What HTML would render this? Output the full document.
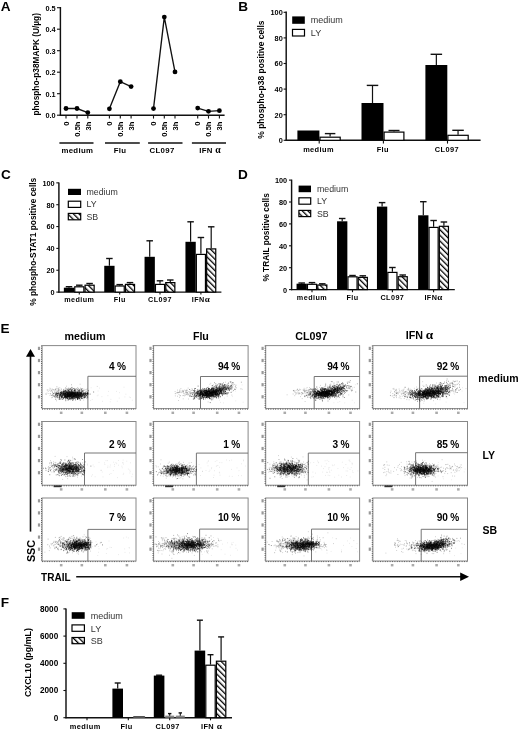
<!DOCTYPE html>
<html><head><meta charset="utf-8"><style>
html,body{margin:0;padding:0;background:#fff;width:520px;height:731px;overflow:hidden}
svg{display:block;filter:blur(0.3px)}
text{font-family:"Liberation Sans",sans-serif}
</style></head><body>
<svg width="520" height="731" viewBox="0 0 520 731">
<text x="0.80" y="10.80" font-size="13.6" text-anchor="start" font-weight="bold" fill="#000" >A</text>
<text x="238.20" y="10.90" font-size="13.6" text-anchor="start" font-weight="bold" fill="#000" >B</text>
<text x="1.00" y="179.30" font-size="13.6" text-anchor="start" font-weight="bold" fill="#000" >C</text>
<text x="238.00" y="179.30" font-size="13.6" text-anchor="start" font-weight="bold" fill="#000" >D</text>
<text x="0.60" y="333.20" font-size="13.6" text-anchor="start" font-weight="bold" fill="#000" >E</text>
<text x="0.80" y="606.90" font-size="13.6" text-anchor="start" font-weight="bold" fill="#000" >F</text>
<line x1="60.40" y1="7.00" x2="60.40" y2="115.80" stroke="#111" stroke-width="1.45"/>
<line x1="59.80" y1="115.20" x2="224.60" y2="115.20" stroke="#111" stroke-width="1.45"/>
<line x1="57.00" y1="115.20" x2="60.40" y2="115.20" stroke="#111" stroke-width="1.1"/>
<text transform="translate(55.60,118.10) scale(0.92,1)" font-size="8.0" text-anchor="end" font-weight="bold" fill="#000" >0.0</text>
<line x1="57.00" y1="93.70" x2="60.40" y2="93.70" stroke="#111" stroke-width="1.1"/>
<text transform="translate(55.60,96.60) scale(0.92,1)" font-size="8.0" text-anchor="end" font-weight="bold" fill="#000" >0.1</text>
<line x1="57.00" y1="72.20" x2="60.40" y2="72.20" stroke="#111" stroke-width="1.1"/>
<text transform="translate(55.60,75.10) scale(0.92,1)" font-size="8.0" text-anchor="end" font-weight="bold" fill="#000" >0.2</text>
<line x1="57.00" y1="50.70" x2="60.40" y2="50.70" stroke="#111" stroke-width="1.1"/>
<text transform="translate(55.60,53.60) scale(0.92,1)" font-size="8.0" text-anchor="end" font-weight="bold" fill="#000" >0.3</text>
<line x1="57.00" y1="29.20" x2="60.40" y2="29.20" stroke="#111" stroke-width="1.1"/>
<text transform="translate(55.60,32.10) scale(0.92,1)" font-size="8.0" text-anchor="end" font-weight="bold" fill="#000" >0.4</text>
<line x1="57.00" y1="7.70" x2="60.40" y2="7.70" stroke="#111" stroke-width="1.1"/>
<text transform="translate(55.60,10.60) scale(0.92,1)" font-size="8.0" text-anchor="end" font-weight="bold" fill="#000" >0.5</text>
<text transform="translate(39.30,64.30) rotate(-90)" font-size="8.3" text-anchor="middle" font-weight="bold" fill="#000" >phospho-p38MAPK (U/µg)</text>
<line x1="66.00" y1="115.20" x2="66.00" y2="118.60" stroke="#111" stroke-width="1.1"/>
<line x1="77.00" y1="115.20" x2="77.00" y2="118.60" stroke="#111" stroke-width="1.1"/>
<line x1="87.80" y1="115.20" x2="87.80" y2="118.60" stroke="#111" stroke-width="1.1"/>
<text transform="translate(68.70,121.50) rotate(-90)" font-size="7.6" text-anchor="end" font-weight="bold" fill="#000" >0</text>
<text transform="translate(79.70,121.50) rotate(-90)" font-size="7.6" text-anchor="end" font-weight="bold" fill="#000" >0.5h</text>
<text transform="translate(90.50,121.50) rotate(-90)" font-size="7.6" text-anchor="end" font-weight="bold" fill="#000" >3h</text>
<polyline points="66.00,108.50 77.00,108.50 87.80,112.60" fill="none" stroke="#111" stroke-width="1.35"/>
<circle cx="66.00" cy="108.50" r="2.4" fill="#000"/>
<circle cx="77.00" cy="108.50" r="2.4" fill="#000"/>
<circle cx="87.80" cy="112.60" r="2.4" fill="#000"/>
<line x1="109.40" y1="115.20" x2="109.40" y2="118.60" stroke="#111" stroke-width="1.1"/>
<line x1="120.30" y1="115.20" x2="120.30" y2="118.60" stroke="#111" stroke-width="1.1"/>
<line x1="131.10" y1="115.20" x2="131.10" y2="118.60" stroke="#111" stroke-width="1.1"/>
<text transform="translate(112.10,121.50) rotate(-90)" font-size="7.6" text-anchor="end" font-weight="bold" fill="#000" >0</text>
<text transform="translate(123.00,121.50) rotate(-90)" font-size="7.6" text-anchor="end" font-weight="bold" fill="#000" >0.5h</text>
<text transform="translate(133.80,121.50) rotate(-90)" font-size="7.6" text-anchor="end" font-weight="bold" fill="#000" >3h</text>
<polyline points="109.40,108.80 120.30,81.70 131.10,86.60" fill="none" stroke="#111" stroke-width="1.35"/>
<circle cx="109.40" cy="108.80" r="2.4" fill="#000"/>
<circle cx="120.30" cy="81.70" r="2.4" fill="#000"/>
<circle cx="131.10" cy="86.60" r="2.4" fill="#000"/>
<line x1="153.50" y1="115.20" x2="153.50" y2="118.60" stroke="#111" stroke-width="1.1"/>
<line x1="164.30" y1="115.20" x2="164.30" y2="118.60" stroke="#111" stroke-width="1.1"/>
<line x1="175.00" y1="115.20" x2="175.00" y2="118.60" stroke="#111" stroke-width="1.1"/>
<text transform="translate(156.20,121.50) rotate(-90)" font-size="7.6" text-anchor="end" font-weight="bold" fill="#000" >0</text>
<text transform="translate(167.00,121.50) rotate(-90)" font-size="7.6" text-anchor="end" font-weight="bold" fill="#000" >0.5h</text>
<text transform="translate(177.70,121.50) rotate(-90)" font-size="7.6" text-anchor="end" font-weight="bold" fill="#000" >3h</text>
<polyline points="153.50,108.60 164.30,17.10 175.00,71.90" fill="none" stroke="#111" stroke-width="1.35"/>
<circle cx="153.50" cy="108.60" r="2.4" fill="#000"/>
<circle cx="164.30" cy="17.10" r="2.4" fill="#000"/>
<circle cx="175.00" cy="71.90" r="2.4" fill="#000"/>
<line x1="197.70" y1="115.20" x2="197.70" y2="118.60" stroke="#111" stroke-width="1.1"/>
<line x1="208.50" y1="115.20" x2="208.50" y2="118.60" stroke="#111" stroke-width="1.1"/>
<line x1="219.40" y1="115.20" x2="219.40" y2="118.60" stroke="#111" stroke-width="1.1"/>
<text transform="translate(200.40,121.50) rotate(-90)" font-size="7.6" text-anchor="end" font-weight="bold" fill="#000" >0</text>
<text transform="translate(211.20,121.50) rotate(-90)" font-size="7.6" text-anchor="end" font-weight="bold" fill="#000" >0.5h</text>
<text transform="translate(222.10,121.50) rotate(-90)" font-size="7.6" text-anchor="end" font-weight="bold" fill="#000" >3h</text>
<polyline points="197.70,108.10 208.50,111.30 219.40,110.70" fill="none" stroke="#111" stroke-width="1.35"/>
<circle cx="197.70" cy="108.10" r="2.4" fill="#000"/>
<circle cx="208.50" cy="111.30" r="2.4" fill="#000"/>
<circle cx="219.40" cy="110.70" r="2.4" fill="#000"/>
<line x1="59.40" y1="143.00" x2="93.50" y2="143.00" stroke="#111" stroke-width="1.5"/>
<text x="77.40" y="152.60" font-size="7.8" text-anchor="middle" font-weight="bold" fill="#000" letter-spacing="0.35">medium</text>
<line x1="105.00" y1="143.00" x2="139.80" y2="143.00" stroke="#111" stroke-width="1.5"/>
<text x="120.00" y="152.60" font-size="7.8" text-anchor="middle" font-weight="bold" fill="#000" letter-spacing="0.35">Flu</text>
<line x1="148.10" y1="143.00" x2="182.50" y2="143.00" stroke="#111" stroke-width="1.5"/>
<text x="162.10" y="152.60" font-size="7.8" text-anchor="middle" font-weight="bold" fill="#000" letter-spacing="0.35">CL097</text>
<line x1="191.90" y1="143.00" x2="226.00" y2="143.00" stroke="#111" stroke-width="1.5"/>
<text x="210.20" y="152.60" font-size="7.8" text-anchor="middle" font-weight="bold" fill="#000" letter-spacing="0.35">IFN <tspan font-family="Liberation Serif" font-size="1.25em">α</tspan></text>
<defs><pattern id="h" patternUnits="userSpaceOnUse" width="4" height="4" patternTransform="rotate(-45)"><rect width="4" height="4" fill="#fff"/><rect x="0" y="0" width="1.3" height="4" fill="#000"/></pattern></defs>
<line x1="286.20" y1="11.60" x2="286.20" y2="140.90" stroke="#111" stroke-width="1.45"/>
<line x1="285.60" y1="140.30" x2="480.60" y2="140.30" stroke="#111" stroke-width="1.45"/>
<line x1="283.60" y1="140.30" x2="286.20" y2="140.30" stroke="#111" stroke-width="1.1"/>
<text transform="translate(282.80,143.20) scale(0.92,1)" font-size="8.0" text-anchor="end" font-weight="bold" fill="#000" >0</text>
<line x1="283.60" y1="114.70" x2="286.20" y2="114.70" stroke="#111" stroke-width="1.1"/>
<text transform="translate(282.80,117.60) scale(0.92,1)" font-size="8.0" text-anchor="end" font-weight="bold" fill="#000" >20</text>
<line x1="283.60" y1="89.10" x2="286.20" y2="89.10" stroke="#111" stroke-width="1.1"/>
<text transform="translate(282.80,92.00) scale(0.92,1)" font-size="8.0" text-anchor="end" font-weight="bold" fill="#000" >40</text>
<line x1="283.60" y1="63.50" x2="286.20" y2="63.50" stroke="#111" stroke-width="1.1"/>
<text transform="translate(282.80,66.40) scale(0.92,1)" font-size="8.0" text-anchor="end" font-weight="bold" fill="#000" >60</text>
<line x1="283.60" y1="37.90" x2="286.20" y2="37.90" stroke="#111" stroke-width="1.1"/>
<text transform="translate(282.80,40.80) scale(0.92,1)" font-size="8.0" text-anchor="end" font-weight="bold" fill="#000" >80</text>
<line x1="283.60" y1="12.30" x2="286.20" y2="12.30" stroke="#111" stroke-width="1.1"/>
<text transform="translate(282.80,15.20) scale(0.92,1)" font-size="8.0" text-anchor="end" font-weight="bold" fill="#000" >100</text>
<text transform="translate(264.00,79.60) rotate(-90)" font-size="8.45" text-anchor="middle" font-weight="bold" fill="#000" >% phospho-p38 positive cells</text>
<rect x="297.40" y="130.50" width="22.00" height="9.80" fill="#000"/>
<line x1="330.10" y1="133.60" x2="330.10" y2="136.60" stroke="#111" stroke-width="1.2"/>
<line x1="324.85" y1="133.60" x2="335.35" y2="133.60" stroke="#111" stroke-width="1.4"/>
<rect x="320.00" y="137.20" width="20.20" height="3.10" fill="#fff" stroke="#000" stroke-width="1.2"/>
<line x1="372.50" y1="85.40" x2="372.50" y2="103.00" stroke="#111" stroke-width="1.2"/>
<line x1="366.75" y1="85.40" x2="378.25" y2="85.40" stroke="#111" stroke-width="1.4"/>
<rect x="361.50" y="103.00" width="22.00" height="37.30" fill="#000"/>
<line x1="394.00" y1="130.50" x2="394.00" y2="131.50" stroke="#111" stroke-width="1.2"/>
<line x1="388.50" y1="130.50" x2="399.50" y2="130.50" stroke="#111" stroke-width="1.4"/>
<rect x="384.10" y="132.10" width="19.80" height="8.20" fill="#fff" stroke="#000" stroke-width="1.2"/>
<line x1="436.35" y1="54.30" x2="436.35" y2="65.00" stroke="#111" stroke-width="1.2"/>
<line x1="430.60" y1="54.30" x2="442.10" y2="54.30" stroke="#111" stroke-width="1.4"/>
<rect x="425.40" y="65.00" width="21.90" height="75.30" fill="#000"/>
<line x1="458.05" y1="130.30" x2="458.05" y2="134.70" stroke="#111" stroke-width="1.2"/>
<line x1="452.30" y1="130.30" x2="463.80" y2="130.30" stroke="#111" stroke-width="1.4"/>
<rect x="447.90" y="135.30" width="20.30" height="5.00" fill="#fff" stroke="#000" stroke-width="1.2"/>
<line x1="319.20" y1="140.30" x2="319.20" y2="143.60" stroke="#111" stroke-width="1.1"/>
<line x1="383.40" y1="140.30" x2="383.40" y2="143.60" stroke="#111" stroke-width="1.1"/>
<line x1="447.50" y1="140.30" x2="447.50" y2="143.60" stroke="#111" stroke-width="1.1"/>
<text x="318.50" y="151.80" font-size="7.4" text-anchor="middle" font-weight="bold" fill="#000" letter-spacing="0.4">medium</text>
<text x="382.80" y="151.80" font-size="7.4" text-anchor="middle" font-weight="bold" fill="#000" letter-spacing="0.4">Flu</text>
<text x="446.90" y="151.80" font-size="7.4" text-anchor="middle" font-weight="bold" fill="#000" letter-spacing="0.4">CL097</text>
<rect x="292.20" y="16.40" width="12.60" height="7.40" fill="#000"/>
<rect x="292.50" y="29.40" width="12.00" height="6.60" fill="#fff" stroke="#000" stroke-width="1.2"/>
<text x="310.80" y="23.30" font-size="9.0" text-anchor="start" fill="#333" >medium</text>
<text x="310.80" y="35.90" font-size="9.0" text-anchor="start" fill="#333" >LY</text>
<line x1="58.90" y1="182.60" x2="58.90" y2="292.70" stroke="#111" stroke-width="1.45"/>
<line x1="58.30" y1="292.10" x2="221.40" y2="292.10" stroke="#111" stroke-width="1.45"/>
<line x1="56.30" y1="292.10" x2="58.90" y2="292.10" stroke="#111" stroke-width="1.1"/>
<text transform="translate(54.70,295.00) scale(0.92,1)" font-size="8.0" text-anchor="end" font-weight="bold" fill="#000" >0</text>
<line x1="56.30" y1="270.25" x2="58.90" y2="270.25" stroke="#111" stroke-width="1.1"/>
<text transform="translate(54.70,273.15) scale(0.92,1)" font-size="8.0" text-anchor="end" font-weight="bold" fill="#000" >20</text>
<line x1="56.30" y1="248.40" x2="58.90" y2="248.40" stroke="#111" stroke-width="1.1"/>
<text transform="translate(54.70,251.30) scale(0.92,1)" font-size="8.0" text-anchor="end" font-weight="bold" fill="#000" >40</text>
<line x1="56.30" y1="226.55" x2="58.90" y2="226.55" stroke="#111" stroke-width="1.1"/>
<text transform="translate(54.70,229.45) scale(0.92,1)" font-size="8.0" text-anchor="end" font-weight="bold" fill="#000" >60</text>
<line x1="56.30" y1="204.70" x2="58.90" y2="204.70" stroke="#111" stroke-width="1.1"/>
<text transform="translate(54.70,207.60) scale(0.92,1)" font-size="8.0" text-anchor="end" font-weight="bold" fill="#000" >80</text>
<line x1="56.30" y1="182.85" x2="58.90" y2="182.85" stroke="#111" stroke-width="1.1"/>
<text transform="translate(54.70,185.75) scale(0.92,1)" font-size="8.0" text-anchor="end" font-weight="bold" fill="#000" >100</text>
<text transform="translate(36.20,241.80) rotate(-90)" font-size="8.4" text-anchor="middle" font-weight="bold" fill="#000" >% phospho-STAT1 positive cells</text>
<line x1="69.00" y1="286.70" x2="69.00" y2="287.70" stroke="#111" stroke-width="1.2"/>
<line x1="65.75" y1="286.70" x2="72.25" y2="286.70" stroke="#111" stroke-width="1.4"/>
<rect x="63.85" y="287.70" width="10.30" height="4.40" fill="#000"/>
<line x1="79.30" y1="285.20" x2="79.30" y2="286.20" stroke="#111" stroke-width="1.2"/>
<line x1="76.05" y1="285.20" x2="82.55" y2="285.20" stroke="#111" stroke-width="1.4"/>
<rect x="74.75" y="286.80" width="9.10" height="5.30" fill="#fff" stroke="#000" stroke-width="1.2"/>
<line x1="89.60" y1="283.50" x2="89.60" y2="284.60" stroke="#111" stroke-width="1.2"/>
<line x1="86.35" y1="283.50" x2="92.85" y2="283.50" stroke="#111" stroke-width="1.4"/>
<rect x="85.05" y="285.20" width="9.10" height="6.90" fill="url(#h)" stroke="#000" stroke-width="1.2"/>
<line x1="79.30" y1="292.10" x2="79.30" y2="294.60" stroke="#111" stroke-width="1.1"/>
<line x1="109.40" y1="258.50" x2="109.40" y2="265.80" stroke="#111" stroke-width="1.2"/>
<line x1="106.15" y1="258.50" x2="112.65" y2="258.50" stroke="#111" stroke-width="1.4"/>
<rect x="104.25" y="265.80" width="10.30" height="26.30" fill="#000"/>
<line x1="119.70" y1="284.60" x2="119.70" y2="285.40" stroke="#111" stroke-width="1.2"/>
<line x1="116.45" y1="284.60" x2="122.95" y2="284.60" stroke="#111" stroke-width="1.4"/>
<rect x="115.15" y="286.00" width="9.10" height="6.10" fill="#fff" stroke="#000" stroke-width="1.2"/>
<line x1="130.00" y1="282.60" x2="130.00" y2="283.80" stroke="#111" stroke-width="1.2"/>
<line x1="126.75" y1="282.60" x2="133.25" y2="282.60" stroke="#111" stroke-width="1.4"/>
<rect x="125.45" y="284.40" width="9.10" height="7.70" fill="url(#h)" stroke="#000" stroke-width="1.2"/>
<line x1="119.70" y1="292.10" x2="119.70" y2="294.60" stroke="#111" stroke-width="1.1"/>
<line x1="149.70" y1="240.80" x2="149.70" y2="256.80" stroke="#111" stroke-width="1.2"/>
<line x1="146.45" y1="240.80" x2="152.95" y2="240.80" stroke="#111" stroke-width="1.4"/>
<rect x="144.55" y="256.80" width="10.30" height="35.30" fill="#000"/>
<line x1="160.00" y1="280.80" x2="160.00" y2="283.80" stroke="#111" stroke-width="1.2"/>
<line x1="156.75" y1="280.80" x2="163.25" y2="280.80" stroke="#111" stroke-width="1.4"/>
<rect x="155.45" y="284.40" width="9.10" height="7.70" fill="#fff" stroke="#000" stroke-width="1.2"/>
<line x1="170.30" y1="280.00" x2="170.30" y2="282.00" stroke="#111" stroke-width="1.2"/>
<line x1="167.05" y1="280.00" x2="173.55" y2="280.00" stroke="#111" stroke-width="1.4"/>
<rect x="165.75" y="282.60" width="9.10" height="9.50" fill="url(#h)" stroke="#000" stroke-width="1.2"/>
<line x1="160.00" y1="292.10" x2="160.00" y2="294.60" stroke="#111" stroke-width="1.1"/>
<line x1="190.60" y1="221.80" x2="190.60" y2="241.80" stroke="#111" stroke-width="1.2"/>
<line x1="187.35" y1="221.80" x2="193.85" y2="221.80" stroke="#111" stroke-width="1.4"/>
<rect x="185.45" y="241.80" width="10.30" height="50.30" fill="#000"/>
<line x1="200.90" y1="237.50" x2="200.90" y2="253.80" stroke="#111" stroke-width="1.2"/>
<line x1="197.65" y1="237.50" x2="204.15" y2="237.50" stroke="#111" stroke-width="1.4"/>
<rect x="196.35" y="254.40" width="9.10" height="37.70" fill="#fff" stroke="#000" stroke-width="1.2"/>
<line x1="211.20" y1="226.80" x2="211.20" y2="248.30" stroke="#111" stroke-width="1.2"/>
<line x1="207.95" y1="226.80" x2="214.45" y2="226.80" stroke="#111" stroke-width="1.4"/>
<rect x="206.65" y="248.90" width="9.10" height="43.20" fill="url(#h)" stroke="#000" stroke-width="1.2"/>
<line x1="200.90" y1="292.10" x2="200.90" y2="294.60" stroke="#111" stroke-width="1.1"/>
<text x="79.30" y="302.30" font-size="7.2" text-anchor="middle" font-weight="bold" fill="#000" letter-spacing="0.45">medium</text>
<text x="119.70" y="302.30" font-size="7.2" text-anchor="middle" font-weight="bold" fill="#000" letter-spacing="0.45">Flu</text>
<text x="160.00" y="302.30" font-size="7.2" text-anchor="middle" font-weight="bold" fill="#000" letter-spacing="0.45">CL097</text>
<text x="200.90" y="302.30" font-size="7.2" text-anchor="middle" font-weight="bold" fill="#000" letter-spacing="0.45">IFN<tspan font-family="Liberation Serif" font-size="1.25em">α</tspan></text>
<rect x="68.00" y="188.80" width="13.00" height="6.20" fill="#000"/>
<text x="86.50" y="194.70" font-size="8.8" text-anchor="start" fill="#333" >medium</text>
<rect x="68.30" y="201.20" width="12.40" height="6.20" fill="#fff" stroke="#000" stroke-width="1.2"/>
<text x="86.50" y="207.20" font-size="8.8" text-anchor="start" fill="#333" >LY</text>
<rect x="68.30" y="213.40" width="12.40" height="6.40" fill="url(#h)" stroke="#000" stroke-width="1.2"/>
<text x="86.50" y="219.70" font-size="8.8" text-anchor="start" fill="#333" >SB</text>
<line x1="291.60" y1="179.60" x2="291.60" y2="290.20" stroke="#111" stroke-width="1.45"/>
<line x1="291.00" y1="289.60" x2="454.80" y2="289.60" stroke="#111" stroke-width="1.45"/>
<line x1="289.00" y1="289.60" x2="291.60" y2="289.60" stroke="#111" stroke-width="1.1"/>
<text transform="translate(287.20,292.50) scale(0.92,1)" font-size="8.0" text-anchor="end" font-weight="bold" fill="#000" >0</text>
<line x1="289.00" y1="267.70" x2="291.60" y2="267.70" stroke="#111" stroke-width="1.1"/>
<text transform="translate(287.20,270.60) scale(0.92,1)" font-size="8.0" text-anchor="end" font-weight="bold" fill="#000" >20</text>
<line x1="289.00" y1="245.80" x2="291.60" y2="245.80" stroke="#111" stroke-width="1.1"/>
<text transform="translate(287.20,248.70) scale(0.92,1)" font-size="8.0" text-anchor="end" font-weight="bold" fill="#000" >40</text>
<line x1="289.00" y1="223.90" x2="291.60" y2="223.90" stroke="#111" stroke-width="1.1"/>
<text transform="translate(287.20,226.80) scale(0.92,1)" font-size="8.0" text-anchor="end" font-weight="bold" fill="#000" >60</text>
<line x1="289.00" y1="202.00" x2="291.60" y2="202.00" stroke="#111" stroke-width="1.1"/>
<text transform="translate(287.20,204.90) scale(0.92,1)" font-size="8.0" text-anchor="end" font-weight="bold" fill="#000" >80</text>
<line x1="289.00" y1="180.10" x2="291.60" y2="180.10" stroke="#111" stroke-width="1.1"/>
<text transform="translate(287.20,183.00) scale(0.92,1)" font-size="8.0" text-anchor="end" font-weight="bold" fill="#000" >100</text>
<text transform="translate(269.20,237.40) rotate(-90)" font-size="8.3" text-anchor="middle" font-weight="bold" fill="#000" >% TRAIL positive cells</text>
<line x1="301.70" y1="283.00" x2="301.70" y2="283.70" stroke="#111" stroke-width="1.2"/>
<line x1="298.45" y1="283.00" x2="304.95" y2="283.00" stroke="#111" stroke-width="1.4"/>
<rect x="296.55" y="283.70" width="10.30" height="5.90" fill="#000"/>
<line x1="312.00" y1="282.60" x2="312.00" y2="283.70" stroke="#111" stroke-width="1.2"/>
<line x1="308.75" y1="282.60" x2="315.25" y2="282.60" stroke="#111" stroke-width="1.4"/>
<rect x="307.45" y="284.30" width="9.10" height="5.30" fill="#fff" stroke="#000" stroke-width="1.2"/>
<line x1="322.30" y1="283.80" x2="322.30" y2="284.40" stroke="#111" stroke-width="1.2"/>
<line x1="319.05" y1="283.80" x2="325.55" y2="283.80" stroke="#111" stroke-width="1.4"/>
<rect x="317.75" y="285.00" width="9.10" height="4.60" fill="url(#h)" stroke="#000" stroke-width="1.2"/>
<line x1="312.00" y1="289.60" x2="312.00" y2="292.20" stroke="#111" stroke-width="1.1"/>
<line x1="342.20" y1="218.50" x2="342.20" y2="221.30" stroke="#111" stroke-width="1.2"/>
<line x1="338.95" y1="218.50" x2="345.45" y2="218.50" stroke="#111" stroke-width="1.4"/>
<rect x="337.05" y="221.30" width="10.30" height="68.30" fill="#000"/>
<line x1="352.50" y1="275.50" x2="352.50" y2="276.20" stroke="#111" stroke-width="1.2"/>
<line x1="349.25" y1="275.50" x2="355.75" y2="275.50" stroke="#111" stroke-width="1.4"/>
<rect x="347.95" y="276.80" width="9.10" height="12.80" fill="#fff" stroke="#000" stroke-width="1.2"/>
<line x1="362.80" y1="275.80" x2="362.80" y2="276.80" stroke="#111" stroke-width="1.2"/>
<line x1="359.55" y1="275.80" x2="366.05" y2="275.80" stroke="#111" stroke-width="1.4"/>
<rect x="358.25" y="277.40" width="9.10" height="12.20" fill="url(#h)" stroke="#000" stroke-width="1.2"/>
<line x1="352.50" y1="289.60" x2="352.50" y2="292.20" stroke="#111" stroke-width="1.1"/>
<line x1="382.10" y1="202.60" x2="382.10" y2="206.60" stroke="#111" stroke-width="1.2"/>
<line x1="378.85" y1="202.60" x2="385.35" y2="202.60" stroke="#111" stroke-width="1.4"/>
<rect x="376.95" y="206.60" width="10.30" height="83.00" fill="#000"/>
<line x1="392.40" y1="267.50" x2="392.40" y2="271.80" stroke="#111" stroke-width="1.2"/>
<line x1="389.15" y1="267.50" x2="395.65" y2="267.50" stroke="#111" stroke-width="1.4"/>
<rect x="387.85" y="272.40" width="9.10" height="17.20" fill="#fff" stroke="#000" stroke-width="1.2"/>
<line x1="402.70" y1="275.00" x2="402.70" y2="276.10" stroke="#111" stroke-width="1.2"/>
<line x1="399.45" y1="275.00" x2="405.95" y2="275.00" stroke="#111" stroke-width="1.4"/>
<rect x="398.15" y="276.70" width="9.10" height="12.90" fill="url(#h)" stroke="#000" stroke-width="1.2"/>
<line x1="392.40" y1="289.60" x2="392.40" y2="292.20" stroke="#111" stroke-width="1.1"/>
<line x1="423.30" y1="201.70" x2="423.30" y2="215.30" stroke="#111" stroke-width="1.2"/>
<line x1="420.05" y1="201.70" x2="426.55" y2="201.70" stroke="#111" stroke-width="1.4"/>
<rect x="418.15" y="215.30" width="10.30" height="74.30" fill="#000"/>
<line x1="433.60" y1="220.50" x2="433.60" y2="226.80" stroke="#111" stroke-width="1.2"/>
<line x1="430.35" y1="220.50" x2="436.85" y2="220.50" stroke="#111" stroke-width="1.4"/>
<rect x="429.05" y="227.40" width="9.10" height="62.20" fill="#fff" stroke="#000" stroke-width="1.2"/>
<line x1="443.90" y1="222.00" x2="443.90" y2="225.70" stroke="#111" stroke-width="1.2"/>
<line x1="440.65" y1="222.00" x2="447.15" y2="222.00" stroke="#111" stroke-width="1.4"/>
<rect x="439.35" y="226.30" width="9.10" height="63.30" fill="url(#h)" stroke="#000" stroke-width="1.2"/>
<line x1="433.60" y1="289.60" x2="433.60" y2="292.20" stroke="#111" stroke-width="1.1"/>
<text x="312.00" y="299.80" font-size="7.2" text-anchor="middle" font-weight="bold" fill="#000" letter-spacing="0.45">medium</text>
<text x="352.50" y="299.80" font-size="7.2" text-anchor="middle" font-weight="bold" fill="#000" letter-spacing="0.45">Flu</text>
<text x="392.40" y="299.80" font-size="7.2" text-anchor="middle" font-weight="bold" fill="#000" letter-spacing="0.45">CL097</text>
<text x="433.60" y="299.80" font-size="7.2" text-anchor="middle" font-weight="bold" fill="#000" letter-spacing="0.45">IFN<tspan font-family="Liberation Serif" font-size="1.25em">α</tspan></text>
<rect x="298.60" y="185.60" width="12.40" height="6.60" fill="#000"/>
<text x="317.00" y="191.90" font-size="8.8" text-anchor="start" fill="#333" >medium</text>
<rect x="298.90" y="197.80" width="11.80" height="6.40" fill="#fff" stroke="#000" stroke-width="1.2"/>
<text x="317.00" y="204.20" font-size="8.8" text-anchor="start" fill="#333" >LY</text>
<rect x="298.90" y="210.40" width="11.80" height="6.20" fill="url(#h)" stroke="#000" stroke-width="1.2"/>
<text x="317.00" y="216.60" font-size="8.8" text-anchor="start" fill="#333" >SB</text>
<line x1="66.00" y1="608.60" x2="66.00" y2="718.30" stroke="#111" stroke-width="1.45"/>
<line x1="65.40" y1="717.70" x2="232.00" y2="717.70" stroke="#111" stroke-width="1.45"/>
<line x1="63.40" y1="717.70" x2="66.00" y2="717.70" stroke="#111" stroke-width="1.1"/>
<text x="58.20" y="720.60" font-size="8.2" text-anchor="end" font-weight="bold" fill="#000" >0</text>
<line x1="63.40" y1="690.50" x2="66.00" y2="690.50" stroke="#111" stroke-width="1.1"/>
<text x="58.20" y="693.40" font-size="8.2" text-anchor="end" font-weight="bold" fill="#000" >2000</text>
<line x1="63.40" y1="663.30" x2="66.00" y2="663.30" stroke="#111" stroke-width="1.1"/>
<text x="58.20" y="666.20" font-size="8.2" text-anchor="end" font-weight="bold" fill="#000" >4000</text>
<line x1="63.40" y1="636.10" x2="66.00" y2="636.10" stroke="#111" stroke-width="1.1"/>
<text x="58.20" y="639.00" font-size="8.2" text-anchor="end" font-weight="bold" fill="#000" >6000</text>
<line x1="63.40" y1="608.90" x2="66.00" y2="608.90" stroke="#111" stroke-width="1.1"/>
<text x="58.20" y="611.80" font-size="8.2" text-anchor="end" font-weight="bold" fill="#000" >8000</text>
<text transform="translate(30.60,662.60) rotate(-90)" font-size="8.9" text-anchor="middle" font-weight="bold" fill="#000" >CXCL10 (pg/mL)</text>
<line x1="87.00" y1="717.70" x2="87.00" y2="720.30" stroke="#111" stroke-width="1.1"/>
<line x1="117.70" y1="683.00" x2="117.70" y2="688.60" stroke="#111" stroke-width="1.2"/>
<line x1="114.70" y1="683.00" x2="120.70" y2="683.00" stroke="#111" stroke-width="1.4"/>
<rect x="112.40" y="688.60" width="10.60" height="29.10" fill="#000"/>
<line x1="128.30" y1="717.70" x2="128.30" y2="720.30" stroke="#111" stroke-width="1.1"/>
<line x1="159.10" y1="675.20" x2="159.10" y2="675.60" stroke="#111" stroke-width="1.2"/>
<line x1="156.10" y1="675.20" x2="162.10" y2="675.20" stroke="#111" stroke-width="1.4"/>
<rect x="153.80" y="675.60" width="10.60" height="42.10" fill="#000"/>
<line x1="169.70" y1="713.60" x2="169.70" y2="716.20" stroke="#111" stroke-width="1.1"/>
<line x1="168.00" y1="713.60" x2="171.40" y2="713.60" stroke="#111" stroke-width="1.4"/>
<rect x="165.20" y="715.60" width="9.00" height="2.10" fill="#888"/>
<line x1="180.30" y1="712.90" x2="180.30" y2="716.20" stroke="#111" stroke-width="1.1"/>
<line x1="178.60" y1="712.90" x2="182.00" y2="712.90" stroke="#111" stroke-width="1.4"/>
<rect x="175.80" y="715.60" width="9.00" height="2.10" fill="#888"/>
<line x1="169.70" y1="717.70" x2="169.70" y2="720.30" stroke="#111" stroke-width="1.1"/>
<line x1="199.90" y1="620.20" x2="199.90" y2="650.60" stroke="#111" stroke-width="1.2"/>
<line x1="196.90" y1="620.20" x2="202.90" y2="620.20" stroke="#111" stroke-width="1.4"/>
<rect x="194.60" y="650.60" width="10.60" height="67.10" fill="#000"/>
<line x1="210.50" y1="654.70" x2="210.50" y2="664.60" stroke="#111" stroke-width="1.2"/>
<line x1="207.50" y1="654.70" x2="213.50" y2="654.70" stroke="#111" stroke-width="1.4"/>
<rect x="205.80" y="665.20" width="9.40" height="52.50" fill="#fff" stroke="#000" stroke-width="1.2"/>
<line x1="221.10" y1="636.90" x2="221.10" y2="660.60" stroke="#111" stroke-width="1.2"/>
<line x1="218.10" y1="636.90" x2="224.10" y2="636.90" stroke="#111" stroke-width="1.4"/>
<rect x="216.40" y="661.20" width="9.40" height="56.50" fill="url(#h)" stroke="#000" stroke-width="1.2"/>
<line x1="210.50" y1="717.70" x2="210.50" y2="720.30" stroke="#111" stroke-width="1.1"/>
<rect x="133.0" y="715.9" width="12.2" height="2.2" rx="1.1" fill="#555"/>
<text x="85.20" y="728.90" font-size="7.4" text-anchor="middle" font-weight="bold" fill="#000" letter-spacing="0.45">medium</text>
<text x="126.60" y="728.90" font-size="7.4" text-anchor="middle" font-weight="bold" fill="#000" letter-spacing="0.45">Flu</text>
<text x="167.70" y="728.90" font-size="7.4" text-anchor="middle" font-weight="bold" fill="#000" letter-spacing="0.45">CL097</text>
<text x="211.60" y="728.90" font-size="7.4" text-anchor="middle" font-weight="bold" fill="#000" letter-spacing="0.45">IFN <tspan font-family="Liberation Serif" font-size="1.25em">α</tspan></text>
<rect x="71.70" y="612.20" width="13.00" height="6.60" fill="#000"/>
<text x="90.80" y="619.20" font-size="9.0" text-anchor="start" fill="#333" >medium</text>
<rect x="72.00" y="624.90" width="12.40" height="6.40" fill="#fff" stroke="#000" stroke-width="1.2"/>
<text x="90.80" y="631.50" font-size="9.0" text-anchor="start" fill="#333" >LY</text>
<rect x="72.00" y="637.50" width="12.40" height="6.20" fill="url(#h)" stroke="#000" stroke-width="1.2"/>
<text x="90.80" y="644.00" font-size="9.0" text-anchor="start" fill="#333" >SB</text>
<rect x="42.10" y="345.60" width="93.90" height="63.00" fill="none" stroke="#888" stroke-width="1"/>
<polyline points="87.90,408.60 87.90,376.30 136.00,376.30" fill="none" stroke="#666" stroke-width="0.9"/>
<text x="125.80" y="369.70" font-size="10.1" text-anchor="end" font-weight="bold" fill="#000" letter-spacing="-0.2">4 %</text>
<line x1="41.50" y1="345.60" x2="41.50" y2="408.60" stroke="#444" stroke-width="1" stroke-dasharray="0.8 1.4"/>
<line x1="42.10" y1="409.20" x2="136.00" y2="409.20" stroke="#444" stroke-width="1" stroke-dasharray="0.8 1.6"/>
<rect x="37.90" y="346.80" width="2.2" height="3.2" fill="#999"/>
<rect x="37.90" y="358.90" width="2.2" height="3.2" fill="#999"/>
<rect x="37.90" y="371.00" width="2.2" height="3.2" fill="#999"/>
<rect x="37.90" y="383.10" width="2.2" height="3.2" fill="#999"/>
<rect x="37.90" y="395.20" width="2.2" height="3.2" fill="#999"/>
<rect x="59.88" y="411.60" width="2.6" height="2.4" fill="#aaa"/>
<rect x="80.54" y="411.60" width="2.6" height="2.4" fill="#aaa"/>
<rect x="104.01" y="411.60" width="2.6" height="2.4" fill="#aaa"/>
<rect x="125.61" y="411.60" width="2.6" height="2.4" fill="#aaa"/>
<rect x="153.60" y="345.60" width="94.50" height="63.00" fill="none" stroke="#888" stroke-width="1"/>
<polyline points="200.50,408.60 200.50,376.50 248.10,376.50" fill="none" stroke="#666" stroke-width="0.9"/>
<text x="240.10" y="369.70" font-size="10.1" text-anchor="end" font-weight="bold" fill="#000" letter-spacing="-0.2">94 %</text>
<line x1="153.00" y1="345.60" x2="153.00" y2="408.60" stroke="#444" stroke-width="1" stroke-dasharray="0.8 1.4"/>
<line x1="153.60" y1="409.20" x2="248.10" y2="409.20" stroke="#444" stroke-width="1" stroke-dasharray="0.8 1.6"/>
<rect x="149.40" y="346.80" width="2.2" height="3.2" fill="#999"/>
<rect x="149.40" y="358.90" width="2.2" height="3.2" fill="#999"/>
<rect x="149.40" y="371.00" width="2.2" height="3.2" fill="#999"/>
<rect x="149.40" y="383.10" width="2.2" height="3.2" fill="#999"/>
<rect x="149.40" y="395.20" width="2.2" height="3.2" fill="#999"/>
<rect x="171.50" y="411.60" width="2.6" height="2.4" fill="#aaa"/>
<rect x="192.29" y="411.60" width="2.6" height="2.4" fill="#aaa"/>
<rect x="215.91" y="411.60" width="2.6" height="2.4" fill="#aaa"/>
<rect x="237.65" y="411.60" width="2.6" height="2.4" fill="#aaa"/>
<rect x="265.70" y="345.60" width="93.90" height="63.00" fill="none" stroke="#888" stroke-width="1"/>
<polyline points="314.20,408.60 314.20,376.50 359.60,376.50" fill="none" stroke="#666" stroke-width="0.9"/>
<text x="349.40" y="369.70" font-size="10.1" text-anchor="end" font-weight="bold" fill="#000" letter-spacing="-0.2">94 %</text>
<line x1="265.10" y1="345.60" x2="265.10" y2="408.60" stroke="#444" stroke-width="1" stroke-dasharray="0.8 1.4"/>
<line x1="265.70" y1="409.20" x2="359.60" y2="409.20" stroke="#444" stroke-width="1" stroke-dasharray="0.8 1.6"/>
<rect x="261.50" y="346.80" width="2.2" height="3.2" fill="#999"/>
<rect x="261.50" y="358.90" width="2.2" height="3.2" fill="#999"/>
<rect x="261.50" y="371.00" width="2.2" height="3.2" fill="#999"/>
<rect x="261.50" y="383.10" width="2.2" height="3.2" fill="#999"/>
<rect x="261.50" y="395.20" width="2.2" height="3.2" fill="#999"/>
<rect x="283.48" y="411.60" width="2.6" height="2.4" fill="#aaa"/>
<rect x="304.14" y="411.60" width="2.6" height="2.4" fill="#aaa"/>
<rect x="327.61" y="411.60" width="2.6" height="2.4" fill="#aaa"/>
<rect x="349.21" y="411.60" width="2.6" height="2.4" fill="#aaa"/>
<rect x="372.90" y="345.60" width="94.60" height="63.00" fill="none" stroke="#888" stroke-width="1"/>
<polyline points="419.60,408.60 419.60,376.20 467.50,376.20" fill="none" stroke="#666" stroke-width="0.9"/>
<text x="459.00" y="369.70" font-size="10.1" text-anchor="end" font-weight="bold" fill="#000" letter-spacing="-0.2">92 %</text>
<line x1="372.30" y1="345.60" x2="372.30" y2="408.60" stroke="#444" stroke-width="1" stroke-dasharray="0.8 1.4"/>
<line x1="372.90" y1="409.20" x2="467.50" y2="409.20" stroke="#444" stroke-width="1" stroke-dasharray="0.8 1.6"/>
<rect x="368.70" y="346.80" width="2.2" height="3.2" fill="#999"/>
<rect x="368.70" y="358.90" width="2.2" height="3.2" fill="#999"/>
<rect x="368.70" y="371.00" width="2.2" height="3.2" fill="#999"/>
<rect x="368.70" y="383.10" width="2.2" height="3.2" fill="#999"/>
<rect x="368.70" y="395.20" width="2.2" height="3.2" fill="#999"/>
<rect x="390.82" y="411.60" width="2.6" height="2.4" fill="#aaa"/>
<rect x="411.63" y="411.60" width="2.6" height="2.4" fill="#aaa"/>
<rect x="435.28" y="411.60" width="2.6" height="2.4" fill="#aaa"/>
<rect x="457.04" y="411.60" width="2.6" height="2.4" fill="#aaa"/>
<rect x="42.10" y="421.50" width="93.90" height="63.70" fill="none" stroke="#888" stroke-width="1"/>
<polyline points="84.50,485.20 84.50,453.00 136.00,453.00" fill="none" stroke="#666" stroke-width="0.9"/>
<text x="125.80" y="447.60" font-size="10.1" text-anchor="end" font-weight="bold" fill="#000" letter-spacing="-0.2">2 %</text>
<line x1="41.50" y1="421.50" x2="41.50" y2="485.20" stroke="#444" stroke-width="1" stroke-dasharray="0.8 1.4"/>
<line x1="42.10" y1="485.80" x2="136.00" y2="485.80" stroke="#444" stroke-width="1" stroke-dasharray="0.8 1.6"/>
<rect x="37.90" y="422.70" width="2.2" height="3.2" fill="#999"/>
<rect x="37.90" y="434.80" width="2.2" height="3.2" fill="#999"/>
<rect x="37.90" y="446.90" width="2.2" height="3.2" fill="#999"/>
<rect x="37.90" y="459.00" width="2.2" height="3.2" fill="#999"/>
<rect x="37.90" y="471.10" width="2.2" height="3.2" fill="#999"/>
<rect x="59.88" y="488.20" width="2.6" height="2.4" fill="#aaa"/>
<rect x="80.54" y="488.20" width="2.6" height="2.4" fill="#aaa"/>
<rect x="104.01" y="488.20" width="2.6" height="2.4" fill="#aaa"/>
<rect x="125.61" y="488.20" width="2.6" height="2.4" fill="#aaa"/>
<rect x="53.60" y="485.40" width="8" height="1.8" fill="#333"/>
<rect x="153.60" y="421.50" width="94.50" height="63.70" fill="none" stroke="#888" stroke-width="1"/>
<polyline points="196.40,485.20 196.40,453.10 248.10,453.10" fill="none" stroke="#666" stroke-width="0.9"/>
<text x="240.10" y="447.60" font-size="10.1" text-anchor="end" font-weight="bold" fill="#000" letter-spacing="-0.2">1 %</text>
<line x1="153.00" y1="421.50" x2="153.00" y2="485.20" stroke="#444" stroke-width="1" stroke-dasharray="0.8 1.4"/>
<line x1="153.60" y1="485.80" x2="248.10" y2="485.80" stroke="#444" stroke-width="1" stroke-dasharray="0.8 1.6"/>
<rect x="149.40" y="422.70" width="2.2" height="3.2" fill="#999"/>
<rect x="149.40" y="434.80" width="2.2" height="3.2" fill="#999"/>
<rect x="149.40" y="446.90" width="2.2" height="3.2" fill="#999"/>
<rect x="149.40" y="459.00" width="2.2" height="3.2" fill="#999"/>
<rect x="149.40" y="471.10" width="2.2" height="3.2" fill="#999"/>
<rect x="171.50" y="488.20" width="2.6" height="2.4" fill="#aaa"/>
<rect x="192.29" y="488.20" width="2.6" height="2.4" fill="#aaa"/>
<rect x="215.91" y="488.20" width="2.6" height="2.4" fill="#aaa"/>
<rect x="237.65" y="488.20" width="2.6" height="2.4" fill="#aaa"/>
<rect x="165.10" y="485.40" width="8" height="1.8" fill="#333"/>
<rect x="265.70" y="421.50" width="93.90" height="63.70" fill="none" stroke="#888" stroke-width="1"/>
<polyline points="308.30,485.20 308.30,453.10 359.60,453.10" fill="none" stroke="#666" stroke-width="0.9"/>
<text x="349.40" y="447.60" font-size="10.1" text-anchor="end" font-weight="bold" fill="#000" letter-spacing="-0.2">3 %</text>
<line x1="265.10" y1="421.50" x2="265.10" y2="485.20" stroke="#444" stroke-width="1" stroke-dasharray="0.8 1.4"/>
<line x1="265.70" y1="485.80" x2="359.60" y2="485.80" stroke="#444" stroke-width="1" stroke-dasharray="0.8 1.6"/>
<rect x="261.50" y="422.70" width="2.2" height="3.2" fill="#999"/>
<rect x="261.50" y="434.80" width="2.2" height="3.2" fill="#999"/>
<rect x="261.50" y="446.90" width="2.2" height="3.2" fill="#999"/>
<rect x="261.50" y="459.00" width="2.2" height="3.2" fill="#999"/>
<rect x="261.50" y="471.10" width="2.2" height="3.2" fill="#999"/>
<rect x="283.48" y="488.20" width="2.6" height="2.4" fill="#aaa"/>
<rect x="304.14" y="488.20" width="2.6" height="2.4" fill="#aaa"/>
<rect x="327.61" y="488.20" width="2.6" height="2.4" fill="#aaa"/>
<rect x="349.21" y="488.20" width="2.6" height="2.4" fill="#aaa"/>
<rect x="277.20" y="485.40" width="8" height="1.8" fill="#333"/>
<rect x="372.90" y="421.50" width="94.60" height="63.70" fill="none" stroke="#888" stroke-width="1"/>
<polyline points="415.60,485.20 415.60,452.70 467.50,452.70" fill="none" stroke="#666" stroke-width="0.9"/>
<text x="459.00" y="447.60" font-size="10.1" text-anchor="end" font-weight="bold" fill="#000" letter-spacing="-0.2">85 %</text>
<line x1="372.30" y1="421.50" x2="372.30" y2="485.20" stroke="#444" stroke-width="1" stroke-dasharray="0.8 1.4"/>
<line x1="372.90" y1="485.80" x2="467.50" y2="485.80" stroke="#444" stroke-width="1" stroke-dasharray="0.8 1.6"/>
<rect x="368.70" y="422.70" width="2.2" height="3.2" fill="#999"/>
<rect x="368.70" y="434.80" width="2.2" height="3.2" fill="#999"/>
<rect x="368.70" y="446.90" width="2.2" height="3.2" fill="#999"/>
<rect x="368.70" y="459.00" width="2.2" height="3.2" fill="#999"/>
<rect x="368.70" y="471.10" width="2.2" height="3.2" fill="#999"/>
<rect x="390.82" y="488.20" width="2.6" height="2.4" fill="#aaa"/>
<rect x="411.63" y="488.20" width="2.6" height="2.4" fill="#aaa"/>
<rect x="435.28" y="488.20" width="2.6" height="2.4" fill="#aaa"/>
<rect x="457.04" y="488.20" width="2.6" height="2.4" fill="#aaa"/>
<rect x="384.40" y="485.40" width="8" height="1.8" fill="#333"/>
<rect x="42.10" y="498.00" width="93.90" height="63.00" fill="none" stroke="#888" stroke-width="1"/>
<polyline points="87.90,561.00 87.90,529.40 136.00,529.40" fill="none" stroke="#666" stroke-width="0.9"/>
<text x="125.80" y="520.60" font-size="10.1" text-anchor="end" font-weight="bold" fill="#000" letter-spacing="-0.2">7 %</text>
<line x1="41.50" y1="498.00" x2="41.50" y2="561.00" stroke="#444" stroke-width="1" stroke-dasharray="0.8 1.4"/>
<line x1="42.10" y1="561.60" x2="136.00" y2="561.60" stroke="#444" stroke-width="1" stroke-dasharray="0.8 1.6"/>
<rect x="37.90" y="499.20" width="2.2" height="3.2" fill="#999"/>
<rect x="37.90" y="511.30" width="2.2" height="3.2" fill="#999"/>
<rect x="37.90" y="523.40" width="2.2" height="3.2" fill="#999"/>
<rect x="37.90" y="535.50" width="2.2" height="3.2" fill="#999"/>
<rect x="37.90" y="547.60" width="2.2" height="3.2" fill="#999"/>
<rect x="59.88" y="564.00" width="2.6" height="2.4" fill="#aaa"/>
<rect x="80.54" y="564.00" width="2.6" height="2.4" fill="#aaa"/>
<rect x="104.01" y="564.00" width="2.6" height="2.4" fill="#aaa"/>
<rect x="125.61" y="564.00" width="2.6" height="2.4" fill="#aaa"/>
<rect x="153.60" y="498.00" width="94.50" height="63.00" fill="none" stroke="#888" stroke-width="1"/>
<polyline points="199.60,561.00 199.60,529.10 248.10,529.10" fill="none" stroke="#666" stroke-width="0.9"/>
<text x="240.10" y="520.60" font-size="10.1" text-anchor="end" font-weight="bold" fill="#000" letter-spacing="-0.2">10 %</text>
<line x1="153.00" y1="498.00" x2="153.00" y2="561.00" stroke="#444" stroke-width="1" stroke-dasharray="0.8 1.4"/>
<line x1="153.60" y1="561.60" x2="248.10" y2="561.60" stroke="#444" stroke-width="1" stroke-dasharray="0.8 1.6"/>
<rect x="149.40" y="499.20" width="2.2" height="3.2" fill="#999"/>
<rect x="149.40" y="511.30" width="2.2" height="3.2" fill="#999"/>
<rect x="149.40" y="523.40" width="2.2" height="3.2" fill="#999"/>
<rect x="149.40" y="535.50" width="2.2" height="3.2" fill="#999"/>
<rect x="149.40" y="547.60" width="2.2" height="3.2" fill="#999"/>
<rect x="171.50" y="564.00" width="2.6" height="2.4" fill="#aaa"/>
<rect x="192.29" y="564.00" width="2.6" height="2.4" fill="#aaa"/>
<rect x="215.91" y="564.00" width="2.6" height="2.4" fill="#aaa"/>
<rect x="237.65" y="564.00" width="2.6" height="2.4" fill="#aaa"/>
<rect x="265.70" y="498.00" width="93.90" height="63.00" fill="none" stroke="#888" stroke-width="1"/>
<polyline points="311.50,561.00 311.50,529.10 359.60,529.10" fill="none" stroke="#666" stroke-width="0.9"/>
<text x="349.40" y="520.60" font-size="10.1" text-anchor="end" font-weight="bold" fill="#000" letter-spacing="-0.2">10 %</text>
<line x1="265.10" y1="498.00" x2="265.10" y2="561.00" stroke="#444" stroke-width="1" stroke-dasharray="0.8 1.4"/>
<line x1="265.70" y1="561.60" x2="359.60" y2="561.60" stroke="#444" stroke-width="1" stroke-dasharray="0.8 1.6"/>
<rect x="261.50" y="499.20" width="2.2" height="3.2" fill="#999"/>
<rect x="261.50" y="511.30" width="2.2" height="3.2" fill="#999"/>
<rect x="261.50" y="523.40" width="2.2" height="3.2" fill="#999"/>
<rect x="261.50" y="535.50" width="2.2" height="3.2" fill="#999"/>
<rect x="261.50" y="547.60" width="2.2" height="3.2" fill="#999"/>
<rect x="283.48" y="564.00" width="2.6" height="2.4" fill="#aaa"/>
<rect x="304.14" y="564.00" width="2.6" height="2.4" fill="#aaa"/>
<rect x="327.61" y="564.00" width="2.6" height="2.4" fill="#aaa"/>
<rect x="349.21" y="564.00" width="2.6" height="2.4" fill="#aaa"/>
<rect x="372.90" y="498.00" width="94.60" height="63.00" fill="none" stroke="#888" stroke-width="1"/>
<polyline points="421.20,561.00 421.20,529.30 467.50,529.30" fill="none" stroke="#666" stroke-width="0.9"/>
<text x="459.00" y="520.60" font-size="10.1" text-anchor="end" font-weight="bold" fill="#000" letter-spacing="-0.2">90 %</text>
<line x1="372.30" y1="498.00" x2="372.30" y2="561.00" stroke="#444" stroke-width="1" stroke-dasharray="0.8 1.4"/>
<line x1="372.90" y1="561.60" x2="467.50" y2="561.60" stroke="#444" stroke-width="1" stroke-dasharray="0.8 1.6"/>
<rect x="368.70" y="499.20" width="2.2" height="3.2" fill="#999"/>
<rect x="368.70" y="511.30" width="2.2" height="3.2" fill="#999"/>
<rect x="368.70" y="523.40" width="2.2" height="3.2" fill="#999"/>
<rect x="368.70" y="535.50" width="2.2" height="3.2" fill="#999"/>
<rect x="368.70" y="547.60" width="2.2" height="3.2" fill="#999"/>
<rect x="390.82" y="564.00" width="2.6" height="2.4" fill="#aaa"/>
<rect x="411.63" y="564.00" width="2.6" height="2.4" fill="#aaa"/>
<rect x="435.28" y="564.00" width="2.6" height="2.4" fill="#aaa"/>
<rect x="457.04" y="564.00" width="2.6" height="2.4" fill="#aaa"/>
<text x="85.10" y="340.10" font-size="10.7" text-anchor="middle" font-weight="bold" fill="#000" >medium</text>
<text x="200.90" y="340.10" font-size="10.7" text-anchor="middle" font-weight="bold" fill="#000" >Flu</text>
<text x="311.30" y="340.10" font-size="10.7" text-anchor="middle" font-weight="bold" fill="#000" >CL097</text>
<text x="419.50" y="339.30" font-size="10.7" text-anchor="middle" font-weight="bold" fill="#000" >IFN <tspan font-family="Liberation Serif" font-size="1.25em">α</tspan></text>
<text x="478.30" y="382.00" font-size="10.5" text-anchor="start" font-weight="bold" fill="#000" >medium</text>
<text x="482.60" y="459.10" font-size="10.5" text-anchor="start" font-weight="bold" fill="#000" >LY</text>
<text x="482.60" y="533.90" font-size="10.5" text-anchor="start" font-weight="bold" fill="#000" >SB</text>
<path transform="scale(0.1)" d="M706 3903h8m28 63h8m-77-11h8m-82 11h8m44 30h8m-72-11h8m118-79h8m146-17h8m-228 76h8m-23-55h8m125 30h8m-24 25h8m-38-74h8m-133-14h8m100 71h8m79-7h8m-252-8h8m98 8h8m-181-27h8m65-19h8m-74 40h8m185-24h8m-132-20h8m177 64h8m-22-17h8m-49 14h8m-51-32h8m51-10h8m12 3h8m-206 33h8m119-29h8m-68 34h8m12-1h8m216 51h8m-232-103h8m85 69h8m102-30h8m-184 3h8m49-43h8m18 29h8m-13 36h8m-163-24h8m148 4h8m146-11h8m-357 44h8m281-36h8m-97-65h8m-99 45h8m160-77h8m-243 82h8m145 56h8m52-39h8m-100-36h8m97 7h8m-98 62h8m80-29h8m85-4h8m-262-3h8m97 3h8m-88 23h8m63-7h8m-165-11h8m64-37h8m38 46h8m124-36h8m21 54h8m-304-71h8m56 34h8m165 4h8m-325-40h8m175 92h8m36-8h8m155-58h8m-76 37h8m-130-12h8m-13-89h8m6 86h8m-29-6h8m7-34h8m70 24h8m-64 3h8m-18 41h8m-118-26h8m125-10h8m-60 46h8m185-63h8m-70 5h8m-89-43h8m75 102h8m-129-18h8m159-1h8m-135-8h8m63-17h8m-233 3h8m189-14h8m-253 2h8m-49 8h8m199 43h8m-79-28h8m120-19h8m-128-17h8m17 67h8m92-33h8m26-13h8m-88-12h8m-12-23h8m101 31h8m-30 28h8m-194-38h8m106 5h8m6 0h8m-139 10h8m150-51h8m-142 41h8m212-19h8m-102 53h8m-20-50h8m-90 40h8m49 29h8m-234-55h8m96-9h8m172 24h8m-307-6h8m349-30h8m-320 44h8m293 46h8m-200-68h8m186 2h8m-85-25h8m-208 41h8m326-47h8m15 4h8m-189 71h8m-33-65h8m6 59h8m-106 14h8m241-38h8m-205 9h8m51 42h8m-97-65h8m12-12h8m-86-23h8m296 42h8m-177 43h8m126-15h8m-122-57h8m-93 2h8m36 11h8m-36 24h8m60-15h8m-54 12h8m1 3h8m-137-18h8m60 8h8m8-2h8m-53 18h8m158 41h8m121-38h8m-351-16h8m141-53h8m-59 63h8m-143-70h8m291 16h8m-99 68h8m4-5h8m-107-25h8m137-47h8m-128 40h8m40-9h8m-124 39h8m-21 49h8m298-61h8m-229-30h8m88-12h8m-47 33h8m-57-3h8m-16-30h8m129 38h8m-120-38h8m10 68h8m13-1h8m130 1h8m-67-47h8m-44 29h8m-122-19h8m-106-8h8m272 2h8m-6-29h8m-141-4h8m74 67h8m21-30h8m-2 12h8m3 24h8m-174-82h8" stroke="#000" stroke-width="8" stroke-opacity="0.28" fill="none"/>
<path transform="scale(0.1)" d="M876 3945h8m-220-31h8m-16-6h8m106-13h8m50 81h8m-213-48h8m130 12h8m-197-6h8m132 5h8m81-3h8m-296 41h8m263-65h8m-300-11h8m379 12h8m-209-7h8m-32 45h8m119 2h8m-88-39h8m77-10h8m-273 23h8m188 39h8m-10-93h8m145 74h8m-374-36h8m162 47h8m65-47h8m-41 18h8m-204-27h8m205 12h8m-160 51h8m-19-12h8m272-27h8m-287-10h8m97-23h8m114 33h8m-26 8h8m-71-1h8m96 0h8m-148-23h8m55 24h8m74 0h8m-66 29h8m-23 13h8m-104-44h8m54-14h8m-75 16h8m135-12h8m-157-3h8m27 15h8m111-22h8m-112 36h8m-75-15h8m192 8h8m-191-10h8m182-12h8m-32-5h8m-147 16h8m101-7h8m-286 17h8m138-5h8m185-30h8m-123 31h8m-17-31h8m36 16h8m-3 8h8m-47-40h8m-75 48h8m-105 1h8m37-6h8m-8-6h8" stroke="#000" stroke-width="8" stroke-opacity="0.3" fill="none"/>
<path transform="scale(0.1)" d="M1021 4013h8m290-11h8m-420-124h8m62 32h8m-16-45h8m128 128h8m-210 13h8m187 12h8m-138-60h8m39 9h8m222 2h8m-276-18h8m183 61h8m-101-55h8m-3-43h8m167 28h8m-296-79h8m327 113h8m-21-5h8m-107-44h8m-280 69h8m262-15h8m-36-67h8m68-42h8m-254 9h8" stroke="#000" stroke-width="8" stroke-opacity="0.13" fill="none"/>
<path transform="scale(0.1)" d="M776 3959h8m-19-36h8m28 12h8m-58-3h8m-61 32h8m42 18h8m-110-16h8m-56-23h8m159 35h8m-56-57h8m19 57h8m-158-40h8m92-41h8m-26 103h8m-28-20h8m-112-50h8m136 23h8m84-7h8m-46 6h8m-82-30h8m36 15h8m50 22h8m-272-5h8m190 19h8m42-21h8m2 43h8m69-59h8m-51 19h8m-70-41h8m-8 12h8m28 49h8m-107-43h8m29 28h8m63-11h8m71-19h8m-167 13h8m0-3h8m11 1h8m78 23h8m-111-2h8m104-23h8m-190-6h8m50 22h8m-9-7h8m66 22h8m11 30h8m-199-34h8m36-17h8m86-2h8m-82-13h8m-73-1h8m184-2h8m-49 11h8m-8 0h8m-81 22h8m105-22h8m-103 4h8m92-19h8m-158 54h8m-4-21h8m71 24h8m-76-19h8m96 13h8m-39-33h8m-97 19h8m66 37h8m-39-74h8m87 45h8m-124 10h8m6-24h8m116 7h8m51-28h8m-153 21h8m3-25h8m91 4h8m-132 1h8m-72 9h8m74 6h8m17 6h8m-104-37h8m-69 67h8m7-17h8m150-8h8m-115-21h8m38 5h8m19 13h8m22-3h8m-79-41h8m54 47h8m-112 43h8m32-93h8m-58 55h8m154-12h8m-95-9h8m-61 29h8m21-50h8m1 26h8m62 26h8m-181-33h8m34-4h8m42 10h8m92 28h8m-88-48h8m53 35h8m93-41h8m-180 37h8m-17-15h8m110-48h8m-62 50h8m5-21h8m-96 12h8m174 39h8m-24-52h8m-94 1h8m1 49h8m-211-26h8m192 28h8m-71-24h8m40-23h8m10 16h8m-85 25h8m-109-6h8m147-18h8m-92 1h8m23-3h8m-28-9h8m11 49h8m-155-38h8m256-22h8m-80 13h8m56 23h8m57-1h8m-154-16h8m-145-10h8m60 13h8m-32-33h8m45 8h8m36 41h8m-164-25h8m168 16h8m-147 17h8m127-11h8m-38-13h8m-24 42h8m11-29h8m-43-20h8m-14 21h8m-88-6h8m116-25h8m132 18h8m3-4h8m-58-35h8m-54 35h8m-112-3h8m151-3h8m-120-23h8m-9 25h8m-25 6h8m21 3h8m-48-24h8m19 34h8m-83-36h8m45 20h8m15-10h8m-21 4h8m50 31h8m5-28h8m-145 1h8m60 10h8m77 16h8m-57-63h8m-19 27h8m100-4h8m-176-1h8m49 4h8m-53 1h8m143 22h8m-266-23h8m88 19h8m2 6h8m82-22h8m-13 17h8m52 29h8m-231-26h8m166-18h8m-86 11h8m-36-17h8m82 23h8m-117 12h8m-95-33h8m120 12h8m-92 26h8m55-32h8m69 14h8m-13-24h8m88 4h8m-142 6h8m-108 51h8m50-49h8m-20-2h8m-30-1h8m116 8h8m-89 15h8m-108-8h8m192 35h8m-68-35h8m27 24h8m-27-23h8m31 7h8m-52-39h8m82 25h8m-69 1h8m-11-4h8m-6-36h8m-148 58h8m89-24h8m-15-1h8m27 3h8m-126 1h8m217 12h8m-123-32h8m-107 6h8m-45 24h8m99-3h8m6-10h8m-55-4h8m53-5h8m-63 15h8m81 23h8m-103-42h8m43 49h8m68-13h8m-157-1h8m33-43h8m-36-5h8m114 8h8m-153 17h8m42 2h8m26-4h8m-79 12h8m-7-43h8m28 50h8m-130-36h8m42 14h8m69 5h8m34-14h8m-33-4h8m-127 7h8m90 19h8m87 11h8m-26 0h8m-56-30h8m-69 4h8m106-2h8m-98 26h8m-53-48h8m20 63h8m161-33h8m-100-6h8m62 21h8m-131 14h8m98-13h8m-123 13h8m25-17h8m62 21h8m-104-26h8m24 29h8m22-24h8m59-1h8m-136-20h8m-102 13h8m102 20h8m14-40h8m-1 37h8m83-5h8m-83-2h8m29-47h8m-152 40h8m140 14h8m84-26h8m-107 16h8m-47-47h8m-15 58h8m114-26h8m-212 30h8m54-52h8m35 48h8m13-18h8m-97 20h8m48-33h8m-52 6h8m22 55h8m-27-59h8m-84 3h8m76 8h8m60-14h8m-147 42h8m47 10h8m60-46h8m-138-20h8m86 55h8m-102-1h8m157-5h8m59-32h8m-176 13h8m64-23h8m-55-1h8m-9 46h8m100-32h8m-223 56h8m170-42h8m-91-13h8m102 27h8m-100 19h8m-72-25h8m63-32h8m26 30h8m-60 19h8m26-35h8m-84-6h8m-129 34h8m220-16h8m-24-24h8m-49 14h8m-14-7h8m65 20h8m-120-4h8m-27 20h8m31-9h8m95-43h8m-201 38h8m185 9h8m-145-8h8m-43 11h8m170-30h8m-110-8h8m-99 36h8m63-38h8m89-21h8m11 60h8m-129-33h8m54 8h8m16-21h8m-110 2h8m67 3h8m-37 15h8m-46 14h8m-5-51h8m34 58h8m-11-36h8m-52 2h8m2 33h8m108-14h8m-76-28h8m42 64h8m16-51h8m-54 21h8m-114 22h8m115-36h8m-93 28h8m155-33h8m-19 35h8m-283-35h8m66 7h8m115 43h8m1-30h8m-12-4h8m-68 41h8m31-36h8m7-23h8m-63 30h8m75-36h8m-254 43h8m209 2h8m-134-34h8m142-1h8m-97 15h8m-58-3h8m87-19h8m-104 30h8m-8-50h8m-58 31h8m108 0h8m31 3h8m32 11h8m-96-29h8m82 34h8m-86-14h8m-16-9h8m42-14h8m28 4h8m-113 29h8m0-25h8m-2 19h8m10 19h8m-82 0h8m137 10h8m-115-36h8m57-15h8m-105 40h8m81-13h8m-6 15h8m-69-21h8m176 23h8m-132-7h8m97-2h8m-69-4h8m-130-2h8m13-4h8m54 0h8m-36 15h8m-9-29h8m-33 43h8m-123-35h8m111 21h8m-157-21h8m186-3h8m-90 44h8m-8-45h8m30-18h8m28 10h8m-135 8h8m-32 47h8m43-37h8m-81 14h8m72-37h8m184 26h8m-206 6h8m120 21h8m-160-47h8m117 24h8m-54-5h8m12-25h8m39 19h8m81-5h8m-125-39h8m-14 55h8m-90-1h8m109-18h8m-70-17h8m72 53h8m-73-23h8m126 14h8m-288 8h8m119-37h8m80 25h8m-100-20h8m-41 4h8m31-1h8m-91 2h8m104 21h8m69-24h8m-177-2h8m9 11h8m28-23h8m97 7h8m-145 9h8m2-10h8m110 9h8m-9-10h8m-101 50h8m-64-13h8m-40-16h8m56-10h8m-123 43h8m215-36h8m-111-8h8m75 8h8m96 0h8m-60 21h8m-182-27h8m143 40h8m14-57h8m-151 30h8m-23-32h8m55 54h8m-120-41h8m222 5h8m-298 19h8m89 6h8m55-45h8m-5 14h8m21-20h8m0 30h8m-44-5h8m93-5h8m-253-6h8m152 6h8m-62-7h8m56 24h8m-1 19h8m-93-66h8m12 35h8m99-6h8m-41 17h8m-85-27h8m196 15h8m-271 16h8m125-11h8m28 5h8m-50-12h8m-41-25h8m-33 41h8m17-6h8m-33-8h8m89 22h8m-94 4h8m-11-44h8m-65 6h8m78 44h8m-71-2h8m45-41h8m84-8h8m-59 10h8m3 3h8m-19-21h8m-31 31h8m-22-25h8m-21 1h8m72 40h8m-146-30h8m174 12h8m-106 13h8m-67 3h8m11-21h8m-22 7h8m55-17h8m-74 49h8m132-21h8m-153-33h8m-119 21h8m107 14h8m-104-5h8m140 26h8m74-9h8m-38-36h8m-157 8h8m35-22h8m182 29h8m-117-2h8m-32 48h8m71-49h8m10-15h8m-95 15h8m9-26h8m11 8h8m-100 9h8m-41 13h8m75-9h8m-83-14h8m58 32h8m4-25h8m161 1h8m-248-17h8m47 11h8m-11 27h8m37-43h8m38 30h8m-124 15h8m-33-21h8m-69 12h8m46-26h8m101 46h8m-45-4h8m-87-17h8m40-37h8m22 13h8m28 39h8m-91 14h8m18-27h8m-125 18h8m42-36h8m199 8h8m-293 4h8m131 8h8m33-37h8m-52 47h8m-41 7h8m48-47h8m-3-4h8m-14 33h8m-143-19h8m122-33h8m-61 60h8m15-12h8m50-12h8m23 49h8m11-37h8m-112-17h8m98 16h8m11-22h8m-11 6h8m11 21h8m-123-18h8m-10 2h8m67 41h8m-172-16h8m110-1h8m-64-5h8m4-1h8m-111 19h8m56-28h8m57 35h8m61-53h8m-1 13h8m-88-21h8m-16 19h8m-56 17h8m84 18h8m-57-41h8m56 13h8m78-7h8m-141-7h8m-118-9h8m39 24h8m-52-34h8m11 35h8m180-2h8m-89-12h8m-139-7h8m155-7h8m38 62h8m-130-61h8m-32 55h8m18-19h8m38-18h8m19-15h8m33 42h8m-6 13h8m-10-51h8m5 12h8m-60 26h8m-173-14h8m97 32h8m26-49h8m-61 21h8m89-34h8m-103 64h8m-50-54h8m169-28h8m-66 40h8m-42-1h8m46 39h8m2-42h8m-62 6h8m-218 11h8m125 19h8m9-31h8m-48 21h8m81-10h8m66-16h8m-133 7h8m-57 0h8m229-18h8m-194 40h8m-66-49h8m102 48h8m6-4h8m-93-20h8m104-13h8m-104 11h8m-40 13h8m74 5h8m37-9h8m-114 14h8m65-30h8m-40 15h8m211-34h8m-273 45h8m149-12h8m-116-11h8m-14 30h8m56-9h8m5-67h8m20 55h8m-78-29h8m-78 48h8m-3 27h8m70-57h8m-2 11h8m53-6h8m-82 12h8m41 5h8m26 12h8m-110-43h8m-131 49h8m15-48h8m-28 23h8m219 17h8m-191-8h8m148-32h8m-56 5h8m77 4h8m-62 8h8m-91 23h8m-15-47h8m13 34h8m-1 3h8m-61-1h8m30-2h8m115 20h8m-257-20h8m139 7h8m-95-5h8m74 23h8m41-70h8m-75 60h8m54-29h8m-185 0h8m194-13h8m-136-18h8m84 29h8m-41-6h8m-216 22h8m129-37h8m66 55h8m92-22h8m-103-10h8m-11-8h8m-133-2h8m205-6h8m21 11h8m-142 10h8m-26-3h8m-113-24h8m179 22h8m-20 8h8m33 32h8m-62-23h8m-123-18h8m166-25h8m-201 4h8m69-5h8m29 46h8m37-29h8m-43 16h8m-10-13h8m-94 14h8m-48 25h8m94-40h8m-66 7h8m-53-9h8m-5 32h8m50-36h8m-110-3h8m30-4h8m-30-1h8m129 36h8m9 40h8m112-68h8m-271 37h8m53-13h8m111-26h8m-92 16h8m-17 1h8m145-9h8m-161 50h8m-70-73h8m-20 43h8m116-1h8m-10-17h8m-134 14h8m21 14h8m106-14h8m-5 5h8m-99 5h8m87-52h8m-12 67h8m-185 15h8m103-24h8m46 0h8m-82-46h8m-125 25h8m131-13h8m69 4h8m55 29h8m-291-33h8m71-21h8m149 33h8m13 5h8m-27-15h8m-71-1h8m-106 50h8m126-59h8m-109 3h8m-143 5h8m234 55h8m75-34h8m-212-20h8m170 6h8m1 28h8m-10-37h8m-127 45h8m-96-1h8m69-26h8m-160 11h8m29 2h8m127 16h8m-89-50h8m54 42h8m-4-29h8m145-8h8m-56 17h8m-108-6h8m86-15h8m-157-11h8m25 12h8m85 46h8m-169 9h8m64-25h8m-86 11h8m100-33h8m105 9h8m-186 6h8m65-26h8m-92 2h8m-27 21h8m-15-8h8m194-14h8m-81 15h8m-98 24h8m99-19h8m-86-6h8m77 8h8m-46-5h8m-9-10h8m17 5h8m-97 22h8m5-2h8m-107 12h8m88-56h8m-82 25h8m88-1h8m-69 11h8m72-12h8" stroke="#000" stroke-width="8" stroke-opacity="0.72" fill="none"/>
<path transform="scale(0.1)" d="M656 3902h8m50 14h8m-187 41h8m185-1h8m72-42h8m-85 45h8m-68-40h8m11 10h8m-4 12h8m-45-14h8m-12 51h8m-38-52h8m182-35h8m-116 60h8m79-41h8m-117 3h8m21-65h8m-29 96h8m49-4h8m24-1h8m-60 4h8m-91 18h8m-17-42h8m211 24h8m-182-41h8m-9 10h8m150 33h8m-42-16h8m-58-41h8m-92 41h8m63-29h8m6 30h8m-72-20h8m-120-28h8m-1 11h8m149 69h8m-10-78h8m-65 41h8m-91 10h8m-33 0h8m92-44h8m-109 21h8m204 11h8m15 16h8m-33-47h8m-140 52h8m-33 3h8m16-42h8m30 25h8m95-7h8m-40 17h8m-10-50h8m-42 33h8m32-7h8m63-23h8m-234 32h8m47-4h8m-92-11h8m263 20h8m-37-44h8m-57 33h8m-184 11h8m116-3h8m-45 19h8m20-55h8m-32-7h8m56 42h8m-91 5h8m105 40h8m-63-36h8m-56-36h8m8 40h8m-38-39h8m105-16h8m-105 99h8m43-55h8m-70 9h8m-107-3h8m208 29h8m-185-36h8m148 22h8m-31-54h8m-195-8h8m56 67h8m31 1h8m-36-23h8m-40-7h8m165-1h8m-97-21h8m49 54h8m-82-21h8m58-4h8m-103-3h8m58 16h8m46-13h8m-56 6h8m-53-46h8m-65 40h8m105 40h8m8-64h8m-62 9h8m-54 24h8m110 2h8m-84-62h8m49 51h8m-4-40h8m-273 8h8m234 33h8m-83-20h8m181 26h8m-156 57h8m-55-57h8m42-2h8m27-38h8m-73 6h8m37-11h8m-125 13h8m94-13h8m82 10h8m-14-8h8m-48-10h8m75 1h8m-23 44h8m50-10h8m-61 24h8m-116 0h8m26-33h8m-15 24h8m3-51h8m-17 90h8m-96-26h8m-127-34h8m121-23h8m-130 37h8m180-54h8m-14 26h8m-159 37h8m205-16h8m8-14h8m-77 35h8m133-48h8m10 32h8m-285-19h8m194-8h8m-61 31h8m-10-35h8m38 70h8m-157-60h8m4 62h8m-29-74h8m-2 41h8m51-44h8m-130-3h8m29 36h8m138 12h8m-66-47h8m32 59h8m-212-47h8m91 22h8m13 6h8m45 5h8m-64-57h8m129 82h8m-97-26h8m-1-23h8m-9-15h8m55-16h8m-114 8h8m135 46h8m-68-21h8m-35-19h8m-18 14h8m35 51h8m36-46h8m-14-6h8m-59 46h8m37-21h8m-76-10h8m94-16h8m-123-22h8m-193 9h8m299 16h8m-118 7h8m-123 14h8m79 4h8m-70-8h8m117-29h8m-194-28h8m182 39h8m-93-10h8m201 7h8m-276 9h8m-115-23h8m200 3h8m-45 25h8m-14 5h8m-164-19h8m223 28h8m105-17h8m-331-19h8m269 25h8m-164 44h8m82-17h8m-64 5h8m108 3h8m-60-56h8m-108 68h8m109-45h8m-118-9h8m-123 0h8m122 7h8m-32-5h8m77 35h8m-178-48h8m10-8h8m69 44h8m-10-2h8m45 9h8m87-52h8m-152 52h8m79-14h8m2 30h8m-160-72h8m111 35h8m-114-12h8m173-31h8m-63 21h8m-48 44h8m-130-38h8m123-6h8m-87 38h8m125 3h8m-83 0h8m-70-43h8m148 18h8m-26 26h8m-126-41h8m150-2h8m-140 38h8m-9 17h8m31-65h8" stroke="#000" stroke-width="8" stroke-opacity="0.4" fill="none"/>
<path transform="scale(0.1)" d="M2123 3977h8m-154-72h8m98-34h8m-70 68h8m388-46h8m-230 27h8m-211-19h8m-18 65h8m51-62h8m-153 10h8m103 0h8m-7 15h8m188-3h8m-164 20h8m-54-13h8m-69 37h8m8-28h8m127 6h8m-35-66h8m151-28h8m-208 100h8m184-93h8m-99 46h8m-38 10h8m-248 22h8m78-11h8m241 21h8m54-127h8m-136 121h8m64 32h8m-156-47h8m-4-2h8m-40 27h8m191 5h8m-95-79h8m-71 48h8m-21-7h8m100 7h8m-37-8h8m-143 34h8m290-74h8m-179 38h8m-41-17h8m167-24h8m-60 23h8m-140 18h8m62-41h8m-188 109h8m36-58h8m-205-10h8m416 15h8m-387-3h8m304-5h8m-190 9h8m-24 11h8m85-16h8m43-30h8m36 13h8m138 40h8m-194-103h8m64 59h8m-182 36h8m141-66h8m-76 0h8m-66 115h8m25-81h8m6 72h8m16-50h8m15-17h8m-114 27h8m-35 8h8m171-8h8m-302 18h8m119-26h8m250-36h8m-509 106h8m229-49h8m149-77h8m-285 50h8m501-43h8m-628 59h8m471-60h8m4-19h8m-81 31h8m-141 39h8m64 8h8m-162-9h8m204 33h8m-246-32h8m106 83h8m134-86h8m-261 20h8m77-42h8m45-78h8m-176 105h8m291-32h8m-98 65h8m-243-67h8m180 73h8m-103-52h8m10 27h8m66-109h8m-91 93h8m189-42h8m-202 58h8m190-46h8m-135-19h8m108 47h8m-175 16h8m-5-4h8m-83 23h8m198-26h8m30-39h8m127-60h8m-106 13h8m-121 99h8m-65-11h8m61-28h8m-60-9h8m171-12h8m-70 9h8m-221 19h8m8-13h8m249 50h8m-142-39h8m-76-16h8m158-44h8m-193 43h8m11 41h8m-30 4h8m-190-4h8m329-39h8m-256 24h8m65-34h8m-19 74h8m163-52h8m-94 76h8m-11-98h8m-207 47h8m185 4h8m-177-11h8m199-63h8m1 12h8m-50 37h8m238-27h8m-190 12h8m5 32h8m-62 7h8m-51-14h8m129-28h8m7-11h8m-290 64h8m273-28h8m-76-17h8m47 4h8m-70-14h8m-216-4h8m2 11h8m356 2h8m-196 17h8m-202 62h8m196-75h8m-89 36h8m-183 38h8m-62-2h8m67-59h8m217-19h8m-45 15h8m-37-30h8m62 34h8m32 11h8m-336 1h8m216 43h8m-80-59h8m-55 10h8m73-13h8m40-21h8m-20 36h8m-151 8h8m115 32h8" stroke="#000" stroke-width="8" stroke-opacity="0.28" fill="none"/>
<path transform="scale(0.1)" d="M1790 3916h8m-3 41h8m81-41h8m12-7h8m38 43h8m-133 4h8m168-24h8m-93-45h8m50 25h8m-107 26h8m-118-13h8m-24 34h8m162-64h8m-66 45h8m-4-29h8m-39 43h8m-48-31h8m72 25h8m-67-37h8m164-17h8m-201 7h8m205 11h8m-37-10h8m-136 49h8m97 3h8m-60-23h8m-39-29h8m85 20h8m-3-12h8m-178 47h8m183-25h8m-244 4h8m-16-20h8m122-35h8m-58 27h8m25-8h8m7 33h8m-11-6h8m111-20h8m-5 9h8m-163 43h8m-23-55h8m91 1h8m-131 15h8m46-10h8m78 6h8m-200 21h8m198 26h8m-18-77h8m-101 39h8m-46 1h8m71-3h8m-74-2h8m134-3h8m-71 29h8m-84-32h8m127 7h8m-62 3h8m-136 2h8m68-6h8m12 26h8m115-22h8m-176 4h8m26-5h8m135-21h8m-157 4h8m100-5h8m-205 27h8m72-20h8m-64-7h8m181 28h8m-98 7h8m-98-51h8m-42 76h8m81-36h8m-96-3h8m97 25h8m58-21h8m-121-15h8m-47 61h8m45-72h8m-61 22h8m175 21h8m-210-43h8m166 22h8m-118 11h8m99 44h8m3-73h8m-180 19h8m160 15h8" stroke="#000" stroke-width="8" stroke-opacity="0.3" fill="none"/>
<path transform="scale(0.1)" d="M2403 3892h8m16 130h8m-81-13h8m-177-25h8m-68-110h8m284-25h8m-224 175h8m22 5h8m84-135h8m-12 72h8m-6-122h8m-39 75h8m-58 62h8m105-69h8m-171 89h8" stroke="#000" stroke-width="8" stroke-opacity="0.13" fill="none"/>
<path transform="scale(0.1)" d="M2117 3858h8m-31 61h8m56-38h8m-85 10h8m70 54h8m-144 10h8m94-70h8m-61 69h8m20-12h8m-19-27h8m56 29h8m-219-36h8m156-5h8m-135 6h8m181-9h8m-226 65h8m55-56h8m-54 8h8m223-16h8m-209 44h8m88-20h8m-51 31h8m-99-28h8m93-22h8m63 11h8m-66 18h8m69-29h8m-97 35h8m21 33h8m-40-52h8m44 10h8m103 20h8m-119-36h8m-20-4h8m-65-1h8m-15 35h8m147-10h8m-189 0h8m6 3h8m52 23h8m-32-7h8m154-66h8m-307 58h8m182-14h8m18 12h8m-138-11h8m25-12h8m67-3h8m73-37h8m-182 55h8m-55-9h8m172 9h8m27-37h8m-136 24h8m-140-1h8m247-24h8m-120 51h8m82-35h8m-87 28h8m-35-34h8m-10 28h8m122-53h8m-8 28h8m-257 22h8m78 17h8m180-26h8m-158 5h8m-75 30h8m86-24h8m-16 9h8m-6 5h8m-37-17h8m4-6h8m-17 15h8m45-22h8m-86 26h8m30 13h8m2-7h8m90-37h8m-75-15h8m-39 31h8m37-5h8m-15 29h8m37-38h8m-48 7h8m83 14h8m-41-25h8m-104 16h8m-31 45h8m82-13h8m-35-18h8m-51-4h8m-107-20h8m-30 37h8m143-25h8m22 1h8m-7-17h8m-153 24h8m154-18h8m-117 21h8m59 20h8m-8-24h8m-97-39h8m8 14h8m-113-5h8m74 11h8m-67 37h8m148-18h8m-36-20h8m53 14h8m-49-20h8m-78-9h8m60-5h8m-58 17h8m66 46h8m-34-62h8m-94 67h8m62-4h8m-8-35h8m-33 6h8m75-21h8m50 9h8m-151 28h8m-9-15h8m-138 34h8m140-8h8m-31-18h8m-128 11h8m162-24h8m14 7h8m-104-25h8m21 32h8m-50-1h8m110-35h8m-161 83h8m70-78h8m150-12h8m-138 38h8m17-53h8m-49 30h8m-81-11h8m73 6h8m24 16h8m-107 19h8m89 10h8m54-12h8m-19 9h8m-194 3h8m32-28h8m-49 40h8m176-53h8m-41 0h8m3 48h8m-120-7h8m-29-11h8m80 4h8m-6 3h8m-79-45h8m64 23h8m24-28h8m-34 32h8m-98-10h8m-79 53h8m120-31h8m19-33h8m-36 21h8m-22-26h8m-24 30h8m91 3h8m-62-2h8m0-51h8m-82 43h8m19 17h8m46-9h8m-88 26h8m-31-54h8m61 36h8m96-37h8m-76 26h8m80-3h8m-118 16h8m-23-28h8m-82 24h8m46-36h8m132-17h8m-81 51h8m19-16h8m-13-36h8m-56 22h8m-20 21h8m17 34h8m30-15h8m-24-5h8m-10-59h8m-29 41h8m-71 18h8m27-5h8m-55 5h8m126-27h8m-220 65h8m123-18h8m170-52h8m-200-4h8m-57 75h8m65-67h8m86 32h8m-107 25h8m40-70h8m-42 32h8m-42-12h8m240-2h8m-224 15h8m-47 41h8m-7-32h8m51-19h8m-3 26h8m14-34h8m-52 1h8m-112 70h8m122-82h8m-66 12h8m-5 12h8m-94-18h8m54-29h8m-13 73h8m37-46h8m-107 14h8m98-5h8m-4-15h8m-95 6h8m29 25h8m-20 53h8m112-49h8m-248 21h8m140-65h8m-97 42h8m75-34h8m85 37h8m-113-14h8m47 2h8m-77 3h8m185-29h8m-81-15h8m11 47h8m-184-30h8m9 3h8m146 7h8m-98-1h8m-11 22h8m35 14h8m-120-8h8m133-14h8m-61 1h8m26 16h8m-94-55h8m79 44h8m-95-22h8m107-17h8m7 27h8m-24-8h8m-34 25h8m1 11h8m-247-58h8m243 30h8m-81 53h8m15-27h8m-33 16h8m-88-25h8m48-40h8m77 0h8m48 37h8m-150 18h8m-31-37h8m158-3h8m-170 26h8m194-64h8m-146 44h8m-69 51h8m123 2h8m37-57h8m-222 63h8m196-72h8m-137 5h8m112-44h8m-132 85h8m-94-23h8m143 49h8m17-48h8m73-11h8m-38-43h8m-73 82h8m-76-37h8m-28 6h8m4-48h8m-39 75h8m31-2h8m-170-23h8m184 0h8m-22 8h8m174-3h8m-136-9h8m-91 45h8m61-51h8m-134 2h8m36 0h8m-100-40h8m225 19h8m-63 47h8m-133-6h8m68-32h8m65 21h8m-45-52h8m-12 41h8m-93 26h8m8 3h8m40-39h8m53 34h8m-128 33h8m-33-51h8m152 13h8m-157-40h8m131-22h8m-61 64h8m35-17h8m53-1h8m-83-12h8m-2 6h8m-123 36h8m9 19h8m81-52h8m52-38h8m-12 68h8m55-22h8m-148 15h8m-17-11h8m53 44h8m-82-46h8m-12 11h8m-82-48h8m137 17h8m-152 10h8m104 5h8m-142 20h8m165-40h8m-151 70h8m117-76h8m-177 29h8m74 9h8m102-44h8m-143 54h8m53-4h8m-48-18h8m-131 62h8m171-58h8m1 4h8m-118-19h8m108-27h8m-102 32h8m-22 9h8m62-10h8m-53 33h8m193-91h8m-274 52h8m151-30h8m16 72h8m-219-26h8m9 0h8m151-28h8m-77 52h8m50-35h8m46 10h8m-118-43h8m-50 78h8m-126-7h8m197-15h8m-85 23h8m75-40h8m-13 1h8m-119 30h8m208-26h8m-54-11h8m-24 8h8m-151 0h8m49 23h8m-17 6h8m-1-22h8m-54 47h8m94-88h8m-20 31h8m6 44h8m-73-44h8m115-38h8m-79 76h8m-214-2h8m135-53h8m36 42h8m60-47h8m-97 0h8m-2 27h8m-37-5h8m83-22h8m-84 23h8m-20-13h8m-16 25h8m83-10h8m-83 24h8m-90-20h8m151-34h8m-101 8h8m68 18h8m-3 41h8m49-21h8m-23-33h8m-117 46h8m16-51h8m-82 57h8m196-50h8m-92 34h8m58-9h8m-129-11h8m-127 25h8m239-54h8m-107 32h8m-3 26h8m-7 70h8m26-82h8m-17-13h8m-158-13h8m183 32h8m-126-53h8m-2 19h8m147 14h8m-67-31h8m-91 70h8m-114-1h8m129-50h8m18-2h8m-52-14h8m-90 5h8m28 40h8m-40 7h8m94-15h8m34-6h8m4-20h8m-128 32h8m55-48h8m18 32h8m-80 40h8m17-6h8m147-55h8m-141 15h8m42 35h8m-99 18h8m19-79h8m-128 36h8m111 4h8m79 16h8m51-53h8m-68 39h8m-46-18h8m-47 65h8m-57-40h8m21-16h8m46-9h8m-103 40h8m111-19h8m-145-29h8m-61 35h8m43-41h8m-53 18h8m12-14h8m166-16h8m-99 22h8m20-9h8m61 29h8m-1 6h8m-133-13h8m118-32h8m-70 50h8m-40-63h8m23 0h8m-133 72h8m36-5h8m40 3h8m40-32h8m-79-18h8m11 16h8m71 18h8m20-33h8m-53 5h8m26-19h8m-125 16h8m3 45h8m35-13h8m-54-33h8m-23 3h8m144-1h8m-135 37h8m-65-35h8m96 14h8m82-54h8m-129 32h8m76 31h8m-124 21h8m-16-47h8m-21 10h8m34 33h8m127-39h8m-217 15h8m189 7h8m-193 9h8m48 16h8m66-14h8m-25-30h8m-32 13h8m-142 13h8m129-42h8m-103 17h8m246 23h8m-207-42h8m25 57h8m-102-8h8m37-14h8m-63 20h8m150-15h8m-93 24h8m46-42h8m-94 12h8m4-2h8m122 38h8m-168-7h8m-70-38h8m148 0h8m-117 1h8m42 12h8m87-4h8m-125 59h8m103-105h8m-112 75h8m143-27h8m-22-25h8m-132 24h8m9-10h8m-50 16h8m66 16h8m53-64h8m-183 81h8m153-53h8m-160 57h8m22-28h8m-71 24h8m262-39h8m-150 25h8m3-25h8m-74-15h8m117 24h8m-229 20h8m143 19h8m136-107h8m-185 57h8m22 26h8m33-57h8m-109 33h8m55 49h8m56-22h8m-66-48h8m9 52h8m-59-1h8m38-14h8m-27-7h8m89-12h8m-61-21h8m-75 14h8m-159 42h8m211-33h8m-2 39h8m-129-40h8m-87-41h8m56 43h8m137 1h8m-147 15h8m34-11h8m38-25h8m66 47h8m-99-42h8m-11 32h8m-41-20h8m142-34h8m-42 63h8m-97-83h8m-95 46h8m37 26h8m86-26h8m-97 33h8m103-29h8m-46-5h8m-7 60h8m12-57h8m-19 3h8m-104-13h8m30 4h8m180 16h8m-255 20h8m42-18h8m98-25h8m-91 39h8m-58-51h8m-41 35h8m122-10h8m24-16h8m21 21h8m-104-11h8m61-9h8m-147 72h8m73-31h8m-66 15h8m49-31h8m34 17h8m14-6h8m-151 23h8m152 12h8m-135-49h8m-45 15h8m51-12h8m-105-72h8m98 40h8m15 30h8m-41 18h8m41-33h8m-64 45h8m15 1h8m-112-30h8m99 33h8m-70 13h8m18-32h8m13-35h8m17 54h8m-139-26h8m-3-5h8m81 3h8m45-19h8m-13 37h8m29-10h8m21 8h8m-65-10h8m-47-28h8m-77 21h8m0 23h8m23-32h8m50 71h8m-18-72h8m-24-6h8m-15 40h8m45-14h8m-39-15h8m-2-5h8m-6 15h8m-66 14h8m-42 2h8m96-34h8m-12 17h8m-52 14h8m-21-1h8m172-105h8m-216 69h8m30 0h8m27 9h8m-106 18h8m82 9h8m109-17h8m-70-12h8m-29 6h8m-7 40h8m-46-52h8m52 16h8m-83 36h8m-29-26h8m24-58h8m53 50h8m-50-14h8m17 4h8m-194 43h8m215-33h8m71-23h8m-76 32h8m-124 0h8m-46-4h8m71-3h8m-96 7h8m110-24h8m-96 5h8m97 2h8m18-25h8m-245 14h8m159 44h8m-80-29h8m-57 9h8m47-7h8m20 1h8m79-8h8m-186 17h8m170-36h8m63 34h8m-111-29h8m-8 40h8m-53-64h8m-87 27h8m115 36h8m-21-25h8m16-14h8m122 13h8m-139-21h8m-27 27h8m66-59h8m-207 58h8m6-6h8m48 23h8m-27 9h8m83-48h8m-74 63h8m131-63h8m-26-32h8m-61-3h8m-81 97h8m59-44h8m4-14h8m-139 9h8m90-16h8m22 54h8m-45-30h8m90 34h8m-37-43h8m-154-37h8m64 68h8m-77-22h8m91-6h8m-105 50h8m113-53h8m-43 36h8m31-30h8m-88-10h8m-97 37h8m215-46h8m-140 54h8m100-15h8m-76-15h8m10 11h8m73-8h8m-114-10h8m68 20h8m-211-8h8m158 5h8m-89-29h8m2 23h8m2 6h8m14-29h8m84 0h8m-253 19h8m127 17h8m-64-28h8m125 15h8m-116 35h8m51-33h8m-72-39h8m70 33h8m18 19h8m-109-22h8m26 29h8m-112-2h8m112-15h8m29-19h8m-107 3h8m110-5h8m-230 27h8m8 9h8m24-5h8m54-22h8m27 6h8m-14 8h8m-11-47h8m49 15h8m-92 7h8m-61 18h8m-7-1h8m226-21h8m-321 14h8m147 22h8m105-19h8m-80-38h8m-96 46h8m48-31h8m58 59h8m11-51h8m-154 14h8m108 1h8m-44-4h8m52-2h8m15 35h8m-131-19h8m-84 20h8m121-4h8m84-57h8m-79 68h8m-42-20h8m144-7h8m-251-21h8m131 27h8m-112-1h8m33-25h8m1 64h8m88-48h8m-181-3h8m21 7h8m-80 23h8m137-8h8m-75-6h8m55 9h8m-112 15h8m37-67h8m91 9h8m-94-3h8m50 19h8m-12 31h8m-71-12h8m-96-32h8m171 2h8m-62 35h8m46-41h8m-217 29h8m18 7h8m-46-46h8m85 52h8m125-22h8m-40 8h8m-53-32h8m4 4h8m36 0h8m-81 26h8m41-8h8m-26 3h8m-167 52h8m117-22h8m109-57h8m-130 12h8m15 53h8m-45-44h8m4 38h8m105-5h8m-110-40h8m-60 11h8" stroke="#000" stroke-width="8" stroke-opacity="0.72" fill="none"/>
<path transform="scale(0.1)" d="M2215 3942h8m-76 2h8m-21-18h8m12-89h8m92 41h8m-93 35h8m4-22h8m-24 11h8m-49 95h8m165-132h8m-273 46h8m114 2h8m71-35h8m-140 33h8m129-28h8m41 11h8m-155 22h8m56-54h8m-91 49h8m106-12h8m-43-17h8m11 39h8m68-29h8m-80-29h8m60 18h8m-46 54h8m-135 20h8m81-65h8m13 20h8m-149-7h8m176-66h8m-82 72h8m11-13h8m-92 28h8m54-30h8m10 5h8m-56-11h8m26 18h8m-155 47h8m222-82h8m-170 64h8m-97-47h8m81 4h8m15 54h8m87-15h8m-116-14h8m71-29h8m-100-8h8m217-13h8m-118 39h8m74-81h8m-197 102h8m105-30h8m-118 26h8m86-66h8m10 41h8m-176-13h8m42 68h8m-18-34h8m-39-27h8m60 50h8m-25-1h8m-52-37h8m115 46h8m2-89h8m-126 65h8m49 9h8m8-97h8m-3 87h8m-47-19h8m95-24h8m-12-28h8m-11 39h8m-77-22h8m142-33h8m-22 17h8m-158 17h8m29 66h8m62-96h8m-139 48h8m76-9h8m-30 14h8m-54 33h8m24-8h8m-106-5h8m61-20h8m-104 36h8m288-53h8m-62 10h8m-34-26h8m-81-23h8m66 94h8m3-35h8m-30-13h8m-14 4h8m-138 9h8m80-35h8m-69 34h8m-51 13h8m-8-11h8m93-47h8m42 18h8m-167 64h8m197-80h8m-24 18h8m-147-22h8m-1 49h8m19-5h8m56-46h8m-104 11h8m-43 66h8m82-55h8m-163 73h8m136-60h8m68 9h8m-72-10h8m17-37h8m-19 40h8m6-10h8m-41 35h8m-81-11h8m33-9h8m10 29h8m85-15h8m14-16h8m-88 27h8m-91 5h8m-5 8h8m30-7h8m96-38h8m-82 9h8m-34 9h8m-42 69h8m89-89h8m-50 4h8m-32 3h8m5 5h8m101-19h8m-142-4h8m112-53h8m-24 65h8m-101-27h8m61 33h8m-78 14h8m-49 37h8m33 4h8m-59-22h8m82-48h8m-45-7h8m32 0h8m14 17h8m-289 14h8m239-4h8m-152 33h8m129-17h8m-85-7h8m62-5h8m72-43h8m-215 59h8m113-65h8m-15 52h8m-122 67h8m156-78h8m-48 16h8m-54-25h8m-7 64h8m245-122h8m-243 101h8m-108 6h8m45-41h8m43 40h8m-16-25h8m14-1h8m-72 23h8m97-39h8m-80 9h8m-62 36h8m23-31h8m24 4h8m71-39h8m-37-15h8m-59 35h8m17-2h8m9 10h8m123-2h8m-207-27h8m78 27h8m-6-63h8m-114 58h8m73-6h8m-21-44h8m-49 21h8m76 33h8m22-9h8m-2-7h8m-102 5h8m36 68h8m125-95h8m-247 41h8m98 42h8m30-39h8m-64-12h8m36 31h8m-47-18h8m34 2h8m26-19h8m-119-6h8m34 43h8m-31-16h8m-39-24h8m20 0h8m-73 62h8m111-65h8m60-6h8m-4 16h8m-41-6h8m-170-4h8m174 12h8m-158 46h8m37-13h8m126-13h8m-215 17h8m125-22h8m-41 30h8m-49-40h8m-45 64h8m81-22h8m-75-9h8m102 1h8m-2-28h8m-196 0h8m64 36h8m-1-23h8m-66 16h8m-5-7h8m82 10h8m-34-16h8m-114-7h8m76 11h8m65-11h8m-134-8h8m13 3h8m162-42h8m-27-1h8m-202 74h8m15 13h8m115-8h8m-119 9h8m54-20h8m-20 6h8m61-12h8m-228 9h8m21 22h8m56-26h8m141-49h8m-89 11h8m-114 25h8m143-31h8m0-28h8m-61 60h8m-18-12h8m45-10h8m46-7h8m-77 28h8m9-40h8m-44 22h8m-40-32h8m-48-6h8m73-13h8m-24 97h8m-25-86h8m86 38h8m-32 33h8m6-55h8m-161 94h8m139-31h8m-92-3h8m-14 40h8m-22-44h8m124-69h8m-26 38h8m-119 2h8m-42-15h8m70-18h8m-18 98h8m118-108h8m-216 66h8m-37-10h8m104-6h8m7-14h8m-1-6h8m30-31h8m80-27h8m-168 57h8m-15 30h8m-79 65h8m121-59h8m39 9h8m-93-15h8m87-39h8m-94-12h8m101 9h8m-102-34h8m-91 70h8m33 41h8m-77-17h8m-17 23h8m119-72h8m27-35h8m71 4h8m-144 36h8m-10 44h8m-63 34h8m118-104h8m-47 20h8m-73 22h8m78-27h8m-23-20h8m-164 75h8m171-38h8m-49 11h8m-54-31h8m-3 28h8m129-78h8m-6 71h8m0-54h8m-206 69h8m25-13h8m97-29h8m-155 23h8m21-26h8m-59 107h8m231-99h8m-62 13h8m-37 57h8m-39-52h8m-47 28h8m-10-14h8m68 12h8m-102 5h8m123-37h8m-129 15h8m-30 20h8m145-15h8m-127-57h8m52 37h8m-76 9h8m-132 34h8m172-89h8m-120 100h8m147-81h8m-183 60h8m-31-1h8m133-67h8m7 29h8m-38-29h8m-92 45h8m139-20h8m-166 48h8m60-16h8m-31 1h8m34 50h8m65-64h8m-120-16h8m78-5h8m0-4h8m-168 53h8m26-20h8m44-19h8m-7 66h8m43-55h8m-162 28h8m173-43h8m-7 1h8m-59 56h8m-97-3h8m91-7h8m-72-98h8m89 68h8m-48 30h8m53 9h8m-99-29h8m108-76h8m-248 122h8m72-52h8m87-56h8m-136 64h8m155 4h8m-140 37h8m78-34h8m-87-28h8m46 82h8m11-104h8m-20 33h8m-36-30h8m182 27h8m-159 14h8m-72 28h8m116-52h8m-16-3h8m20 0h8m18-62h8m-175 119h8m127-36h8m-11-34h8m-83 29h8m11 3h8m-221 87h8m150-69h8m150-50h8m-254 46h8m70-46h8m54 9h8m16 12h8m61-26h8m-236 66h8m119-14h8m45-21h8m-156 32h8m81-12h8" stroke="#000" stroke-width="8" stroke-opacity="0.5" fill="none"/>
<path transform="scale(0.1)" d="M3282 3906h8m-33 11h8m55 18h8m-271 19h8m347-47h8m-313 26h8m251 8h8m-114-43h8m133 55h8m-144-42h8m-127 3h8m238 9h8m-114 9h8m-26-71h8m-3 66h8m95-62h8m-28 18h8m-71 58h8m-227-19h8m134 17h8m49-31h8m203 41h8m-184-37h8m-69-24h8m145-20h8m-162 28h8m6 29h8m13-7h8m-200 57h8m280-65h8m-71 8h8m-92 17h8m-112 1h8m155-10h8m135-5h8m-250 34h8m-64-32h8m163-61h8m-243 62h8m-78 42h8m192-112h8m-29 64h8m45 21h8m-45-26h8m95-31h8m-62 95h8m-54-5h8m2-51h8m128 29h8m30-7h8m-24-71h8m-17 117h8m-498-41h8m268-18h8m70-37h8m59 27h8m-230-11h8m358-12h8m-136 51h8m-122-11h8m84-27h8m-61 62h8m-68-65h8m151 34h8m-128-22h8m-119 32h8m83-19h8m54-6h8m-123 11h8m267-61h8m-286 46h8m334-18h8m-113-2h8m-230 0h8m121-5h8m117-17h8m-168 42h8m-126 24h8m146-25h8m212-53h8m-418 78h8m229-76h8m-79-36h8m-11 86h8m-47-43h8m3 20h8m152-30h8m-52 62h8m-205-28h8m302 1h8m-351 25h8m222-55h8m-66-2h8m121 43h8m-109 12h8m77 0h8m-132 49h8m104-63h8m-82 11h8m204-42h8m-345 54h8m215-45h8m-97-4h8m-30 91h8m-112-102h8m121 45h8m-236 38h8m4-10h8m234-68h8m-274 60h8m347-58h8m-214 11h8m58 22h8m-30-8h8m32-10h8m-85 48h8m-26-50h8m27 40h8m127-51h8m6 30h8m8-13h8m-116 20h8m-80-27h8m-183 31h8m268-41h8m20 27h8m-154 38h8m137-11h8m43-55h8m-147 38h8m99-67h8m-100-5h8m-245 74h8m143-15h8m-4-28h8m103-22h8m-164 92h8m37-47h8m-74-17h8m118 103h8m-4-66h8m98-29h8m-25 32h8m-90-32h8m11 68h8m-36-90h8m-7 7h8m167 10h8m-490 49h8m276 26h8m38-98h8m92 13h8m-268 65h8m165-14h8m55 4h8m-166 3h8m-175 79h8m165-105h8m-105 33h8m215-11h8m-191-9h8m304-44h8m-203 23h8m-121 10h8m25-19h8m-75 26h8m164-54h8m131 39h8m-219-30h8m142 89h8m-231 21h8m138-39h8m224-72h8m-450 51h8m313 9h8m-20-30h8m-369 62h8m40-45h8m53 45h8m216-87h8" stroke="#000" stroke-width="8" stroke-opacity="0.28" fill="none"/>
<path transform="scale(0.1)" d="M2931 3906h8m49 22h8m69-22h8m17-29h8m-64 59h8m-61-31h8m14-8h8m105-7h8m-19 34h8m-125-23h8m168 31h8m-235-19h8m40 29h8m43-32h8m83-6h8m-68-28h8m20 19h8m61 40h8m-154 51h8m-55-95h8m49 5h8m31 30h8m-115 3h8m-32-25h8m164 17h8m57-37h8m-22 28h8m-147 26h8m12 17h8m85-40h8m31-2h8m-165 16h8m141 14h8m-71-14h8m-146-27h8m68 25h8m-120 13h8m93-37h8m21-13h8m61 40h8m-125-3h8m71 13h8m-4-19h8m-43-16h8m14 4h8m-46-13h8m30 2h8m-46 9h8m105 1h8m-208 35h8m180-51h8m-38 26h8m-191-12h8m169 45h8m-97-26h8m28-14h8m-6 26h8m47-17h8m-70-12h8m29 44h8m-112-18h8m-45 23h8m141-13h8m72-8h8m-236-14h8m201-27h8m-140 39h8m59-13h8m-104 13h8m98-15h8m-72-15h8m82-7h8m-138 37h8m6 13h8m65-34h8m-138 16h8m210 20h8m-100-48h8m83 11h8m-206-17h8m124 50h8m-135-20h8m-37-16h8m82-26h8m-1 32h8m14 26h8m-31-28h8m-76-3h8m114 23h8m-112-41h8" stroke="#000" stroke-width="8" stroke-opacity="0.3" fill="none"/>
<path transform="scale(0.1)" d="M3314 3881h8m227-34h8m-163 169h8m-104-117h8m118 79h8m12 51h8m90-1h8m-127-77h8m-56 72h8m-79-102h8m23 107h8m-67-52h8m132-120h8m94 146h8m-121-130h8" stroke="#000" stroke-width="8" stroke-opacity="0.13" fill="none"/>
<path transform="scale(0.1)" d="M3151 3943h8m149-25h8m-72 17h8m7-9h8m8 44h8m90-60h8m-134-23h8m-31 49h8m137-16h8m-163 17h8m-13-39h8m-62 67h8m160-41h8m-64 4h8m3-35h8m-25 48h8m-30-11h8m-50 36h8m-11-40h8m74-25h8m-26 32h8m94-32h8m-171 44h8m8-35h8m-43 24h8m157-16h8m-187 20h8m129-23h8m37-11h8m-115 26h8m51-16h8m-204 33h8m112-20h8m-100-36h8m123 38h8m-17 33h8m-64-20h8m111-3h8m-49 0h8m-70-15h8m-9-20h8m-70 54h8m81-3h8m150-24h8m-203 14h8m70-8h8m-76-3h8m86-2h8m-34-3h8m-53 11h8m-118-19h8m80-1h8m113 16h8m-109-11h8m48-51h8m-80 63h8m-108-45h8m158 79h8m-17-26h8m-70 4h8m3-30h8m37-15h8m-67 26h8m57-1h8m-47-14h8m-155 34h8m146-2h8m-40 1h8m-28-35h8m76-32h8m-66 53h8m62-21h8m32 21h8m-71 32h8m-124 10h8m45-34h8m107 8h8m-87 19h8m-49-32h8m42 1h8m34 9h8m-27-18h8m18-13h8m-110 4h8m31 13h8m-7-14h8m10 30h8m-153-13h8m124 29h8m-85 1h8m176-70h8m8 50h8m-2-34h8m-65 44h8m-99-11h8m91-21h8m-87 23h8m46-32h8m-111 29h8m14-1h8m63-18h8m83 4h8m-134-19h8m152 20h8m23-42h8m-283 65h8m79-11h8m-72 11h8m46-33h8m-28 81h8m18-74h8m63 2h8m-11-20h8m-51 52h8m-29-40h8m3 32h8m-11-43h8m25 25h8m-49-11h8m29 25h8m-135-16h8m136-25h8m60 23h8m-119-26h8m-117 14h8m185 21h8m-128-47h8m-187 73h8m181-42h8m48-16h8m-21 27h8m52 3h8m-53-23h8m-42 12h8m-151 34h8m52-6h8m79-25h8m25-19h8m-126 7h8m22 5h8m69 21h8m-173 12h8m-11-6h8m113 14h8m22-40h8m-59 3h8m-133 11h8m156 35h8m-109-77h8m134 39h8m-60 8h8m16-11h8m23 47h8m-91-18h8m85-17h8m17-39h8m-64 36h8m55-25h8m-142 21h8m99-6h8m-54-11h8m-93 32h8m57 16h8m-41-10h8m-11-17h8m32-51h8m65 60h8m-103 8h8m20-30h8m-118 3h8m103 15h8m61-38h8m-28 37h8m-35-38h8m-77 9h8m-37 23h8m50-37h8m-91 39h8m0 11h8m139-53h8m-132 59h8m176-48h8m-228 43h8m119-18h8m-120-5h8m85-10h8m-94-18h8m69 16h8m-22-1h8m-24 54h8m57-19h8m57-58h8m-149 60h8m93-22h8m-65-8h8m-14 19h8m146-6h8m-312-3h8m96-3h8m-86 16h8m94-33h8m0 24h8m270-30h8m-248 8h8m92-12h8m-41 28h8m-127 22h8m55-17h8m72-32h8m-108 43h8m-7-13h8m13 8h8m-146 24h8m36-48h8m73 9h8m6-11h8m-110 3h8m39 58h8m3-24h8m-15-58h8m55 42h8m-51-18h8m0 37h8m-120-14h8m17-7h8m88-2h8m-140 17h8m120-19h8m-73 0h8m-18 3h8m94 5h8m-103-27h8m-18 25h8m4-3h8m42-13h8m180 10h8m-348-14h8m139 7h8m-25-9h8m78 23h8m-102-14h8m-152 24h8m255-16h8m-179-27h8m67 37h8m-101-18h8m12 9h8m34 0h8m87 11h8m-9-1h8m-106 31h8m66-41h8m-70-9h8m25-3h8m-3 24h8m26 18h8m-96-20h8m24-22h8m18 16h8m-17 0h8m-70 1h8m165-32h8m-163-25h8m81 35h8m-44 37h8m61-24h8m-248-31h8m289 22h8m-168-26h8m-72 88h8m83-47h8m137-42h8m-125 53h8m-132-23h8m48 24h8m116-22h8m-201-10h8m81 33h8m-20-43h8m168 43h8m-181-13h8m101-33h8m-147-5h8m-11 75h8m117-15h8m-39-55h8m-166 76h8m154-46h8m-9-8h8m-95 10h8m50-9h8m-2 36h8m-63-23h8m-18-42h8m-7 85h8m18-28h8m-85-36h8m82 8h8m-109-3h8m102 11h8m-18 8h8m-75 3h8m122-30h8m66-11h8m-47 39h8m-196-4h8m179 35h8m-87-59h8m-23 35h8m-47-12h8m31-21h8m92 37h8m-68-21h8m-77-16h8m-24 13h8m12 27h8m57-54h8m85 48h8m-211 3h8m63-27h8m-31 38h8m-33 10h8m69-31h8m2-10h8m-141 47h8m18-9h8m142-66h8m-68 21h8m6-2h8m-79 2h8m-1-24h8m54 47h8m-76-12h8m-50 4h8m71 21h8m51-47h8m-141 22h8m137-5h8m-34-13h8m-115 16h8m54 14h8m-13-17h8m41 25h8m-10-45h8m-142 32h8m-14-34h8m158 13h8m-72-7h8m17 43h8m-15-13h8m74-12h8m-194 45h8m150-22h8m-142-4h8m97-40h8m32-20h8m-193 47h8m115-18h8m-56-2h8m-8 8h8m12-32h8m-77 75h8m-7-58h8m105 1h8m7 25h8m-110-39h8m-64 61h8m252-23h8m-94-19h8m-61-12h8m-102 21h8m20-32h8m55 65h8m-93-22h8m167-32h8m-110 5h8m13 30h8m-104 29h8m-5-61h8m1 15h8m63-33h8m-40 56h8m-11-11h8m38 42h8m-19-51h8m78-14h8m-124 4h8m-61 39h8m56-60h8m98 43h8m-148 1h8m32-20h8m-37-6h8m48 38h8m-16 18h8m-86-44h8m34 18h8m75 19h8m-2-52h8m-19 9h8m-14-20h8m-88 30h8m-10 2h8m80-15h8m-153 5h8m67-25h8m-131 16h8m94-1h8m-28 37h8m-44-22h8m114-18h8m-95 41h8m17-4h8m-3-30h8m-41 6h8m142 15h8m-139 5h8m37-30h8m-109 32h8m48-11h8m5 24h8m-11-43h8m-24 40h8m41-14h8m87-40h8m-120 55h8m-9-3h8m-30-47h8m199 54h8m-77-63h8m-80 12h8m3 12h8m-102 32h8m29-7h8m16-17h8m-11 32h8m-77-15h8m-1 21h8m83 24h8m-26-56h8m-179-47h8m146 34h8m72-21h8m-137 37h8m52-5h8m-126-19h8m149-12h8m-140 31h8m-17 2h8m51-58h8m183 62h8m-214-2h8m-53 3h8m111-4h8m-26-28h8m91 13h8m-206 42h8m-30 3h8m78-22h8m38-20h8m-10-12h8m46 43h8m-186-2h8m36-25h8m36-43h8m61 23h8m-35-22h8m-64 76h8m-51-20h8m121-32h8m-3 10h8m118 54h8m-208-14h8m110-68h8m-199 44h8m35-28h8m-18-10h8m11 41h8m-32 52h8m13-21h8m22-37h8m-36-7h8m69 7h8m-57 23h8m-7-57h8m92-18h8m-80 92h8m-22-35h8m-17 30h8m-5-31h8m29 25h8m-106-39h8m127 14h8m23 21h8m-37-10h8m-124-23h8m-80 37h8m68-42h8m31-21h8m42 40h8m-76 26h8m-17-12h8m112-58h8m-153 61h8m110-15h8m-21-25h8m-165-32h8m109 70h8m-65 2h8m-36-7h8m-74-45h8m12 4h8m132 45h8m-63 0h8m37-11h8m-101-9h8m44 10h8m-7-22h8m-94 13h8m-17-12h8m138 13h8m-30-13h8m-79 37h8m48-10h8m42-39h8m77 53h8m-200-51h8m98 27h8m96 5h8m-148 17h8m81-88h8m-279 97h8m268-19h8m-107 14h8m-143-72h8m177 19h8m11 12h8m3-9h8m-5 41h8m-96-39h8m-54 48h8m11-17h8m17-49h8m23 8h8m-68 17h8m29 10h8m51 16h8m-48-24h8m129 13h8m-23-56h8m-237-14h8m37 59h8m-57 23h8m1-20h8m107-25h8m-110 42h8m-9 35h8m41-52h8m64-20h8m-87 4h8m-3 64h8m76-53h8m-38 17h8m-7 14h8m25-6h8m-146-34h8m80 36h8m-67 2h8m105-18h8m-21 13h8m-139-24h8m156-4h8m-180 5h8m155 16h8m-77-27h8m-80 30h8m-28-32h8m50 17h8m11-7h8m-55 10h8m80-2h8m-143 4h8m87-9h8m-11-42h8m-130 84h8m138-53h8m-115 18h8m-94-6h8m125 31h8m14-46h8m73 25h8m-102 24h8m127-1h8m-11-10h8m-33-11h8m4-43h8m-69 63h8m-71 3h8m74-15h8m14-3h8m-60-12h8m-42-11h8m-96 44h8m147-9h8m-35-51h8m-118 55h8m87-24h8m36 11h8m-66-9h8m55 14h8m-10-2h8m-162 11h8m68-59h8m51 45h8m20-20h8m24-30h8m-234 62h8m116-58h8m50 47h8m29 15h8m19-53h8m-186 48h8m30-14h8m-54 9h8m117-57h8m-152 57h8m164-25h8m-24 15h8m-41-14h8m-188 41h8m93-28h8m91 1h8m-156 28h8m71-34h8m3 18h8m59-23h8m-50 10h8m-10-24h8m-55 34h8m24 8h8m-20-29h8m53 14h8m-72-2h8m73-42h8m-193 49h8m193 5h8m-106-33h8m79-37h8m-76 51h8m43-24h8m42 54h8m-153-32h8m35-3h8m-26-12h8m20 17h8m-136-7h8m91-16h8m-11 19h8m-47-14h8m37 45h8m-106-48h8m197 7h8m-75-8h8m90-24h8m-192 85h8m-36-83h8m99 71h8m-148-53h8m126 23h8m-68 54h8m9-101h8m34 14h8m-18 61h8m115-36h8m-94-9h8m-139 23h8m146-35h8m-165 39h8m93 22h8m-104-34h8m22 9h8m142 11h8m-136 29h8m-19-57h8m-1 19h8m8-21h8m113-12h8m-188 21h8m-13-5h8m115-35h8m-158 7h8m79 21h8m97 10h8m-84 31h8m-45-36h8m-23 10h8m-21 19h8m15 0h8m40-23h8m69-6h8m-24 45h8m-117-40h8m-20-3h8m88-34h8m-177 62h8m85-24h8m4 48h8m-66-46h8m2 25h8m85-5h8m-145 28h8m37-71h8m16 63h8m39-39h8m-108 6h8m161-19h8m-105 6h8m-4 1h8m-19-44h8m-24 66h8m-30-9h8m136-35h8m-71 26h8m-25 54h8m64-49h8m-127-7h8m88 39h8m-54-53h8m-70 20h8m105-19h8m-163 21h8m142 9h8m-114 6h8m78-38h8m60 8h8m-64 10h8m-89-4h8m32 5h8m-33-14h8m-63 5h8m-2 17h8m69-31h8m29 29h8m-168 0h8m107-26h8m32 3h8m-35 6h8m-84 14h8m133-6h8m-163 6h8m118-26h8m62 46h8m-259 10h8m148-32h8m-2 19h8m-16-14h8m-77-7h8m24 5h8m-78 64h8m94-46h8m20-2h8m-93-25h8m-24 24h8m26 34h8m20-43h8m-2 14h8m-19 5h8m3-15h8m-101 29h8m-108-21h8m222-14h8m45-30h8m-196 89h8m39-56h8m57-10h8m39 24h8m-32-39h8m36 6h8m-101-9h8m26 15h8m-9-9h8m-64 26h8m102-25h8m-48-7h8m17 5h8m-102 12h8m89-17h8m-148 44h8m90-14h8m-214 6h8m99-39h8m115 27h8m-93-32h8m37 28h8m-131 8h8m208-33h8m-74 0h8m-50 7h8m28 58h8m-19-51h8m66-5h8m-87 33h8m-125-2h8m77 7h8m92-60h8m-56 8h8m-67 103h8m56-80h8m-43-3h8m27 7h8m-156 32h8m35-53h8m101 24h8m-69-2h8m32 12h8m101-21h8m-164-2h8m29-10h8m-66-30h8m-6 76h8m25-58h8m-100 32h8m-48 49h8m224-66h8m-106 31h8m74-25h8m-74 26h8m-8-15h8m27-15h8m-1 41h8m-142-24h8m154-39h8m-155 36h8m74 12h8m149-51h8m-173 57h8m100-10h8m-142 42h8m52-67h8m-44 32h8m12-53h8m-92 35h8m-11 12h8m78-1h8m-138 1h8m41-5h8m92-20h8m-94 11h8m-25 18h8m-22 7h8" stroke="#000" stroke-width="8" stroke-opacity="0.72" fill="none"/>
<path transform="scale(0.1)" d="M3417 3934h8m0-66h8m19 56h8m-206 35h8m63-71h8m14-11h8m-26 61h8m93-64h8m-26 13h8m-66 3h8m1-27h8m72 2h8m-117 11h8m-9-14h8m79 11h8m-24 59h8m53-20h8m-87-25h8m18-1h8m-90 30h8m-28 28h8m46-41h8m-185 23h8m192-48h8m38 29h8m-57 52h8m-48-76h8m69-57h8m-64 90h8m53-39h8m72-14h8m-97 51h8m-1-33h8m-46-27h8m-27-13h8m5 48h8m-28-24h8m67 20h8m-193 4h8m85 1h8m45-43h8m-98 52h8m39-14h8m-40 36h8m71 0h8m10-45h8m26-26h8m-52 86h8m-98-20h8m57-10h8m12-5h8m52 8h8m-241 46h8m153-49h8m-150 38h8m147-82h8m-24 10h8m-2 12h8m19-1h8m-41 6h8m-73 24h8m55-23h8m44-25h8m-101-9h8m17 59h8m-90 14h8m136-75h8m-107 62h8m-24 1h8m9-13h8m-47-41h8m36 6h8m95-10h8m-26 64h8m18-73h8m-1 12h8m-167 19h8m85-6h8m63 4h8m29-73h8m-254 40h8m13 89h8m111-47h8m-64-3h8m-41 50h8m81-22h8m-103-58h8m-92 72h8m146-4h8m-10-47h8m28 1h8m19 27h8m-64-19h8m-41-16h8m-33 19h8m-76 0h8m82 28h8m71-81h8m-13 75h8m66-90h8m-140 79h8m-124-12h8m169-13h8m14 30h8m-150 38h8m-36 12h8m98-64h8m29-4h8m-126 33h8m45-3h8m-43-19h8m-24 45h8m-22-18h8m91-2h8m-45-9h8m-26 10h8m-143-4h8m277-63h8m-188 22h8m50 12h8m-72 19h8m97 1h8m-144-22h8m124 87h8m-47-80h8m72 17h8m-140 27h8m-1-97h8m33 50h8m154 6h8m-264-40h8m127 52h8m-80-27h8m57-5h8m19 12h8m-55-44h8m13 50h8m-12-22h8m-65 12h8m25 30h8m-84 94h8m57-100h8m-34 12h8m22-24h8m52-33h8m-25 30h8m6 31h8m24-44h8m-230 74h8m168-74h8m-20 77h8m-39-104h8m-73 76h8m112-31h8m29-17h8m-24-33h8m-80 18h8m44 11h8m13 4h8m42-48h8m-46 13h8m-68 59h8m-8 13h8m-14-42h8m-4-4h8m-56 11h8m95 60h8m-116-26h8m-18-13h8m73 9h8m-60 47h8m7-33h8m-143-36h8m186-13h8m-62 5h8m-15 3h8m24-31h8m-19 25h8m-71-3h8m176-8h8m-169 32h8m75-59h8m46-22h8m-159 71h8m45 17h8m-68 11h8m110-45h8m-119-59h8m-39 83h8m147-45h8m-32 17h8m-130 6h8m131-13h8m-74 10h8m177 45h8m-85-35h8m-161 14h8m11-1h8m-48 8h8m60-8h8m-18-14h8m39-1h8m-43 37h8m-110 20h8m31-24h8m143-10h8m-32-24h8m-101-9h8m-11-20h8m-3 27h8m8 13h8m-115 39h8m163-24h8m-119-17h8m42-19h8m-171 83h8m173-34h8m54-60h8m-235 79h8m242-35h8m-83-10h8m-88 10h8m-76-37h8m192 42h8m-71-3h8m10-18h8m-68-1h8m-47-12h8m108 2h8m-127 30h8m120 0h8m-189-17h8m57 55h8m-51-27h8m178-15h8m-220-5h8m40 23h8m114-7h8m-43-21h8m110-72h8m-24 35h8m-82 42h8m-15-51h8m-172 40h8m64 27h8m20-39h8m13 39h8m-98-27h8m17-24h8m4 25h8m130 27h8m-64-50h8m-52 34h8m-3 6h8m22-40h8m-60 68h8m15-30h8m-101 30h8m134-92h8m10-7h8m-53-15h8m16 62h8m-16 1h8m107-3h8m-123 49h8m-118-19h8m10-5h8m111-10h8m22 21h8m-42-54h8m5 35h8m-56-11h8m-117 25h8m50 16h8m-90-23h8m83-30h8m-61 60h8m83-41h8m-27-2h8m-123 32h8m170-27h8m-11-23h8m-141 64h8m90-34h8m36 18h8m-75 11h8m64-29h8m-59-16h8m52-6h8m-70-4h8m-9 93h8m16-89h8m15 16h8m-38 28h8m-71-57h8m-27 19h8m22 4h8m-25-11h8m42-20h8m-6 20h8m-13 49h8m-7-15h8m-1-21h8m83-22h8m-42-37h8m-109 88h8m55-23h8m-66-26h8m15 29h8m-20-7h8m-35-2h8m-59 0h8m-78 26h8m164-51h8m65 20h8m-145 31h8m84-24h8m-70 2h8m34-16h8m-63 79h8m5-108h8m19 76h8m-162 15h8m160-49h8m-35-9h8m-159 46h8m191-76h8m-54 6h8m15 28h8m-7-41h8m-44 76h8m-49 17h8m5-125h8m5 47h8m177 3h8m-33 5h8m-162 35h8m-1 7h8m42-4h8m9-1h8m-85 44h8m-39-39h8m190-27h8m-82-49h8m-170 81h8m-29-24h8m71 50h8m66 7h8m2-51h8m-78-31h8m-84 50h8m114-26h8m18-2h8m-42 32h8m-42 5h8m40-108h8m-24 111h8m-90-29h8m72-22h8m-88 73h8m131-80h8m-48-19h8m-104 25h8m80 15h8m66 4h8m-228 71h8m114-75h8m108-37h8m-206 105h8m70-75h8m-79 69h8m74-53h8m-163 39h8m41-25h8m67-5h8m32-30h8m7-9h8m-2 12h8m37-24h8m-32 31h8m-7-6h8m-124 20h8m47-13h8m214-55h8m-57 64h8m-114-20h8m-18-13h8m11 3h8m-95 47h8m144-61h8m-163 40h8m11-7h8m145-27h8m-290 76h8m155-39h8m-160-18h8m67-3h8m19-49h8m-4 91h8m29-1h8m-69 20h8m29-40h8m-74 44h8m38-44h8m-76 15h8m120-70h8m-134 52h8m126-29h8m-72 57h8m4 17h8m78-79h8m-75 39h8m-142 31h8m145-66h8m-241 33h8m210-29h8m-57-6h8m-68 45h8m92-20h8m-34 5h8" stroke="#000" stroke-width="8" stroke-opacity="0.5" fill="none"/>
<path transform="scale(0.1)" d="M4252 3928h8m79 11h8m-193 5h8m220-75h8m-326 127h8m214-40h8m26-64h8m-149 98h8m-117-26h8m277-50h8m-169 78h8m160-162h8m-6 28h8m-97 85h8m-12-29h8m116-40h8m-75 87h8m-181-8h8m126-74h8m44 12h8m-47 53h8m-5 29h8m-68-111h8m5 69h8m-115-5h8m-78-33h8m327 3h8m-240-13h8m107 18h8m-220 97h8m200-64h8m-133 26h8m478-74h8m-520 65h8m1 18h8m227-101h8m21 22h8m-419 96h8m288-92h8m73-2h8m-270 89h8m238-24h8m-173-45h8m-69 2h8m81 32h8m-23-8h8m-131-12h8m462-26h8m-353 47h8m-48-9h8m210 59h8m-134-32h8m170-42h8m-212 35h8m79 49h8m-49-53h8m-6-57h8m-52 38h8m4-9h8m217-52h8m-305 68h8m9-3h8m16-13h8m107-29h8m-24 43h8m50-84h8m-288 115h8m193-54h8m-63 17h8m-33-81h8m67 118h8m-296-67h8m283-14h8m-18 49h8m-215-10h8m164-18h8m194-86h8m-248 90h8m120 3h8m-110 29h8m-87-19h8m-20 17h8m60-2h8m203-65h8m-70 6h8m-190 111h8m197-117h8m-142 84h8m-85-25h8m141 23h8m-189-42h8m-86 48h8m356-57h8m-408 39h8m296-26h8m-276 3h8m185-5h8m-30-7h8m-34 40h8m-234 5h8m251-77h8m5 30h8m-116 24h8m94-40h8m137 50h8m-230 2h8m118-4h8m-194-24h8m189-16h8m31 39h8m215-109h8m-200 84h8m-70 0h8m114-36h8m-311 61h8m249-73h8m-207 70h8m-24-44h8m210-32h8m-106 98h8m121-85h8m-366 6h8m224 65h8m-117-40h8m12-90h8m-200 137h8m357-20h8m-102-5h8m-154 64h8m-62-51h8m56 14h8m272-90h8m-192 63h8m-32 46h8m92-46h8m-70-2h8m11-71h8m63 41h8m-64-21h8m71 54h8m-277-10h8m156 12h8m-67-35h8m63 82h8m-40-93h8m-77 51h8m39 73h8m145-98h8m-202-8h8m-89 59h8m226-21h8m40-10h8m-178-67h8m52 61h8m-140-56h8m90 114h8m149-80h8m-48-11h8m-86 47h8m-62 2h8m-186-29h8m249 54h8m2-61h8m61-58h8m127 82h8m-214 33h8m64-19h8m-273 15h8m279-87h8m-42 64h8m58 20h8m-99-21h8m-33 29h8m111-93h8m-270 94h8m157-25h8m36-84h8m-244 28h8m-50 35h8m196-3h8m-46 18h8m50-30h8m-2 4h8m-186 24h8m132-14h8m93 2h8m-194 23h8m-2-18h8m-112 25h8m233-57h8m140 19h8m-431 18h8m270 30h8m2-55h8m-190 35h8m11-36h8m-91 25h8m27 11h8m111-21h8m50-29h8" stroke="#000" stroke-width="8" stroke-opacity="0.28" fill="none"/>
<path transform="scale(0.1)" d="M4163 3957h8m-64-61h8m-5 8h8m-105 38h8m9-22h8m110 48h8m-194-36h8m68 0h8m54 5h8m-117-17h8m29 10h8m-130-19h8m173 15h8m-152-11h8m17 18h8m-17-40h8m130-2h8m-97 47h8m158-6h8m-62-28h8m27 18h8m-75-20h8m-136 74h8m19-86h8m3 78h8m-53-61h8m66 30h8m82-16h8m-83-3h8m-107 32h8m150-3h8m57-27h8m-145-15h8m-101 72h8m157-16h8m-62-31h8m67-10h8m-64 14h8m66-5h8m-248 27h8m170-52h8m-22 24h8m42-20h8m-165 50h8m95 12h8m-97-45h8m128 15h8m-197 21h8m14-41h8m213-15h8m-66 47h8m-144-13h8m8-17h8m27 40h8m-65-29h8m-34-49h8m225 51h8m-221-9h8m142 46h8m-16-45h8m-3-5h8m-129 16h8m-31-5h8m103-40h8m98 37h8m-178-11h8m-56 42h8m73 24h8m-97-85h8m36 4h8m101 3h8m-146 4h8m50 0h8m46 18h8m-143 24h8m-13-57h8m222-6h8m-35-7h8m-3 71h8m-96 5h8m-27-69h8m-119-2h8m29 42h8m-44 23h8m110-1h8m-35-20h8m-82 12h8m-28-9h8m125-21h8m-129 59h8m-44-46h8m51-26h8m154 15h8m-49-26h8m-47 38h8m-90 26h8m60-57h8m-136 57h8m80 24h8m35-42h8" stroke="#000" stroke-width="8" stroke-opacity="0.3" fill="none"/>
<path transform="scale(0.1)" d="M4336 3845h8m9 194h8m256-129h8m-158 75h8m161 41h8m-410 9h8m380-158h8m-398 141h8m303-75h8m-84 28h8m-214-82h8m73-20h8m72 87h8m27 65h8m-40-97h8" stroke="#000" stroke-width="8" stroke-opacity="0.13" fill="none"/>
<path transform="scale(0.1)" d="M4210 3975h8m127-2h8m-59-12h8m42-43h8m0-19h8m21 5h8m-58-14h8m4 87h8m-82-44h8m52 3h8m-125 10h8m47 41h8m68-69h8m-69 48h8m30-25h8m-129-2h8m183-57h8m-159 80h8m67-46h8m-41 9h8m70 12h8m-114 4h8m-55 29h8m-83-39h8m120 11h8m-78 8h8m129-16h8m66 11h8m-303-2h8m70 30h8m116-56h8m65-23h8m-80 40h8m-4 30h8m3-43h8m-2-3h8m78 1h8m-90 18h8m-157 2h8m54 8h8m43-54h8m-84 85h8m35-26h8m-32-34h8m-18 56h8m102-30h8m-93 31h8m-69-61h8m27 67h8m50-44h8m154-63h8m-151 80h8m88-33h8m-88-12h8m-219 34h8m192-57h8m-103 70h8m-49-17h8m14-3h8m225 25h8m-281-15h8m68-22h8m134-17h8m-46 24h8m-197 41h8m118-49h8m-42-9h8m21 46h8m67-26h8m-115 5h8m16 51h8m130-92h8m-271 54h8m106-57h8m63 31h8m-145 32h8m43 10h8m-67-55h8m113 43h8m-70 3h8m103-30h8m16 62h8m-91-55h8m-44-19h8m46 29h8m-28-56h8m-105 92h8m175-27h8m-78-30h8m39 22h8m-181 10h8m174 22h8m87-70h8m-129-8h8m-176-6h8m115 34h8m-18-31h8m16 33h8m-43 17h8m49-25h8m-86-7h8m52 49h8m-85-30h8m57 7h8m65 12h8m-132-47h8m86 3h8m-127 93h8m29-68h8m1-23h8m113 11h8m-171 4h8m151-28h8m-223 36h8m98 2h8m78-6h8m-24 15h8m-149-47h8m-25 8h8m165 44h8m-182-18h8m143 30h8m-99-16h8m31-45h8m182 35h8m-72-34h8m-63 35h8m-185 37h8m130 12h8m-33-52h8m-19 19h8m107-18h8m-253 30h8m150-94h8m-20 54h8m-77 22h8m192-10h8m-252-13h8m99 32h8m-3 6h8m-193-12h8m53-12h8m29-6h8m134 3h8m7 24h8m-36 10h8m-40-46h8m-206 2h8m188-10h8m-64 48h8m126-29h8m7 1h8m64 0h8m-132 6h8m0-13h8m-159-12h8m83 4h8m-113 26h8m165-6h8m-179-7h8m71-6h8m-54 47h8m18-47h8m68 11h8m-92-7h8m55-18h8m-108-9h8m187 10h8m-173 5h8m129 32h8m79-56h8m-377 44h8m111 18h8m54-23h8m105 7h8m-142 18h8m58-66h8m-96 37h8m96-21h8m-148 67h8m156-48h8m-317 37h8m83 23h8m289-71h8m-141 19h8m-94 15h8m242-34h8m-99 43h8m-2-11h8m-134 13h8m75-29h8m-18-9h8m-183 12h8m174-13h8m-73-26h8m115 40h8m-6 11h8m-167-9h8m-6-12h8m57 8h8m30 2h8m-94 9h8m18 34h8m47-69h8m-21 31h8m53 4h8m-85-10h8m-100-1h8m-81-14h8m203-5h8m-99 39h8m-8 18h8m-7-52h8m-111 35h8m89-6h8m-188 25h8m170-31h8m-48 7h8m216-4h8m-125-42h8m-60 33h8m20-46h8m38-8h8m-128 36h8m34-21h8m-15 51h8m225-5h8m-207-17h8m-175 15h8m218-18h8m138-11h8m-297 30h8m356-20h8m-300 1h8m79-14h8m-136 15h8m19 30h8m-89-24h8m9 45h8m-100-35h8m264 20h8m-200-49h8m117 4h8m-9 28h8m-88 6h8m48-20h8m-16 54h8m-44-45h8m37 2h8m-10-21h8m-92 60h8m-32-17h8m28-14h8m68-55h8m99 41h8m-2-20h8m-102 27h8m45 9h8m-78-35h8m74 17h8m-87 22h8m12-19h8m-64-8h8m14-19h8m149-2h8m-264 4h8m95 47h8m-59-18h8m118-40h8m64 24h8m-185-19h8m-214-34h8m278 89h8m-8-1h8m-202-50h8m112 10h8m8 21h8m-194-1h8m238-29h8m-27 10h8m-24 7h8m-116 0h8m22 17h8m-2-11h8m83-20h8m-128 28h8m192-55h8m-93 81h8m-225-62h8m314 18h8m-133 19h8m-67 6h8m46-8h8m-166 35h8m155-69h8m-225 41h8m111-3h8m187-29h8m-15-2h8m-138 54h8m-63-44h8m149-5h8m-89 10h8m14 0h8m27 7h8m-150 1h8m148 3h8m-249 11h8m289-13h8m-258 39h8m66-58h8m-7 60h8m104-59h8m-4 27h8m-41-10h8m6-12h8m-17-39h8m-47 88h8m-165-46h8m-40 2h8m-5 44h8m178-37h8m-20 45h8m-1-6h8m20-25h8m-47-8h8m-71 16h8m-53-46h8m-38 37h8m251-18h8m-35-13h8m-195 30h8m79-47h8m55 52h8m89 3h8m-195-49h8m59 30h8m76 27h8m-251-10h8m73-40h8m50-3h8m-62 48h8m230 7h8m-117-63h8m-62 31h8m-106-13h8m145 1h8m-26 16h8m-104-2h8m-3-15h8m-89 72h8m104-62h8m70-6h8m6 30h8m-45-24h8m12-6h8m-124 35h8m-1-48h8m134 33h8m-70 11h8m-113-1h8m99-28h8m20 2h8m-22-40h8m-55 42h8m-59 13h8m69 9h8m99-25h8m-138-4h8m-77-6h8m77 13h8m-138 14h8m115 17h8m-54-26h8m96-19h8m-78 14h8m70-14h8m96-2h8m-221-32h8m-58 18h8m100 2h8m-50 43h8m10-14h8m-70 9h8m90 18h8m-52-50h8m-190 65h8m151-29h8m37-30h8m66 48h8m-158-59h8m-27 8h8m156 11h8m-153 24h8m50-18h8m20-48h8m17 42h8m-69 9h8m-96 69h8m166-40h8m-130-21h8m-17-29h8m204 20h8m-104-29h8m-167 43h8m40 1h8m11-20h8m-49 19h8m-106-7h8m217-22h8m-6 50h8m-54-19h8m-63-18h8m42-14h8m29 20h8m-147 19h8m52 2h8m-26 16h8m94-31h8m-47-35h8m-132 84h8m47-25h8m189-21h8m-234 27h8m81-73h8m-71 31h8m147-14h8m-114 48h8m-43-54h8m-67 24h8m72 39h8m79-27h8m-23-24h8m-169 65h8m225-92h8m-154 52h8m-76-11h8m91 11h8m-72-15h8m-5-13h8m-11 25h8m35-39h8m-39 46h8m-110-13h8m179 16h8m-97-26h8m134-16h8m-61 30h8m0 19h8m-49-76h8m87 46h8m-141 21h8m-66-45h8m103 5h8m-259 54h8m184-48h8m41 1h8m-57 59h8m126-72h8m-54 5h8m-59-31h8m-48 32h8m115-12h8m-149 80h8m13-14h8m83-65h8m-15 77h8m109-36h8m-195-10h8m-144 33h8m201-25h8m39-30h8m-127-15h8m136 10h8m11 20h8m-210 6h8m7-11h8m-69 45h8m137-58h8m9 45h8m-19-32h8m-159 25h8m29-32h8m-61 30h8m-25-17h8m13-24h8m-25 42h8m107-9h8m44 17h8m7-14h8m-63-27h8m-61 14h8m43-48h8m42 28h8m-75 62h8m21 4h8m-39-16h8m-26-10h8m38 4h8m-103 4h8m167-65h8m-222 36h8m162 36h8m-158 11h8m227-39h8m-62-9h8m-146 8h8m21-6h8m-64-5h8m78-30h8m34 46h8m167-26h8m-330 28h8m210 31h8m-160-17h8m61-35h8m43 27h8m-39-48h8m-14 62h8m-60-16h8m7-11h8m7 17h8m79 15h8m-230-30h8m71-18h8m-65 77h8m12-51h8m8 34h8m144-62h8m80 19h8m-75-20h8m-214 45h8m94-29h8m-108-2h8m125 43h8m58-33h8m-68-52h8m18 41h8m-93-11h8m-158 4h8m-8 15h8m147-9h8m48 9h8m48-24h8m-143-16h8m29 29h8m9 32h8m55-57h8m-98 53h8m-92 2h8m169-34h8m-62 22h8m-12-25h8m-143 18h8m95-22h8m-146 45h8m-30 23h8m133-59h8m-21 46h8m69-85h8m66 25h8m-130 5h8m146 55h8m-206-42h8m105 25h8m-179-55h8m110 43h8m-44 13h8m0-15h8m53-68h8m-206 83h8m157 4h8m-83 17h8m66-27h8m11-51h8m-68 39h8m-6 27h8m-75-37h8m134 23h8m-110-18h8m84 8h8m-160 26h8m219-51h8m-198 99h8m166-77h8m-139 14h8m71-32h8m-63 23h8m59-12h8m-65-25h8m95-9h8m-54 47h8m-7-9h8m68-66h8m-201 25h8m159 32h8m-108 13h8m-134 25h8m149-55h8m-61 47h8m146-32h8m-187 8h8m37 5h8m9 26h8m-184 2h8m190-6h8m-134-29h8m190-4h8m11-22h8m-144 24h8m-136 13h8m136-12h8m-6 28h8m36-10h8m-91 14h8m-82-10h8m79 16h8m-74-18h8m215 5h8m-212 3h8m-3 5h8m40-22h8m-108-22h8m57-9h8m23 80h8m-39-36h8m11 0h8m113-23h8m-74-2h8m-148 89h8m60-100h8m90 18h8m-122 8h8m50-30h8m-17-2h8m38 10h8m-65 13h8m-5-4h8m-65 35h8m88-54h8m-110 45h8m211 10h8m-152-4h8m-28-47h8m72-49h8m-74 96h8m6-10h8m-21-25h8m-60 49h8m-27-39h8m11 11h8m140-38h8m-150 42h8m9-19h8m-12-1h8m89 31h8m95-28h8m-248-25h8m116 44h8m-43 6h8m-45-37h8m59 6h8m-153 21h8m164-20h8m-58 13h8m-106 19h8m201-42h8m-64 66h8m13-69h8m-222 19h8m93 54h8m-28 11h8m82-63h8m51-9h8m-275-3h8m153 42h8m-22-22h8m82-31h8m-91 36h8m-107 30h8m79-22h8m-74 41h8m11-27h8m58-22h8m-51-8h8m55 10h8m-154 26h8m305-31h8m-94 11h8m-54-17h8m-171 25h8m-78 15h8m95-40h8m42-31h8m198 59h8m-85-22h8m-160-15h8m135 7h8m-8-12h8m-109-28h8m93 30h8m-82-25h8m-86 45h8m-51-5h8m80 24h8m81-37h8m-199 26h8m-30-15h8m168-14h8m-276-6h8m366 31h8m-194-6h8m87-25h8m85 12h8m-279 4h8m24-9h8m262 4h8m-212 38h8m2-37h8m19-29h8m61 14h8m18 56h8m-111-55h8m-41 50h8m14-36h8m21 22h8m73-26h8m-107-29h8m132 19h8m-222 75h8m101-61h8m93 10h8m-47-19h8m-86 10h8m-106 18h8m6 2h8m40 39h8m26-56h8m-54-1h8m-107-5h8m50-19h8m94-14h8m21 52h8m-194-48h8m82 73h8m-116-6h8m80-34h8m326-44h8m-290 48h8m-41 3h8m-26 27h8m-62-41h8m-60 13h8m140-3h8m-27-4h8m135-18h8m-264-9h8m161-10h8m67 18h8m-276 30h8m207 14h8m-191 45h8m165-27h8m68-37h8m-126 44h8m12-49h8m-88-5h8m76 63h8m56-86h8m-115 23h8m-4 4h8m38 38h8m24-52h8m-206 47h8m128-38h8m-70-15h8m91 28h8m36-5h8m-69-27h8m72 1h8m-194 15h8m42 38h8m-56-8h8m77-12h8m-4 6h8m-34-21h8m-89 28h8m83-32h8m-39-15h8m78 9h8m-78 27h8m109-11h8m-82 28h8m-183-54h8m132 26h8m-110 22h8m186-46h8m32 26h8m-129-7h8m29-20h8m-158 64h8m-78-55h8m134 47h8m15-35h8m-112-6h8m123-8h8m10 3h8m19-5h8m68 22h8m-72-47h8m-99 81h8m30-12h8m34 10h8m-147-47h8m184-46h8m-40 43h8m-100 17h8m-40 14h8m353-45h8m-249 27h8m0 5h8m60-45h8m-70 85h8m-75-66h8m34 30h8m-138 29h8m121-54h8m-190 32h8m155 28h8m-1-47h8m-178 44h8m275-38h8m-259 16h8m172-1h8m-138-13h8m61-5h8m-85 34h8m248-35h8m-127 14h8m53-45h8m-90 35h8m-13 29h8m-53-4h8m-41-11h8m60-26h8m-45 1h8m-31 27h8m-107 30h8m77-39h8m69 25h8m-98-32h8m61 31h8m-52-50h8m-78 34h8m0-31h8m8 40h8m29-4h8m-8-37h8m105-3h8m-188 20h8m-88-20h8m216-2h8m-101 8h8m22 38h8m212-1h8m-100-38h8m-79 9h8m22 10h8m-77-13h8m61 1h8m-134 36h8m-18-14h8m12-9h8m159-24h8m-7 49h8m-188-37h8m138 7h8m-118-20h8m93 4h8m-120 24h8m95-19h8m-94 29h8m-23-11h8m11-36h8m6-23h8m-63 83h8m-75-33h8m246 32h8m-182-23h8m-125-11h8m-43 34h8m-53-16h8m172-6h8m152-34h8m-251 55h8m100 3h8m-135-30h8m237 38h8m-72-52h8m-10 20h8" stroke="#000" stroke-width="8" stroke-opacity="0.72" fill="none"/>
<path transform="scale(0.1)" d="M4273 3903h8m-29 3h8m280-89h8m-50 41h8m-31-7h8m-214 54h8m140-4h8m-6-49h8m-17 70h8m-15-97h8m-64 153h8m21-121h8m-66 72h8m52-5h8m38-39h8m-87 42h8m23-33h8m-31-43h8m39 50h8m64 6h8m-70-34h8m-4-35h8m-134 64h8m77 6h8m77-22h8m-124 52h8m19-23h8m-47 9h8m142-111h8m-109 149h8m-43-55h8m95-2h8m19-42h8m-51 16h8m29-3h8m-53 56h8m-33 5h8m-37-20h8m-4 39h8m-31-64h8m69 8h8m-50-18h8m19 45h8m21-45h8m-50 38h8m-98 45h8m8-116h8m-3 124h8m-78-37h8m134-54h8m-114-21h8m-3 46h8m-7-59h8m151 31h8m-96 14h8m101 32h8m-102-40h8m-24 45h8m66-15h8m0 24h8m-59-55h8m-85 48h8m19-73h8m-58 24h8m65 7h8m19 0h8m85-58h8m-8 24h8m-54 44h8m4-37h8m-58 21h8m172-66h8m-83 85h8m76-9h8m-184-3h8m-8-9h8m51 38h8m-79-17h8m-7-35h8m-107 5h8m137-14h8m-47 92h8m22-89h8m-59 115h8m-141-52h8m156-47h8m51 31h8m-197 0h8m19 12h8m31-52h8m-6-6h8m-110 40h8m250-36h8m-68-11h8m-135-7h8m-78 90h8m145-57h8m109-33h8m-94 12h8m4-52h8m-133 145h8m63-79h8m-127 60h8m251-39h8m-113 18h8m-209 23h8m10-10h8m163-34h8m-29 23h8m-43-1h8m53-46h8m99 0h8m-128 28h8m-163 48h8m108-43h8m-84 53h8m21-42h8m79-1h8m-50-15h8m-78-1h8m65-29h8m-60 36h8m95-5h8m-59 35h8m28-50h8m-59 0h8m66-18h8m-59 67h8m-8-36h8m-52-7h8m52 22h8m-162-23h8m325-40h8m-252 56h8m48-16h8m-57-18h8m6 59h8m61 4h8m-95-67h8m8 38h8m-74 32h8m37 37h8m-45-70h8m205-69h8m-230 83h8m25 52h8m71-77h8m83-17h8m-225 98h8m-25-111h8m114-31h8m29 81h8m-137 29h8m-51-54h8m67 38h8m113-44h8m-65 19h8m42-43h8m-67 26h8m-6-14h8m46 15h8m-64 5h8m32 47h8m-99-9h8m-1-67h8m84 36h8m-53 42h8m-53-23h8m100-3h8m-24-30h8m-43 31h8m-74-32h8m124 18h8m94-89h8m-231 134h8m-80-65h8m43-30h8m-1 76h8m-37-13h8m0 6h8m142-28h8m-10-13h8m31-35h8m-54 44h8m-96 26h8m107-25h8m-121 73h8m-8-81h8m-63 38h8m170-30h8m-30-24h8m-121 5h8m8 15h8m28 39h8m-5-40h8m45 13h8m-74-23h8m24 27h8m-154 3h8m78-27h8m-110 54h8m252-66h8m-26 46h8m-79-74h8m35 53h8m65 14h8m-87 12h8m-205-2h8m91-34h8m-163 44h8m110-5h8m-40 4h8m83-18h8m22 0h8m-115-22h8m38-14h8m33-13h8m-41 5h8m-1 35h8m-167 52h8m150 26h8m68-78h8m-51-5h8m-124 71h8m65-82h8m38 20h8m-94 40h8m111-35h8m-118 16h8m21-29h8m2-29h8m169-12h8m-196 34h8m-17 40h8m80-46h8m-90 41h8m25-73h8m-168 117h8m165-97h8m-36-15h8m-99 29h8m190-27h8m-112 77h8m-8-12h8m-102-32h8m-22 41h8m67-25h8m-87-23h8m142-21h8m12-36h8m-109 60h8m-91-32h8m93 30h8m-57 8h8m82-19h8m-7 0h8m-39 66h8m18-51h8m67-1h8m43 2h8m-169 44h8m81-28h8m-86-17h8m-71-1h8m164-33h8m-71 24h8m-23 18h8m7-6h8m-37 42h8m-81-17h8m211 1h8m-77-5h8m-65-30h8m52 24h8m-10-110h8m-87 146h8m43-41h8m-75 16h8m48-76h8m-44 133h8m168-125h8m-210 53h8m64 20h8m-21-36h8m-70-4h8m95 19h8m-94-28h8m-20 55h8m18-24h8m-56 41h8m118-101h8m-33 79h8m11-33h8m-166 89h8m92-102h8m-66 88h8m46-47h8m79-19h8m-92-24h8m-31 43h8m87-20h8m-26-40h8m50-24h8m-275 78h8m167 22h8m-71-22h8m-36 30h8m59-36h8m-102 18h8m-85 22h8m84-41h8m50 33h8m140-67h8m-196 48h8m-52-37h8m-55 62h8m104-57h8m1 3h8m31 36h8m-139-30h8m48 12h8m-112 50h8m173-29h8m-146-15h8m-88 44h8m276-71h8m-65-28h8m-26-25h8m-7 6h8m-91 95h8m142-52h8m-173-1h8m213-35h8m-129 38h8m-159 38h8m192-40h8m88 42h8m-191-42h8m95 1h8m-108-2h8m-37 12h8m-152 28h8m274-51h8m-132 21h8m58 11h8m-119 23h8m1-35h8m159 42h8m-139-59h8m1 43h8m-58 66h8m79-107h8m48 46h8m-98 25h8m5-35h8m-98-41h8m205 43h8m-164-1h8m21-26h8m139 17h8m-161-20h8m-92 73h8m26-56h8m41 20h8m137-84h8m-117 48h8m-44-7h8m70-13h8m33 16h8m-161 28h8m154-30h8m-42 41h8m-47-32h8m-226 3h8m190-3h8m82-12h8m-123 57h8m181-47h8m-172 39h8m-96-13h8m116-5h8m-45-53h8m51 66h8m-91-4h8m104-26h8m-150 9h8m45 0h8m-114 5h8m33 26h8m53-71h8m-55 79h8m4-15h8m20 36h8m11-65h8m30-11h8m-6 8h8m10-9h8m-70 11h8m-69-14h8m-85 19h8m87-8h8m-39 16h8m-89-6h8m246-63h8m-258 88h8m161-12h8m0-29h8m-60 39h8m201-44h8m-198 41h8m-74-18h8m178-46h8m-206 6h8m-47 45h8m32 24h8m8-50h8m59 55h8m14-3h8m-157-16h8m139 2h8m114-100h8m-223 64h8m40 8h8m56-4h8m28-15h8m-151 16h8m-10 84h8m-23-46h8m147-39h8m-20 15h8m-237 42h8m-9-12h8m56-25h8m-35-25h8m155 51h8m-39-63h8m116-53h8m-89 45h8m-63-9h8m95 80h8m-172-7h8m-38 38h8m98-25h8m53-41h8m-197 47h8m168-82h8m-6 18h8m-112 11h8m46 5h8m-46-12h8m32 48h8m42-27h8m-133 5h8m118-77h8m-5 68h8m-3 5h8m-228 27h8m-8-35h8m193 0h8m-99 40h8" stroke="#000" stroke-width="8" stroke-opacity="0.5" fill="none"/>
<path transform="scale(0.1)" d="M486 4699h8m258 59h8m-264-58h8m195-59h8m-6 37h8m33-3h8m-93 33h8m25-10h8m136 18h8m-185 27h8m-15-90h8m35 13h8m12 21h8m89 22h8m-166-15h8m-105-35h8m270 93h8m-158-23h8m-84-108h8m2 38h8m-6 25h8m-1 27h8m-108-30h8m286-52h8m-96 88h8m55-42h8m-149 57h8m66-36h8m-27 28h8m100-7h8m-47 2h8m-57-56h8m-115 62h8m-67-33h8m35-58h8m9 34h8m2 2h8m-82 33h8m153-64h8m-252 74h8m90-32h8m-34-39h8m160 75h8m81-64h8m-227-17h8m163 78h8m-103 6h8m144-62h8m15 68h8m-121-2h8m36-61h8m-85 101h8m-48-82h8m-92 11h8m151-104h8m-50 120h8m-42-50h8m25 43h8m-20-86h8m-99 114h8m47 12h8m170 18h8m-155-194h8m166 142h8m-280-10h8m-29-134h8m150 91h8m61 26h8m-161 60h8m129-90h8m24 42h8m7-11h8m-134 17h8m-1-31h8m-179 52h8m170 3h8m20-93h8m112 99h8m-293-74h8m37 19h8m-25 55h8m195-41h8m-219 28h8m177-53h8m-219-16h8m127 65h8m88 3h8m-39-16h8m-91-22h8m-68 42h8m164-35h8m-97-54h8m79 66h8m-52 9h8m-100 11h8m195-67h8m-214 6h8m91 43h8m-121-31h8m35 15h8m-10 41h8m-52-22h8m87 57h8m106-61h8m5 31h8m-178 59h8m165-101h8m-119-4h8m-185-17h8m62 31h8m178 5h8m-180-71h8m138 66h8m-135-22h8m-177 11h8m88 8h8m69-14h8m21 50h8m-248-23h8m102-27h8m42 10h8m47 39h8m37-10h8m-118 19h8m-82-56h8m185 11h8m-75 75h8m121-82h8m-158 69h8m116-34h8m-170-50h8m114-39h8m-26 81h8m30-53h8m-155 0h8m78-41h8m-85 116h8m65-43h8m75-3h8m242 15h8m-320-6h8m64-6h8m-72 17h8m100-32h8m-79-91h8m54 131h8m-81-12h8m100 46h8m-334-118h8m204-60h8m-32 174h8m-249-42h8m134-82h8m35 49h8m-37 41h8m83-73h8m-211 70h8m260 62h8m-5-29h8m-52-56h8m-80 14h8m27-50h8m-58 42h8m162-18h8m-75-26h8m-100 116h8m184-73h8m-222-44h8m35 23h8m-101 76h8m158 6h8m-70-89h8m64 32h8m-79-22h8m38-33h8m46 8h8m-109 40h8m-59-32h8m87-20h8m8 42h8m21 46h8m-3-10h8m-166-36h8m110 85h8m74-107h8m-186 28h8m79-51h8m-112 85h8m75-36h8m-7-28h8m-128 104h8m130-42h8m-22-25h8m87 30h8m-270-97h8m40 30h8m81-20h8m-164 20h8m275 18h8m-340 36h8m117 19h8m-76-1h8m79 68h8m145-127h8m-29 19h8m26 21h8m-42-53h8m-285 21h8m238 28h8m-235-51h8m134 53h8m3 30h8m-23-93h8m101-46h8m-145 94h8m140 4h8m53-25h8m-52 30h8m6 33h8m-107-13h8m-114-79h8m151-52h8m-56 12h8m-32 55h8m49 35h8m-120-31h8m162 4h8m-16-40h8m-81-3h8m60-3h8m-195 93h8m-89-103h8m121 105h8m28-62h8m-7 45h8m125 20h8m-28 17h8m-85-86h8m49 21h8m-97-13h8m-79 56h8m-23-30h8m15 4h8m225 16h8m-128-35h8m-54 62h8m10-116h8m-69 82h8m47 10h8m-8-50h8m65 3h8m19 63h8m-276-48h8m188-64h8m113 23h8m-260 93h8m73-75h8m36 87h8m90 3h8m-61-63h8m-94 30h8m68-55h8m48 17h8" stroke="#000" stroke-width="8" stroke-opacity="0.28" fill="none"/>
<path transform="scale(0.1)" d="M755 4683h8m-225-13h8m259 46h8m-319-82h8m72 7h8m100 48h8m-178-50h8m128 40h8m-5-10h8m33-58h8m109 78h8m-194 21h8m172-35h8m-256-47h8m148 64h8m-89-54h8m117 28h8m-100 15h8m112-35h8m-259-27h8m31 46h8m93 3h8m25-24h8m-101 2h8m145 45h8m-161-25h8m192-11h8m-9-3h8m-328 22h8m208-2h8m71-8h8m-300-36h8m240 30h8m-64-7h8m-32 20h8m-95 32h8m158-6h8m-194-9h8m-21-16h8m52-12h8m223 19h8m-219-24h8m-102 4h8m84-15h8m124 23h8m-59 0h8m25 56h8m31-38h8m-200-27h8m12 34h8m176-37h8m-179 43h8m38-6h8m108 61h8m-81-116h8m94 30h8m-332-1h8m210 12h8m-47 12h8m-44-49h8" stroke="#000" stroke-width="8" stroke-opacity="0.3" fill="none"/>
<path transform="scale(0.1)" d="M1295 4730h8m-376-80h8m198-28h8m-115 147h8m40-93h8m-170 86h8m98-42h8m-79 48h8m226-163h8m39 139h8m-3-11h8m53-32h8m-262-72h8m115 8h8m144 130h8m-227-97h8m2 65h8m57 41h8m-308-135h8m385-29h8m-216-6h8m154 72h8m-306 70h8m164-4h8m29-38h8m90-105h8m-93 43h8m5-17h8m137 1h8m-322-4h8m77-18h8m200 85h8m-212-30h8m57 2h8m-49-13h8m216 92h8m-149-90h8m37-24h8m-364 23h8m166-6h8m162 17h8m-286 6h8m285-27h8m60 72h8m-85-85h8" stroke="#000" stroke-width="8" stroke-opacity="0.13" fill="none"/>
<path transform="scale(0.1)" d="M738 4730h8m-44-126h8m-117 96h8m108-40h8m38 15h8m-1-15h8m74 45h8m-121-19h8m-120-22h8m27-16h8m35 26h8m61 46h8m-164-69h8m138 48h8m-26-3h8m-117-68h8m97 91h8m-105-34h8m46 67h8m-29-15h8m30-58h8m-109 3h8m114-25h8m-200-11h8m117 64h8m-19-31h8m144-4h8m-82 7h8m-81 24h8m-36 8h8m58-27h8m-56-6h8m-160 66h8m194-121h8m-188 27h8m241 47h8m-139-9h8m163 32h8m-161 2h8m108 20h8m-70-82h8m61 42h8m-90-25h8m-221 35h8m152-23h8m-68 21h8m171-48h8m-38 26h8m-45-19h8m24 7h8m-27-6h8m-63-17h8m172 63h8m-130-24h8m-39 24h8m-98-62h8m52-28h8m37 39h8m-22 14h8m-29 28h8m23 8h8m-85 5h8m73 9h8m-119-24h8m41-18h8m1-26h8m106 43h8m-35-35h8m-37-9h8m-96 41h8m46-11h8m77 19h8m24-46h8m-202 55h8m67-24h8m30-15h8m9-18h8m-32-9h8m39-8h8m-159 81h8m206-83h8m-200 60h8m78-26h8m25-9h8m38 3h8m-27 11h8m-10 29h8m21-10h8m-110-16h8m56-41h8m49-12h8m-172 108h8m-54-85h8m20-16h8m165 79h8m-20-77h8m-123 66h8m35 5h8m9-20h8m33 21h8m-217-69h8m86 5h8m13 30h8m34 6h8m-25-3h8m-36 16h8m35-35h8m-213-41h8m235 56h8m-3 31h8m-119 37h8m69-59h8m109 15h8m-24-44h8m-133 53h8m-102-16h8m92-3h8m-41 20h8m75-61h8m-161 50h8m70-3h8m25 33h8m-61-100h8m101 51h8m-165 67h8m-15-76h8m56-1h8m76 65h8m-89 21h8m-29-70h8m92-24h8m-49 3h8m-62 6h8m39-13h8m-34 1h8m52 29h8m-41-4h8m-76 13h8m15-14h8m-3-36h8m48 57h8m-7-14h8m-95-25h8m38 10h8m28 17h8m49-7h8m-69-6h8m114 26h8m-146 9h8m42-41h8m-84 9h8m-56-32h8m71 28h8m19 19h8m-19 11h8m-21-20h8m-42-8h8m-43-19h8m29 28h8m47-39h8m27 36h8m-313-3h8m272-27h8m26 36h8m5-16h8m-71 24h8m13-32h8m-88 29h8m17 32h8m36-41h8m-124 18h8m14-42h8m63 8h8m-118-45h8m91 51h8m-118-29h8m113 37h8m-20-64h8m-51 35h8m-35 28h8m23 9h8m-132-60h8m124 36h8m29 88h8m70-52h8m-131-19h8m16-85h8m104 53h8m17 43h8m-167-9h8m102 7h8m1 15h8m-55-26h8m-116 22h8m-5-77h8m101 126h8m-62-93h8m117 64h8m16-27h8m-234 11h8m38-47h8m144 27h8m-46 12h8m-39-54h8m-48 27h8m38-1h8m-99-1h8m-45-29h8m-55 50h8m132-5h8m86 26h8m-148-36h8m24-17h8m-78-23h8m60 45h8m-76-12h8m-7 68h8m-41 9h8m58-21h8m166-73h8m-147-15h8m10 34h8m-67 49h8m-34-38h8m101-16h8m-134 12h8m105 37h8m51-64h8m-169 42h8m32-54h8m152 33h8m-207-13h8m19 29h8m59-5h8m-48 30h8m-47-15h8m169-37h8m-165-22h8m57 15h8m-61 12h8m5 6h8m-90-16h8m157 54h8m-105-4h8m115-36h8m-184-6h8m41 7h8m61 6h8m-35 1h8m-63-47h8m30 35h8m-92-43h8m89 56h8m-203 19h8m196-51h8m77 36h8m-41-23h8m-11-2h8m-100 78h8m58-32h8m-73-12h8m15-27h8m-9 25h8m-243-17h8m301 19h8m-42-40h8m20 24h8m-137-9h8m111-30h8m-24 91h8m-204-26h8m26-47h8m123-20h8m-59 22h8m38-3h8m-53 6h8m147-26h8m-254 20h8m31 26h8m20 10h8m-36-70h8m49 58h8m31-29h8m-102-2h8m115 22h8m60-11h8m-23 41h8m57 0h8m-70-30h8m-93-10h8m123 72h8m-85 2h8m76-44h8m-157-15h8m-146 34h8m60 13h8m89-58h8m19 68h8m-63-58h8m79 37h8m-163-47h8m24 17h8m114-15h8m-75 14h8m-5 29h8m87-56h8m-31 17h8m-144 25h8m64-30h8m-146 74h8m115-103h8m21 118h8m-162-94h8m230 48h8m24 19h8m-117-32h8m23-58h8m34 32h8m-129 12h8m80 15h8m-55 12h8m-147 4h8m38 11h8m16-72h8m110 57h8m-78-81h8m56 56h8m-113-36h8m-66-21h8m233 80h8m-129 2h8m-50-76h8m92 11h8m-174 33h8m57-17h8m-96 22h8m130-20h8m-25 8h8m-55-24h8m-26 72h8m-71-47h8m42-26h8m141 55h8m-122-6h8m108-8h8m-161 1h8m48-19h8m-35 8h8m6-62h8m67 20h8m-212 9h8m194 46h8m-12 27h8m-58-41h8m-2-3h8m-30 42h8m58-45h8m-54 31h8m-73-7h8m64-52h8m50 48h8m-50-3h8m-33-40h8m5 3h8m-59-7h8m-5 79h8m-111 22h8m115-42h8m76 26h8m-107-87h8m-45 82h8m122 17h8m-61-11h8m-10-76h8m16 60h8m9-35h8m-62 35h8m-65-51h8m177 19h8m-129-17h8m-67 31h8m61-17h8m64 36h8m-196-8h8m188-13h8m-112-13h8m146-8h8m-104 9h8m-63 22h8m89-18h8m-6 5h8m-125-10h8m34-1h8m-62-18h8m95-36h8m-175 73h8m81 0h8m-148-46h8m187 86h8m-210-92h8m75 65h8m87-22h8m-52 2h8m-15 24h8m-45-6h8m28-27h8m-100-33h8m140-4h8m27 42h8m-11 41h8m-65-21h8m82-27h8m-63 11h8m28 11h8m-49 31h8m-33-75h8m-65 45h8m-142-14h8m226-31h8m-62-7h8m142 68h8m-291-28h8m193-16h8m-135 9h8m59 27h8m-71-27h8m80 45h8m-35-56h8m57-15h8m-60 20h8m16-25h8m49 18h8m-63 47h8m-54 14h8m90-32h8m-105-13h8m30-33h8m-61-3h8m-32 41h8m-175-6h8m256-22h8m-140 4h8m127 60h8m68-17h8m-231-28h8m149 5h8m-77 31h8m31-27h8m-126-4h8m80-54h8m1-3h8m83-7h8m43-10h8m-139 67h8m-56 10h8m10 3h8m-4 0h8m3-15h8m18-42h8m9 87h8m-99-2h8m25-58h8m134 75h8m-28-56h8m-90-25h8m-21 11h8m-44-43h8m82 45h8m-118-38h8m38 82h8m-50-24h8m-19-51h8m39 58h8m-11-68h8m-49 56h8m28 9h8m2-12h8m-46-36h8m-22 31h8m29-2h8m52 7h8m21 43h8m-74 6h8m-40-3h8m9-67h8m130-3h8m-79 23h8m-141 12h8m56-75h8m-42 44h8m4 72h8m-102-91h8m114 15h8m-107 1h8m47 36h8m142-17h8m-45-8h8m-141-35h8m-19 63h8m0-18h8m-77-20h8m56 21h8m43 23h8m-63-68h8m120-2h8m-65 15h8m-43 5h8m155-65h8m-82 73h8m-54 51h8m119-43h8m-46 41h8m-152-117h8m65 83h8m-62 45h8m-79 5h8m230-62h8m-36-10h8m-206 37h8m118-49h8m-161 26h8m186-39h8m-88 52h8m-25-2h8m102 49h8m-97-38h8m-27-31h8m76 17h8m-95-36h8m76 40h8m-70-7h8m51 19h8m-23 15h8m4-88h8m-137 70h8m199 12h8m-154-58h8m130 93h8m-177-79h8m15 96h8m-7-50h8m93 5h8m-121-21h8m52 22h8m-150-61h8m70 7h8m43-35h8m-32 75h8m-135-37h8m162 44h8m-113-5h8m201-58h8m-161 61h8m53-15h8m-22 8h8m-76-15h8m18 1h8m33 32h8m-181-62h8m204-6h8m-164 13h8m58 54h8m-187-41h8m222 68h8m13-151h8m-41 72h8m-5 8h8m-58 21h8m29 32h8m69-46h8m-126-25h8m59 56h8m8 22h8m-78-124h8m27 94h8m-10-8h8m-59-34h8m-4 34h8m147-8h8m-54-8h8m-233-28h8m158 44h8m48-29h8m-24 23h8m-132-21h8m76 24h8m-114 16h8m4-15h8m50 13h8m23-62h8m95 56h8m-99-5h8m43-28h8m-172 14h8m-5-79h8m41 86h8m155-14h8m-233-56h8m-26 83h8m102-34h8m84 27h8m-213-15h8m92 21h8m-88-12h8m196-11h8m-63 24h8m-39 10h8m-31-93h8m-22 69h8m19-19h8m-65-15h8m-25 72h8m-25-10h8m74-60h8m-67-3h8m114 58h8m-225-43h8m186 9h8m-10-49h8m42 55h8m-115 38h8m-99-48h8m34 10h8m142 56h8m-113-26h8m-16 17h8m-21-24h8m30 17h8m-20-86h8m-105 25h8m62-25h8m109 117h8m25-62h8m-123-9h8m-37-19h8m129-8h8m-120-53h8m-81 151h8m69-70h8m52 5h8m55-44h8m-158 40h8m67 13h8m-71-14h8m99 21h8m-72-43h8m-8 34h8m-99 18h8m40-10h8m-8-6h8m-247-14h8m317-27h8m-71 46h8m-22-28h8m-20-17h8m21 52h8m7-72h8m-121 32h8m97 40h8m-9 5h8m-14-39h8m-119 13h8m90 14h8m-91-18h8m111-21h8m63 36h8m-41-8h8m-96-2h8m-23 30h8m-10-24h8m59-23h8m-82 19h8m2 53h8m-152-80h8m113 14h8m-4-16h8m10 34h8m120-48h8m-195 51h8m-6 10h8m132-46h8m-123-3h8m52-19h8m16 46h8m-19-35h8m-66 15h8m115 6h8m35-8h8m-191 46h8m46 23h8m80-112h8m-92 39h8m-66 32h8m34-39h8m84 16h8m-141 22h8m83 36h8m1-7h8m-83-44h8m81 13h8m-1-15h8m16 6h8m-13-30h8m-184-18h8m166 42h8m-31 40h8m21-6h8m-141-79h8m119 50h8m-46-13h8m-120 27h8m169-41h8m-157 60h8m-25-33h8m94 23h8m-81 9h8m63-84h8m-52 51h8m30 52h8m31-45h8m-70 31h8m58-19h8m-10-27h8m-130 23h8m115 23h8m-25 8h8m-44 4h8m64-76h8m31 58h8m-73-66h8m-170 37h8m131-2h8m-50 25h8m-18-10h8m37 28h8m-57-55h8m135 43h8m-107-13h8m-27-12h8m48-36h8m-7 53h8m20-8h8m-48 14h8m-57-24h8m5-7h8m-175 20h8m42 2h8m175 6h8m-108 37h8m148-76h8m-9 79h8m-230-149h8m106 118h8m179-54h8m-275 85h8m78-87h8m-54 59h8m-8-62h8m-11-4h8m11 58h8m49 2h8m-122-47h8m87 93h8m-96-82h8m81 57h8m-23-77h8m-87 1h8m58 32h8m-71-33h8m-16 44h8m138-78h8m-225 69h8m165-22h8m3-12h8m-103 35h8m114-13h8m-21-7h8m-168 38h8m124-15h8m-12 2h8m-95 29h8m87-42h8m5 27h8m-115-38h8m-101 31h8m167-2h8m-92-32h8m-79-29h8m89 7h8m-153 10h8m141 45h8" stroke="#000" stroke-width="8" stroke-opacity="0.6" fill="none"/>
<path transform="scale(0.1)" d="M1753 4712h8m57 12h8m-220-126h8m75 23h8m-2 86h8m82-40h8m-91 28h8m103-9h8m-131 36h8m26-82h8m104 43h8m-37 51h8m-24-25h8m-27-35h8m96 43h8m28-5h8m-181-40h8m-43 53h8m-40 0h8m268-27h8m-269 36h8m-51-71h8m150 65h8m70-32h8m-235-25h8m102 11h8m-138 59h8m66-57h8m223 7h8m-154-11h8m-50-4h8m25 59h8m13 42h8m-46-30h8m-116-28h8m-8 9h8m34-42h8m187-23h8m-199 88h8m193-60h8m-68-13h8m-98 3h8m-80 3h8m62 19h8m-70 5h8m0 39h8m33-86h8m-67 51h8m54-33h8m182 9h8m-338 69h8m40-34h8m22-34h8m41 30h8m138-17h8m-37 38h8m-32-54h8m-35 33h8m-140-16h8m-11-6h8m104-16h8m15 25h8m-52 29h8m-68-53h8m-54 7h8m94 26h8m-50-38h8m14 55h8m-68-6h8m233-101h8m-96 55h8m131-14h8m-243 64h8m49 4h8m-39-72h8m19 17h8m-36 21h8m2-10h8m-188 36h8m161 9h8m88-13h8m-271 17h8m151-5h8m84-34h8m61-12h8m-143-10h8m46 52h8m121 2h8m-53 4h8m-182-45h8m-23-2h8m153 22h8m-87 33h8m-84-30h8m23-4h8m46-35h8m-59 42h8m-13 3h8m-7-49h8m-132 90h8m312-89h8m-59 62h8m21-38h8m-171 12h8m17-32h8m37 8h8m16 42h8m-271-30h8m209-5h8m-142 41h8m84-6h8m-67-18h8m227 2h8m-124 50h8m-64-63h8m133 19h8m-153 1h8m-73-61h8m46-18h8m-26 69h8m33 25h8m70-23h8m-103-24h8m-3-4h8m99 49h8m-79-37h8m57-44h8m-89 76h8m-150-15h8m10 5h8m-62 22h8m270 10h8m-80-26h8m-96-24h8m-59-65h8m126 80h8m-57-15h8m37 50h8m-124-2h8m-34-27h8m258 30h8m-258-48h8m84 1h8m127-27h8m-323 18h8m243 18h8m-70 28h8m-29-60h8m33 51h8m-153 52h8m-110-124h8m399 37h8m-223 9h8m108 33h8m14 33h8m-89-25h8m8-43h8m18-27h8m77 27h8m-115 0h8m68 10h8m-162-38h8m-21 81h8m42-76h8m24 47h8m5-15h8m22-5h8m-85-2h8m19 26h8m-5-42h8m5 101h8m-90-48h8m-83-68h8m113-53h8m-51 125h8m-63-33h8m89-6h8m-39-35h8m-47-16h8m-126-14h8m152 148h8m182-32h8m-94-72h8m11 81h8m-117-125h8m99 86h8m-179 0h8m13-53h8m89 14h8m-201-20h8m139 37h8m16 42h8m129-10h8m-244-20h8m103 24h8m-114-98h8m2 128h8m-47-112h8m199 31h8m-70-9h8m-44 25h8m220 8h8m-198-89h8m-184 121h8m94 15h8m7-93h8m156 85h8m-256-7h8m123-9h8m47 21h8m-185-102h8m81 72h8m-215-59h8m200 114h8m-235-113h8m171-8h8m201 79h8m-138-17h8m-44-20h8m2 4h8m32 54h8m40-83h8m-154 5h8m-7 0h8m-69 17h8m78 3h8m-59-44h8m158 53h8m-42-53h8m-83 33h8m-50 2h8m-13 58h8" stroke="#000" stroke-width="8" stroke-opacity="0.28" fill="none"/>
<path transform="scale(0.1)" d="M1878 4707h8m47-50h8m-62 22h8m-200 81h8m34-107h8m-105 41h8m109 5h8m6-5h8m-48-4h8m9-17h8m-65 77h8m196-120h8m-149 29h8m-132 76h8m133-29h8m-34-39h8m-69-4h8m163 20h8m-102 86h8m113-64h8m-63-46h8m104 38h8m-212-26h8m-106 64h8m40-36h8m181 29h8m-194-33h8m124 56h8m-167-49h8m237-4h8m-163-39h8m-39 18h8m190 25h8m-70-27h8m-41 90h8m92-75h8m-41-23h8m-271 53h8m289-46h8m-243 28h8m167-15h8m-149-19h8m-9 64h8m34-39h8m-146 30h8m269-43h8m-199-33h8m114 6h8m-170 21h8m-24 10h8" stroke="#000" stroke-width="8" stroke-opacity="0.3" fill="none"/>
<path transform="scale(0.1)" d="M2159 4664h8m-35 111h8m-63-162h8m228-12h8m65 106h8m-205 15h8m18-95h8m-87 125h8m222-73h8m75-19h8m-264 69h8m-9-56h8m-133-44h8m38 48h8m44-70h8m2 49h8m-127 49h8m84-91h8m-151 65h8m98 8h8m172-81h8m113 32h8m-340-30h8m224 86h8m-233 21h8m337-115h8m-345 102h8m-103 53h8m424-147h8m-298 99h8m-74-49h8m110-32h8m179 130h8m-224-100h8m23 96h8m85 10h8m-310-117h8m416 112h8m-101 7h8m-66-164h8" stroke="#000" stroke-width="8" stroke-opacity="0.13" fill="none"/>
<path transform="scale(0.1)" d="M1768 4695h8m15 28h8m-17-18h8m-37 16h8m-58 38h8m-116-36h8m165 27h8m-17-33h8m94-34h8m-62 55h8m41-56h8m34 42h8m-137-8h8m-60-37h8m108 4h8m-107 13h8m16 14h8m111 24h8m-70-32h8m30 46h8m-179-26h8m89-38h8m67 1h8m-176 18h8m96-15h8m6 10h8m-197 22h8m265-13h8m-170 18h8m32-41h8m120-5h8m-251-13h8m150-10h8m-72 34h8m26 13h8m-68-7h8m145 5h8m-182 51h8m96-78h8m4 20h8m-52-5h8m-21-11h8m-7 57h8m82-35h8m-48 32h8m-46-59h8m-78 75h8m79 10h8m19-79h8m-48 22h8m95-3h8m-242 17h8m300-46h8m-196 44h8m-75 6h8m-50-33h8m175-41h8m-29 39h8m-63 7h8m4 29h8m7-34h8m-49-13h8m102 44h8m-45-6h8m-60 9h8m-114-17h8m202 25h8m-137-14h8m-47-57h8m155 49h8m-64 15h8m-184-19h8m17 36h8m81-48h8m-69 29h8m70-48h8m186 31h8m-194-25h8m51-8h8m-2 38h8m-79 5h8m-103-26h8m171-15h8m-96 9h8m36 41h8m10-50h8m-114 59h8m167-70h8m-121 49h8m2 9h8m-54 14h8m72-41h8m14-9h8m-118-16h8m72 58h8m-80-26h8m-64-8h8m56 1h8m57 17h8m-12-6h8m29 29h8m-131-83h8m18 75h8m19-35h8m30 12h8m-59-6h8m-67 6h8m-50 21h8m183-14h8m-15-41h8m-130 34h8m143-1h8m-117 12h8m29-8h8m48-3h8m-130 27h8m-29-52h8m-75 81h8m135-68h8m3-12h8m21 45h8m-27 8h8m-43 4h8m66 5h8m-161-24h8m91-11h8m1 8h8m-52-9h8m121-14h8m-98 54h8m56 5h8m-40-45h8m-83-6h8m140-6h8m-66-30h8m-85 25h8m-17 4h8m-73 12h8m55-24h8m-14-23h8m23 64h8m-53 27h8m62-96h8m-54 50h8m-113 24h8m68-50h8m-36-7h8m-34 37h8m63-7h8m74-10h8m-150 57h8m-71-3h8m122-22h8m-38-24h8m52 30h8m-56-28h8m82 43h8m33-6h8m-121-46h8m86 34h8m-167 21h8m83-23h8m-112-40h8m95 17h8m-65-2h8m52 12h8m-103-3h8m87-9h8m-17 30h8m-56 13h8m-24-48h8m-35-23h8m48 46h8m48-9h8m-46 11h8m13-28h8m70 24h8m-120-30h8m35 50h8m30 15h8m-30-65h8m-17-42h8m-30 53h8m122-1h8m-149 18h8m-30-4h8m61 12h8m66 55h8m-24-81h8m-105 4h8m48 20h8m-31-57h8m-38 66h8m33-35h8m-11-20h8m-41 15h8m103 33h8m-156 9h8m117 10h8m41-20h8m-7-29h8m-137 32h8m-40-16h8m-107 60h8m100-109h8m167 91h8m-289-21h8m-7-9h8m160-12h8m-24-12h8m-179-10h8m116-15h8m20 90h8m-139-27h8m166-7h8m-168-8h8m164-57h8m-73 41h8m-71 10h8m-72 26h8m81-54h8m9 32h8m-10-13h8m-41 7h8m19-20h8m68 29h8m-133-7h8m41-49h8m39 77h8m-42 25h8m54-77h8m41 50h8m-142-53h8m32 11h8m-230 58h8m174-39h8m64 33h8m-134-31h8m164 18h8m-234-29h8m219 40h8m-139 9h8m-43-28h8m29-31h8m8 5h8m-61-15h8m-34 39h8m53-2h8m95-30h8m-46 40h8m58-37h8m-146 60h8m10-25h8m-6 19h8m25-58h8m15-7h8m83-20h8m-82 61h8m-46-44h8m75 62h8m-158-30h8m-45 15h8m131-51h8m-43 18h8m-11 19h8m49 14h8m-97-51h8m7 41h8m27-29h8m11 41h8m15-26h8m-69-2h8m3 18h8m-197 18h8m248-35h8m-204 37h8m99-55h8m173 32h8m-209-35h8m-96 33h8m216-28h8m-160 23h8m19 15h8m-8-40h8m55-19h8m-5 39h8m-71 17h8m79-7h8m-150-28h8m103 43h8m-99-28h8m85 26h8m-104-41h8m8 33h8m126 19h8m-190-46h8m-12 9h8m115 23h8m-67-3h8m-20-4h8m13-12h8m150-36h8m-229 39h8m46-32h8m22 34h8m-85-60h8m55 94h8m28 11h8m-105-36h8m134-32h8m-167 14h8m62 29h8m26-6h8m-154 14h8m134-12h8m149-5h8m-226-22h8m110 9h8m-70-18h8m-123 23h8m120-21h8m-98 45h8m60-28h8m-119 4h8m148 3h8m-228 0h8m149-43h8m94 67h8m-62-30h8m-68-16h8m0-10h8m-22 7h8m18 17h8m-5-21h8m-58 24h8m10 1h8m68-21h8m-94 72h8m-21-58h8m10 11h8m5-5h8m29-7h8m-54 21h8m13 17h8m-47-36h8m131-20h8m-89 35h8m-36-67h8m34 58h8m-31-9h8m-115 13h8m89-46h8m121 27h8m-89-15h8m39 12h8m-137 28h8m-65-19h8m47-10h8m136 44h8m-173-29h8m6-51h8m125 24h8m-103 36h8m-4 1h8m33-6h8m-29 1h8m-35-28h8m31 19h8m-76-27h8m39 9h8m41-2h8m-128 2h8m51 12h8m-73 3h8m124-14h8m-17 46h8m15-38h8m-2 49h8m-8-13h8m-30-55h8m-112 52h8m111-56h8m-137 70h8m219-28h8m-151-33h8m14-29h8m-136 44h8m153-24h8m-1 61h8m-200-58h8m63 25h8m-2 18h8m-20-12h8m134 6h8m47-13h8m-235 24h8m140-41h8m-99 37h8m106-44h8m-276 35h8m134-33h8m107 23h8m-146 20h8m128 15h8m-127-74h8m108 25h8m-47-5h8m-79 54h8m-32-51h8m34 38h8m85-30h8m-90-23h8m-54 39h8m-72 15h8m87 2h8m46 13h8m-119-58h8m64 64h8m-37-15h8m-82-68h8m128 98h8m-120-13h8m19-67h8m131 34h8m-173-41h8m113 29h8m33 8h8m-22 11h8m-44-36h8m-58 20h8m-90-22h8m101 32h8m13 7h8m-75-15h8m-42 27h8m122-10h8m-142-9h8m96 19h8m-72-59h8m-93 30h8m224-43h8m-79 43h8m-13-11h8m-145 32h8m82-31h8m21-5h8m-80 13h8m160-1h8m-266 16h8m183-34h8m-190-15h8m15-3h8m12 68h8m122-59h8m-99 19h8m-5-16h8m-24 49h8m-49-35h8m33 44h8m-14-48h8m38 25h8m-12 11h8m-150 6h8m115-54h8m122 21h8m-126 7h8m19-43h8m-53 62h8m-6-8h8m35 3h8m-98-47h8m75 39h8m-114 7h8m132 14h8m-141-38h8m147 30h8m18 31h8m-193-59h8m153 1h8m-84 2h8m102-29h8m-127 28h8m9 49h8m-9-63h8m101 18h8m-232 34h8m181-15h8m-55-8h8m-49-14h8m10 5h8m74 3h8m-16 17h8m53-15h8m-172 21h8m-95-69h8m85 66h8m17-33h8m-25 13h8m108-11h8m66 27h8m-141-19h8m-159 18h8m190-35h8m-126 25h8m40 25h8m48-2h8m-42-37h8m-38 13h8m17-13h8m25 6h8m-17 3h8m93 30h8m-363-16h8m147 22h8m6 2h8m90-69h8m-50 39h8m36-19h8m-167-29h8m76 13h8m53 15h8m-57 53h8m-32-39h8m39-7h8m88 4h8m-271-17h8m251 22h8m-100-6h8m-87-38h8m98 27h8m-52 96h8m74-67h8m-149-18h8m116 19h8m-139-41h8m78 26h8m18 20h8m-62-61h8m42 21h8m-94 8h8m108 3h8m-118-5h8m-22 19h8m33 18h8m-3-16h8m-63 16h8m106 1h8m-72-40h8m43 21h8m-155-16h8m4 25h8m66-24h8m-59 4h8m52 46h8m41-46h8m31-34h8m16 41h8m-55 4h8m-113-19h8m80 14h8m-83 23h8m66-37h8m-119 8h8m160-13h8m-73 25h8m-57-11h8m-84-19h8m107 18h8m-64 49h8m46-86h8m-75 7h8m4 43h8m73-43h8m52 82h8m-200-84h8m67 4h8m33 20h8m-46 39h8m-28-7h8m174-6h8m-218-6h8m76 24h8m-67-76h8m19 51h8m-161 28h8m214-61h8m-85 34h8m-61 22h8m176 1h8m-144-34h8m-31 49h8m-24-33h8m126 13h8m-81-52h8m-32 8h8m-79 0h8m22 61h8m79-100h8m-34 13h8m-147 64h8m72-16h8m69-76h8m164 63h8m-249 2h8m-111 37h8m202-76h8m-96 33h8m-67 39h8m124-7h8m-63-41h8m-60 15h8m-32-29h8m75 70h8m7-44h8m-139 41h8m186-11h8m-166-41h8m179 18h8m-83 19h8m-44-5h8m28 27h8m-73-10h8m29-20h8m112 9h8m-163-34h8m89 3h8m-128 29h8m54-6h8m60-35h8m-159 25h8m99-18h8m-182 6h8m63 45h8m43-54h8m83 7h8m-20 29h8m-122-12h8m47 3h8m14-39h8m-131 34h8m132-8h8m57-11h8m-16 6h8m-136 7h8m4 27h8m-45 25h8m23-43h8m9 34h8m58-33h8m-50-39h8m-79 37h8m114 30h8m-3 3h8m-113-56h8m18 76h8m2-72h8m-116 0h8m116 5h8m30 48h8m81-25h8m-131 12h8m-41-76h8m2 53h8m45-2h8m5 20h8m-124-28h8m66 40h8m24-46h8m-194-17h8m228-6h8m-119 71h8m68-13h8m-72-37h8m-22 46h8m4-31h8m17 1h8m33-32h8m-87 22h8m-68 16h8m21 2h8m-27-19h8m114 38h8m-129 11h8m166-54h8m-105 29h8m-24-47h8m90 47h8m-125-33h8m-3 19h8m67 8h8m-11-10h8m-129 31h8m234-44h8m-140 8h8m-136 19h8" stroke="#000" stroke-width="8" stroke-opacity="0.65" fill="none"/>
<path transform="scale(0.1)" d="M2904 4707h8m76-93h8m35 84h8m-179 0h8m-47-13h8m21-58h8m-27 53h8m-144-38h8m360 100h8m-133-69h8m-106 7h8m109 26h8m-41-19h8m-42 19h8m98-58h8m-107 80h8m-16-63h8m16 49h8m-250-20h8m145 33h8m-10-45h8m234-56h8m-116 13h8m12 36h8m-24 64h8m-91-71h8m179 19h8m-196 47h8m-130-72h8m199 35h8m47-1h8m-116-35h8m18 32h8m52 33h8m50 0h8m-104-55h8m103 128h8m-148-101h8m-177-42h8m227-10h8m-75 71h8m-25-146h8m-149 107h8m230-48h8m-136 48h8m-89 5h8m29-50h8m32 12h8m26 89h8m-110-71h8m-10 21h8m127-12h8m-57 45h8m-43 4h8m110-15h8m92 1h8m-204-69h8m112 98h8m-77-74h8m-33-13h8m149 21h8m-271-17h8m31 48h8m-125 12h8m158 22h8m104-54h8m-133-20h8m100 12h8m-167-35h8m184 17h8m-135 108h8m-45-109h8m206 12h8m-175 43h8m51-15h8m-53 21h8m50-65h8m-66-8h8m-142 94h8m142-78h8m12 23h8m-18 12h8m-70-81h8m198 65h8m-264-18h8m78 46h8m1-33h8m-139-76h8m-19 119h8m179-131h8m-7 84h8m-62-11h8m-183 3h8m124 24h8m45 38h8m31-72h8m49 10h8m-82 54h8m43-10h8m63 9h8m-76-38h8m-152-10h8m85 1h8m-36 54h8m-132 23h8m4 20h8m127-120h8m-70 32h8m84 10h8m-121-7h8m5 92h8m-59-92h8m125-12h8m49 18h8m-253-47h8m27 34h8m130 44h8m66 35h8m14-30h8m-89 16h8m41-93h8m-230-87h8m66 183h8m180-47h8m-209-11h8m23 70h8m-158-105h8m148 1h8m-149 8h8m188 94h8m104-27h8m-125-108h8m-23 136h8m-65-65h8m88 16h8m-175-47h8m57 105h8m-93-22h8m66-92h8m-91 67h8m256-24h8m-156-12h8m-112-24h8m-6 5h8m229-19h8m-51 20h8m4 25h8m-95 25h8m89-86h8m34 21h8m-73 17h8m-237-41h8m-45 54h8m43 1h8m166 3h8m-186 24h8m34 21h8m104-6h8m-100-20h8m-48 12h8m217-55h8m-55-6h8m21 63h8m6-3h8m44 65h8m-157-97h8m-23-30h8m-167 51h8m145-30h8m-44-17h8m157 90h8m-46 22h8m73-62h8m-47-41h8m2 37h8m-74-13h8m-48-53h8m-60 89h8m28-20h8m-102 37h8m127-73h8m-56 22h8m-204-4h8m123 105h8m18-184h8m9 38h8m153 31h8m-202-48h8m-73 79h8m159-35h8m54 22h8m57 6h8m-276-6h8m68 1h8m-25-10h8m187 23h8m-90 15h8m-76-42h8m63-8h8m-117 2h8m7 28h8m9-27h8m-55 0h8m17-45h8m53 137h8m-19-126h8m116 117h8m-70-36h8m-102 9h8m-221-30h8m63 9h8m90-8h8m4 12h8m-101 10h8m86 28h8m41-101h8m-83 59h8m41 46h8m-3-9h8m-69-98h8m-25 54h8m66-1h8m32-1h8m-140-101h8m-108 126h8m101-100h8m138 153h8m-220-62h8m246-30h8m-159 30h8m63-20h8m-98-27h8m127 17h8m-61 18h8m24-46h8m-240 61h8m259 16h8m-248-1h8m126 4h8m78 5h8m-80-24h8m62 25h8m-41-51h8m-16 14h8m-98 41h8m173 21h8m4-93h8m-174-44h8m-44 146h8m102-40h8m-104 27h8m81-38h8m60-26h8m-23-36h8m73-13h8m-110 98h8m-157-19h8m10-27h8m131-59h8m128 25h8m-233-4h8m-64 13h8m222-106h8m-159 127h8m73 55h8m31-86h8m-214 23h8m55 10h8m-28-52h8m100 58h8m4-50h8m-122 15h8" stroke="#000" stroke-width="8" stroke-opacity="0.28" fill="none"/>
<path transform="scale(0.1)" d="M2743 4722h8m100-6h8m-111-76h8m89 37h8m160-10h8m-33 46h8m-107-57h8m54 72h8m-97-47h8m37-24h8m103 21h8m15-15h8m-238 84h8m158-62h8m-139-19h8m16 17h8m-26 41h8m-89-72h8m14-22h8m213 89h8m-111-20h8m-150-32h8m274 11h8m-78 35h8m-13-114h8m-83 119h8m11-43h8m-163 25h8m4-21h8m157 93h8m-7-110h8m-100 51h8m134-110h8m-208 78h8m-31 23h8m-42-70h8m289-14h8m-145 63h8m8 27h8m18 6h8m-189-56h8m250 31h8m25-53h8m-259 94h8m-9-69h8m202 55h8m-125-46h8m-115-2h8m256 59h8m-53-75h8m-166 65h8m79-50h8m26-15h8m-134 1h8m69 59h8m-78-36h8m150-8h8m-218-35h8m68 80h8m-142-4h8" stroke="#000" stroke-width="8" stroke-opacity="0.3" fill="none"/>
<path transform="scale(0.1)" d="M3293 4677h8m129-1h8m17-31h8m-251 16h8m12 25h8m44 7h8m228 16h8m-30 61h8m-96 0h8m-156-47h8m-24-57h8m13-63h8m7 76h8m29-29h8m-37 62h8m-39-74h8m190 71h8m53-62h8m-10-17h8m-354-20h8m197 76h8m-204-64h8m331 13h8m-185 14h8m-246-21h8m375-26h8m-75 20h8m-275 109h8m348-55h8m-391 45h8m393 4h8m41-16h8m-274-7h8m67 50h8m-108-138h8m34 43h8m160-56h8m-27 80h8m-189 75h8m194-62h8m-254 60h8m215-44h8m-234-102h8m241 8h8m-281 105h8m112 51h8m-168-144h8m-62 139h8m157-43h8m-168-99h8m22 29h8m105 98h8m178 3h8m-199-31h8m-165 47h8" stroke="#000" stroke-width="8" stroke-opacity="0.13" fill="none"/>
<path transform="scale(0.1)" d="M2861 4620h8m-1 24h8m-10 53h8m144 27h8m-197-46h8m144-29h8m-22 40h8m-110 32h8m140-40h8m-311 33h8m191-30h8m-17-36h8m-16 10h8m54 20h8m-102 78h8m8-52h8m94-25h8m-104 16h8m-78-2h8m114-21h8m-58 11h8m-44-5h8m76 31h8m-108 25h8m-24-7h8m47-51h8m-3 27h8m10-39h8m-103-12h8m214 36h8m-87 17h8m-49-21h8m-1 28h8m-216 0h8m253-3h8m-156-28h8m108-37h8m-137 97h8m157-70h8m-123 38h8m16-8h8m125-26h8m-49 67h8m-188-35h8m43-21h8m60-13h8m-40-17h8m71-9h8m-122 57h8m-98-31h8m65-1h8m47 30h8m48-27h8m7 31h8m30-40h8m-85 4h8m-41 44h8m63-49h8m-71 40h8m-36-3h8m-8-16h8m98-51h8m34 11h8m-21 6h8m-229-5h8m197 66h8m-177-54h8m52-11h8m62 23h8m-154 12h8m0-48h8m28 70h8m178 3h8m-55-40h8m-158 43h8m71-73h8m-8 31h8m5 12h8m-85 7h8m155 33h8m-146-45h8m83-21h8m-198 38h8m149-2h8m-26 9h8m84-24h8m-309 15h8m232-22h8m11 34h8m-90-37h8m113 1h8m51 55h8m-100-59h8m-14 23h8m33 17h8m-77-27h8m52 38h8m-56-46h8m-105 49h8m-36-79h8m161 7h8m-52 43h8m-104 42h8m45 5h8m101-75h8m-250 25h8m54-14h8m114-50h8m1 87h8m-159-34h8m5 54h8m80-34h8m87-24h8m-114-5h8m-186 15h8m247 20h8m-88-29h8m-41 100h8m-62-79h8m172-41h8m-79 37h8m2 33h8m-12-22h8m-1-23h8m22-10h8m59-4h8m-219-12h8m67 20h8m-37 24h8m155-25h8m-158 67h8m-109-39h8m113-25h8m-62 13h8m-9 46h8m15-97h8m-74 59h8m-55 75h8m287-52h8m-166-58h8m-70 32h8m111-11h8m46 92h8m-242-106h8m91 13h8m47-2h8m-94-34h8m91-57h8m-137 94h8m36 23h8m33-29h8m34 28h8m-37 8h8m-63-2h8m16-73h8m-141 98h8m315-20h8m-202-2h8m1-24h8m35 0h8m15-17h8m-25 30h8m-86 15h8m-83-45h8m105 42h8m-55-39h8m10 32h8m34-22h8m11 30h8m72 33h8m-118-52h8m-128-22h8m168 2h8m18 32h8m-204-34h8m164 45h8m-40-21h8m-64 19h8m46-45h8m9-12h8m7 6h8m35 35h8m-97-36h8m-7 45h8m176-84h8m-273 43h8m52 15h8m-14-51h8m78 37h8m18-27h8m-193 44h8m186-5h8m-192 30h8m31-73h8m127 33h8m-112 21h8m66-1h8m-119 2h8m59 32h8m-16-48h8m-3 5h8m46-20h8m-102 8h8m1 50h8m-84-21h8m82-91h8m-35 117h8m97-98h8m-25 49h8m-114 42h8m81-26h8m58 13h8m-124 10h8m-81-18h8m269-47h8m-153 49h8m3-32h8m129-53h8m-259 65h8m76 26h8m-176-13h8m174-4h8m-15 53h8m-98-44h8m-13 19h8m43-18h8m-12 40h8m130-61h8m-147 47h8m-2 20h8m-9-67h8m-116 43h8m76-73h8m-73 51h8m104 13h8m-184-48h8m73-29h8m97 56h8m-187-12h8m33 16h8m186 3h8m-185 17h8m93 22h8m16-34h8m-112-60h8m-56 67h8m237-9h8m-167-7h8m74 44h8m-105-40h8m77-19h8m-136 25h8m-12-63h8m17 78h8m24-27h8m-8 49h8m14-30h8m50-10h8m-81-6h8m103-41h8m-129 33h8m93 12h8m41 21h8m25-17h8m-292 8h8m275 0h8m-274-37h8m234 25h8m-117-16h8m20-31h8m-107-8h8m136 71h8m-27 19h8m-103-1h8m-13-69h8m105 72h8m5 2h8m-28-71h8m-96 38h8m22 37h8m63-49h8m-16 33h8m14-55h8m-83 9h8m-72 37h8m68-32h8m4 9h8m-83-1h8m67-34h8m-106 77h8m75-50h8m-73-6h8m199-3h8m-79 15h8m-79-30h8m-127 55h8m-2-37h8m139 34h8m-73-51h8m27-4h8m-151 3h8m-3 35h8m115-47h8m-32 66h8m-94-36h8m33 37h8m112-39h8m-101 37h8m69-56h8m74-2h8m-108 51h8m-24-35h8m-63 49h8m130-53h8m-210 37h8m18-41h8m74-28h8m-119 97h8m179-50h8m-130 36h8m80-25h8m-72-57h8m-4 64h8m13 21h8m-159 6h8m59 11h8m39-38h8m196-15h8m-115 5h8m-15-38h8m-141 58h8m138 0h8m19-12h8m-45-34h8m-168 7h8m13 55h8m53-57h8m-62 3h8m70 6h8m28-22h8m-49 4h8m1 19h8m15-67h8m20 137h8m-117-50h8m-8-2h8m133-36h8m-124 33h8m-46-7h8m77 4h8m-56-49h8m27 42h8m-22-54h8m45 51h8m14-21h8m-141 9h8m-37 9h8m206 35h8m-182 12h8m-74-37h8m-34-34h8m133 79h8m-54-89h8m-98 27h8m59 10h8m-16-16h8m148 63h8m-66-28h8m-27 20h8m-104-42h8m75 36h8m56-31h8m-46 0h8m60 13h8m-82 3h8m38 6h8m-25-24h8m-86-40h8m136 36h8m-82-72h8m27 73h8m-151-16h8m-10 50h8m61-108h8m-55 145h8m100-72h8m-24-39h8m54 62h8m-56 2h8m-139-2h8m150 54h8m-130-92h8m-14 34h8m53-4h8m-14-26h8m72 30h8m-55-35h8m70 40h8m-134 17h8m33-11h8m-72-69h8m-1 58h8m126-21h8m-76 50h8m-8-42h8m-103 64h8m183-98h8m-152 53h8m-44-42h8m40 82h8m45-7h8m-2-76h8m46 51h8m-200-24h8m40-49h8m143 18h8m46 35h8m-228 13h8m33-27h8m-118 20h8m46 1h8m-12-1h8m51-45h8m-90 40h8m153 12h8m-83-62h8m-23 93h8m81-2h8m-98-40h8m-82 59h8m88-89h8m155-4h8m-165 10h8m24-3h8m-63 79h8m-10-55h8m47-4h8m-247 13h8m99 38h8m41-44h8m17-17h8m122 20h8m68 31h8m-146-45h8m-26 50h8m14-34h8m54-15h8m-197 20h8m30 46h8m41-68h8m3 49h8m-175-25h8m169-12h8m-161-3h8m170 23h8m-2-6h8m-243-7h8m201 8h8m-31-46h8m-70 6h8m111-11h8m72 21h8m-122 4h8m-129-5h8m-34 28h8m12-46h8m4 22h8m154 34h8m-71 25h8m-32-50h8m60 35h8m-73 5h8m-6-73h8m-75 39h8m9-40h8m41 20h8m-99 25h8m207-52h8m-125 55h8m-59-20h8m108-3h8m-162 24h8m152-42h8m-82-27h8m128 53h8m-192-23h8m4 16h8m-42-28h8m-39 5h8m106-2h8m-107-8h8m96 14h8m-81 1h8m121 25h8m-282 96h8m217-116h8m-36-30h8m-11 67h8m-56-56h8m172 11h8m-171 16h8m55 12h8m-60 1h8m-16 5h8m26-11h8m37 37h8m-144-8h8m41-42h8m-79 10h8m129-35h8m-103 62h8m0-27h8m98 65h8m-58-79h8m23 67h8m-49-74h8m33-24h8m-32 26h8m-99 36h8m93 21h8m-51-58h8m0 56h8m32-45h8m-71 0h8m-47 6h8m162 60h8m42-45h8m-174 4h8m105-55h8m-65 51h8m-86 3h8m-23 41h8m34-76h8m-19 5h8m-1-6h8m8 8h8m-84 40h8m143-45h8m-159 63h8m-4-38h8m143-28h8m-20 8h8m45-22h8m-108-3h8m-67 79h8m127-8h8m-102-56h8m-10 16h8m-63 62h8m87-71h8m-218 29h8m211 9h8m-199-22h8m210 0h8m-193-4h8m162 14h8m128-51h8m-217 49h8m-75 4h8m228-46h8m-189 54h8m-59-42h8m172-52h8m-319 21h8m95 62h8m5 14h8m39-30h8m-109-31h8m208 39h8m7 33h8m-90-30h8m-35-43h8m-95 59h8m146-20h8m-97 1h8m92 7h8m23 15h8m-82-20h8m-172-26h8m81 25h8m167 8h8m-91 32h8m79-73h8m-285 33h8m153-23h8m-13 35h8m-118-25h8m67-77h8m115 123h8m-41-49h8m-90-13h8m57-13h8m58 13h8m-180-7h8m96 35h8m49 9h8m-140-7h8m144 14h8m-114-37h8m83 44h8m-22-21h8m-58 16h8m-50 5h8m-36-29h8m55 48h8m-5-13h8m82-37h8m-121 66h8m26-3h8m93-97h8m-112-21h8m3 49h8m79 33h8m-123 14h8m15-8h8m19-21h8m-74 30h8m-84-8h8m-34-34h8m87 18h8m93 27h8m-17-51h8m40 0h8m-63-6h8m-126 69h8m-70-24h8m64 6h8m11-37h8m-45 10h8m119 38h8m-138-45h8m96 44h8m7-37h8m-199 0h8m92 18h8m119 9h8m-39 27h8m-63-63h8m-101 61h8m22-74h8m52-3h8m82-41h8m-67 93h8m-52 19h8m17-81h8m33 26h8m-200 3h8m50-40h8m69 49h8m82 7h8m-18-24h8m-149-15h8m53 34h8m-67 14h8m19-60h8m33 39h8m-47 20h8m-23-101h8m-54 94h8m-40 42h8m98-90h8m21 78h8m24-49h8m-116 28h8m-1-23h8m142-30h8m-72-17h8m28 124h8m-119-113h8m-19 32h8m-41 52h8m155-34h8m-170-4h8m-53-66h8m67 42h8m145-22h8m-102-14h8m7 65h8m-17 15h8m-20-49h8m-17 4h8m-102 33h8m225 13h8m-146-58h8m95 67h8m-218-7h8m152-28h8m-139-34h8m-17 51h8m111 3h8m50 33h8m17-72h8m-11 67h8m-129-59h8m72 27h8m-113-20h8m-4 6h8m52 42h8m-35-65h8m65 46h8m-211-34h8m217 7h8m-139-20h8m148 28h8m-33-67h8m-182 53h8m76 38h8m47-5h8m-119-75h8m-5 16h8m26 21h8m71 70h8m4-70h8m-108 12h8m86-7h8m41 17h8m-50-37h8m-133 36h8m-16 6h8m77 17h8m33-58h8m-38 54h8m-69 31h8m-49-34h8m158-3h8m-115-96h8m144 116h8m-236 17h8m54-21h8m-31-22h8m179 10h8m-53 66h8m-139-113h8m-117 9h8m225 46h8m-85-25h8m-103-74h8m-36 73h8m136 3h8m-54-39h8m18 40h8m11-4h8m-66-62h8m0 71h8m62 50h8m-66-13h8m-21-88h8m62-6h8m-206 43h8m235 6h8m-68-49h8m-99 18h8m36 65h8m98-35h8m-59 25h8m-184-33h8m50 32h8m82-47h8m113 0h8m-85-13h8m-80-30h8m50 47h8m-50-30h8m-32 27h8m44 19h8m-198 1h8m229 7h8m-44-24h8m-81 10h8m-40 37h8m-34-40h8m103 6h8m-17-77h8m-6 42h8m108 67h8m-303-60h8m104-7h8m-12 63h8m121-67h8m-98 68h8m-60-33h8m79-17h8m7-44h8m83 104h8m-111-96h8m-60 18h8m-13 62h8m-31-63h8m90 54h8m17-17h8m-87-7h8m-1-24h8m106 12h8m-104 29h8m22-39h8m-128 50h8m28-12h8" stroke="#000" stroke-width="8" stroke-opacity="0.62" fill="none"/>
<path transform="scale(0.1)" d="M4256 4658h8m35 76h8m-52-93h8m-13 112h8m-128-79h8m-86 3h8m164 36h8m80 1h8m-191 4h8m-71-77h8m92 23h8m80 47h8m39 2h8m-121-19h8m-91 54h8m100-57h8m63 44h8m-78 5h8m94-28h8m-154-21h8m125 36h8m66-11h8m-262 6h8m4-58h8m139 52h8m230 44h8m-260-73h8m-60 17h8m121-15h8m-145 43h8m-153-114h8m56 142h8m214-42h8m-300-29h8m17 20h8m208 33h8m-73-29h8m95 11h8m-227 21h8m23-40h8m29 22h8m-93 29h8m88-36h8m-2-46h8m93 54h8m-100 50h8m-39-92h8m79 30h8m51-1h8m-15 18h8m-81-50h8m-72 15h8m-17 76h8m-88-49h8m124-50h8m-16 54h8m153-28h8m-146 57h8m43-122h8m46 67h8m-315 34h8m111-88h8m31 21h8m27 47h8m-130-17h8m185-13h8m-4 24h8m-47-66h8m10 21h8m-180 100h8m208-92h8m-177 42h8m-131-19h8m186 35h8m21-21h8m-115 3h8m-102 30h8m41-33h8m88-78h8m-238 40h8m336 81h8m-10-14h8m-122-50h8m111-53h8m-126 34h8m-102 108h8m163-34h8m-15 1h8m-152-110h8m-55 10h8m34 30h8m200-30h8m-151 57h8m294-46h8m-344 60h8m114-27h8m-35-13h8m-61 47h8m95-8h8m-172-12h8m69-19h8m-116 12h8m-105-73h8m210-1h8m-126 50h8m-23 31h8m174 63h8m-80-53h8m45-53h8m122 19h8m-158-30h8m19 47h8m-167-2h8m188 2h8m-7 12h8m-192 30h8m157-14h8m-40-71h8m-60 77h8m21-71h8m219 53h8m-306-11h8m23 61h8m34-68h8m-35 0h8m-168-7h8m232 44h8m18-21h8m71-23h8m-230 43h8m-76 49h8m178-19h8m-171-5h8m91-78h8m-47 17h8m50 10h8m-70-72h8m103 132h8m-165-121h8m312 70h8m-163-63h8m-144 53h8m-41 27h8m67-12h8m-35-53h8m-43 8h8m208 61h8m-49-39h8m-208 7h8m152 32h8m-61-133h8m65 107h8m-147 38h8m263 20h8m-207-42h8m178-54h8m-247 65h8m168 35h8m-149-96h8m164-4h8m-187 22h8m-94-10h8m-8-62h8m34-13h8m112 41h8m-30 26h8m-33 41h8m84-37h8m48 27h8m-264 45h8m186 63h8m119-81h8m-292-71h8m-3 75h8m86-38h8m-25 13h8m-82 24h8m37-7h8m155-80h8m-75 6h8m-175 54h8m-95 17h8m50 54h8m117-58h8m-102-37h8m-13-5h8m143-8h8m-105-23h8m-18 0h8m50 29h8m112 24h8m-119-33h8m29 30h8m-67-11h8m135 2h8m-278-8h8m3 28h8m51-11h8m238-102h8m-55 112h8m-264-6h8m54-28h8m90 30h8m-55-33h8m72 31h8m-142-38h8m-121 60h8m213-13h8m53-69h8m-278 29h8m-41 53h8m130-11h8m-145-10h8m214-49h8m-161 18h8m176 32h8m-113 5h8m38-12h8m43-31h8m-92 23h8" stroke="#000" stroke-width="8" stroke-opacity="0.28" fill="none"/>
<path transform="scale(0.1)" d="M3975 4745h8m109-40h8m279-4h8m-117-19h8m-263 24h8m520 55h8m13-59h8m-108-57h8m-418 51h8m-199 46h8m461-20h8m6-46h8m179 23h8m-705-49h8m160 57h8m552-41h8m41 10h8m-530-1h8m412-4h8m-46 65h8m-576-6h8m517-48h8m-298 11h8m-72 43h8m302-54h8m-234-4h8m355-11h8m-490 65h8m-39-38h8m-140-4h8m610-11h8m-384-14h8m-263 51h8m725-47h8m-666 7h8m44-32h8m357 16h8m228 16h8m-13 1h8m12-28h8m-526 24h8m0 13h8m-242-67h8m561 87h8m63-24h8m-678-29h8m237 29h8m442 20h8m-391-12h8m296 1h8m-308-1h8m429 17h8m-708-54h8m508 21h8m157 26h8m-125-10h8m37-29h8m-435 21h8m178-11h8m-45 19h8m-383-45h8m599 1h8m-590 4h8m121 36h8m41 70h8m510-40h8m-27 7h8m-462-33h8m13 43h8m-160-34h8m71-8h8m-165 28h8m658-62h8m-465-27h8m-121 27h8m-97 71h8m36-14h8m-97-19h8m290-12h8m326 2h8m68 15h8m-549-34h8m-114 44h8m204-47h8m-292 63h8m625-46h8m-413-16h8m-9 18h8m453-18h8m35 22h8m-32-46h8m-326 36h8m-146 15h8m-211 9h8m691-21h8m-743 43h8m622-79h8m17 40h8m-43-7h8m22 13h8m-346-7h8m343 45h8m-411-38h8m457-25h8m-722 93h8m644-67h8m-398-5h8m151 28h8m-440-40h8m-27 10h8" stroke="#000" stroke-width="8" stroke-opacity="0.3" fill="none"/>
<path transform="scale(0.1)" d="M4377 4759h8m-166 7h8m18-161h8m385 114h8m-133 79h8m77-148h8m-6 40h8m-34-14h8m-235-12h8m-165 26h8m181-66h8m260 67h8m-430-13h8m196 110h8m-190-123h8" stroke="#000" stroke-width="8" stroke-opacity="0.13" fill="none"/>
<path transform="scale(0.1)" d="M4196 4718h8m60-41h8m-95-2h8m95 18h8m4 13h8m-21 13h8m-148-100h8m100 111h8m-12 10h8m24-4h8m-162-13h8m53-26h8m25 18h8m85 19h8m-134-59h8m86 43h8m-55-4h8m105-17h8m-110 50h8m-130-65h8m76-7h8m26 24h8m56-15h8m-46 51h8m-68-78h8m-71 9h8m75 42h8m-18 12h8m84-51h8m-33 65h8m-156-84h8m-66 77h8m113-50h8m35 11h8m-87 59h8m21-49h8m100-15h8m-36 23h8m-165 43h8m124-47h8m-20-22h8m-31 25h8m41-38h8m-7 15h8m113 3h8m-151 31h8m-69-29h8m6 25h8m70 17h8m69 12h8m-92-85h8m-13 42h8m-25-28h8m-53 46h8m25-10h8m-90-7h8m117-13h8m-26-12h8m-26-19h8m-74 69h8m30-30h8m-28 6h8m48 8h8m-46 12h8m33 28h8m29-53h8m13 21h8m-154-59h8m36 32h8m-56-8h8m141 2h8m-142 46h8m132-27h8m-125-1h8m89 0h8m-108-7h8m12 0h8m15-11h8m-11 2h8m-23 3h8m44 7h8m26-44h8m-29 50h8m-94-3h8m-95 12h8m117-40h8m-196 5h8m216 45h8m-12-39h8m-125 31h8m107-30h8m-87-14h8m114-6h8m-137 21h8m-12 4h8m3-19h8m49 68h8m-89-36h8m201-24h8m-175 62h8m127-17h8m-137-41h8m-10-7h8m-33 21h8m-12 24h8m69-55h8m40 66h8m-77-40h8m-72 32h8m62-25h8m-71 16h8m-129 4h8m171 17h8m-127-52h8m63 67h8m35-81h8m-37 40h8m1 10h8m107-17h8m-45 22h8m27-64h8m-91 40h8m-7 27h8m90-25h8m-160-29h8m53 33h8m-21 0h8m3-30h8m11 60h8m-39-48h8m36-13h8m-113 29h8m77-19h8m-105 12h8m126 11h8m-14-17h8m-84 26h8m-27-8h8m23 24h8m29-57h8m-139 27h8m24 5h8m115 1h8m-81-61h8m-76 26h8m-68 36h8m105 6h8m-91-13h8m111 3h8m-21 27h8m113-40h8m-203-11h8m111 58h8m-124-23h8m2-19h8m44-15h8m-48 60h8m161-48h8m-127-14h8m-52 53h8m186-70h8m-205 34h8m18 20h8m3-23h8m-44-6h8m79 24h8m29-42h8m-165 25h8m43 24h8m-1-46h8m-73 63h8m-3-41h8m52 4h8m-42-10h8m69 27h8m24-27h8m-48 18h8m-2 26h8m-84 0h8m12-71h8m54 73h8m4-47h8m-50 21h8m32-6h8m-58 5h8m-66-23h8m85 31h8m-54 11h8m-89-41h8m152 14h8m-36 22h8m13 6h8m-83-19h8m115-1h8m-71 5h8m23-21h8m-110 17h8m13-15h8m92-2h8m-90-51h8m-5 14h8m84 55h8m-29 10h8m-66-8h8m97-9h8m-221-10h8m82 22h8m-39-25h8m119 10h8m-1 39h8m-137-74h8m31 20h8m42 9h8m-34-43h8m-24 19h8m37 58h8m52-14h8m-122-17h8m-85 37h8m55-59h8m-4 74h8m-29-50h8m59-14h8m-6 43h8m3-14h8m-35-9h8m-21-8h8m-88-43h8m34-7h8m-40 53h8m66 25h8m-36-45h8m-3 22h8m27-42h8m-59 2h8m77 37h8m-9 19h8m-132 1h8m132 12h8m-110-51h8m-32 16h8m17 24h8m-67-46h8m92 18h8m45 8h8m-176-1h8m112 23h8m2-11h8m-4-22h8m-8-49h8m-21 80h8m-64 5h8m76-12h8m-43-4h8m21 2h8m-38 20h8m-43-44h8m5 11h8m32-24h8m19 20h8m-191-15h8m31 0h8m-29-30h8m60 48h8m-17 29h8m46-103h8m-39 109h8m93-33h8m-129-17h8m-13 25h8m-15-14h8m24 4h8m20 39h8m-48-32h8m-35 5h8m-35-16h8m88 2h8m-54-19h8m-35 20h8m37-17h8m29 50h8m98-36h8m-34 25h8m-164 14h8m19-7h8m-101-43h8m-8 60h8m-1-91h8m162 85h8m-73-101h8m-90 41h8m41 21h8m3-16h8m-18-36h8m123 16h8m-218 45h8m84-51h8m35 60h8m6 14h8m-172 5h8m138-28h8m-97-8h8m34-9h8m-71 80h8m138-39h8m137-15h8m-138-7h8m-89 19h8m-98-77h8m155 71h8m12-37h8m-150-44h8m118 87h8m-177-47h8m24 30h8m80-30h8m-103 9h8m125 51h8m33-32h8m-92 1h8m19-50h8m60 63h8m-75-39h8m41 28h8m0-38h8m-161 36h8m192 4h8m-70-51h8m-71 45h8m33-31h8m-39 55h8m-13-22h8m-84-8h8m29 76h8m-4-56h8m80-32h8m-45 33h8m-13-16h8m-40 28h8m77-60h8m-237 76h8m87-64h8m107 4h8m-92-10h8m57 12h8m50 56h8m-56-44h8m-149-32h8m69 23h8m-65 11h8m93 18h8m27-33h8m-87 13h8m38 71h8m-52-79h8m123 6h8m-118-33h8m-2 55h8m13-37h8m22 60h8m-30-17h8m-53-10h8m-3-34h8m20 5h8m-3-1h8m-67 12h8m-21-12h8m13-4h8m35 16h8m-64-3h8m-47-9h8m38 33h8m-17 3h8m59-41h8m-77 69h8m-1-45h8m133 22h8m-96 17h8m-93-85h8m123 49h8m-105 11h8m-35 7h8m82-10h8m-135 5h8m75-64h8m31 14h8m3 39h8m-86-67h8m-7 38h8m18 10h8m72 14h8m-194 14h8m154-17h8m-40-28h8m58-3h8m-162 35h8m132 4h8m-132-5h8m64-6h8m-51-1h8m-135-38h8m140 35h8m20 20h8m21-49h8m-101 40h8m-41 7h8m108 43h8m-74-62h8m79-5h8m15-25h8m-110 3h8m-4-13h8m-42-5h8m-89 65h8m117-19h8m37 8h8m13-48h8m-75-12h8m108 7h8m-155 87h8m23-13h8m-40-63h8m-2 37h8m3 2h8m-34-30h8m9 9h8m35 41h8m-18-6h8m-80 5h8m88-15h8m-90-5h8m71 10h8m-32-17h8m-131 47h8m47-37h8m115 8h8m-107-16h8m-9-15h8m6 16h8m26-8h8m20-12h8m-61 42h8m114 30h8m-147-44h8m-2-10h8m10-16h8m13-19h8m72 54h8m47-1h8m-174-35h8m3 22h8m41-24h8m-54 59h8m52-34h8m-127 8h8m111 33h8m-196-101h8m160 68h8m1-4h8m104-14h8m-218 8h8m91 31h8m-11-49h8m-106 1h8m66 61h8m-77-18h8m-27-14h8m-30 8h8m72-18h8m-60-10h8m-71 4h8m139 12h8m-133-20h8m142-29h8m-36 37h8m-75 11h8m-55-11h8m34 21h8m-36-10h8m53 18h8m-8-22h8m170-8h8m-293 20h8m85 7h8m64-33h8m22-11h8m11 56h8m-153-48h8m104 23h8m-239-21h8m158 17h8m60 30h8m-17 8h8m-141-77h8m28-3h8m-91-49h8m80 101h8m-48 25h8m96-34h8m-73-14h8m78 29h8m-53-45h8m-22 41h8m124 17h8m-46-3h8m-165-13h8m163-31h8m-47 4h8m28-15h8m-64 71h8m-150-15h8m82-34h8m-138 0h8m57 8h8m37-23h8m116 30h8m-86-1h8m3-1h8m25-10h8m-112-65h8m120 59h8m-64-31h8m-83-7h8m16 100h8m13-70h8m46 8h8m44-3h8m-118-14h8m-3 63h8m121-89h8m80 60h8m-96-28h8m-110 48h8m-43-11h8m58-20h8m-32-40h8m-78 58h8m129 5h8m67-8h8m-223-24h8m-4 23h8m9-36h8m-56 26h8m124 4h8m-151-16h8m126-19h8m-25 19h8m14-16h8m-150-8h8m96 57h8m0-31h8m31-9h8m-40 0h8m-69 24h8m101-19h8m8-10h8m-10 25h8m-142-3h8m73-27h8m-100-5h8m40 61h8m51-40h8m-148 38h8m261-16h8m-107-17h8m-135-4h8m4 48h8m24-59h8m-12 7h8m-77-11h8m61 17h8m-98-20h8m51 27h8m146-35h8m-126 45h8m-29-5h8m117-3h8m-88-21h8m12 49h8m-85 18h8m99-55h8m-99-16h8m69 36h8m-23-22h8m61 9h8m-55 13h8m-72-51h8m-75 53h8m40-45h8m-33-5h8m135 22h8m-135 47h8m-126-53h8m163 28h8m20-36h8m-119 40h8m97-8h8m-139 21h8m92-25h8m-34-4h8m23-48h8m-1 56h8m-79 12h8m88-15h8m-93-1h8m32 10h8m76 8h8m-159-45h8m56 21h8m91 13h8m-30-5h8m-133-31h8m-4-26h8m67 59h8m-85 10h8m38 25h8m-100-33h8m121-33h8m-153 34h8m104-14h8m29-15h8m-97-19h8m-66-10h8m12 29h8m-50 7h8m231 12h8m-248-1h8m33 5h8m97 44h8m-26-51h8m55 37h8m11-55h8m-64 1h8m-42 5h8m-40-33h8m17 89h8m65-36h8m-30 12h8m-7 26h8m-157-33h8m51 30h8m-3-102h8m1 93h8m-41-25h8m105-22h8m16 42h8m41-27h8m-159-19h8m19-31h8m5 95h8m-15-113h8m-62 69h8m98 39h8m-190-24h8m91-33h8m-100 10h8m156-9h8m-139 22h8m8-9h8m66-31h8m-75-4h8m76 67h8m-50-63h8m145 4h8m-215 89h8m19-81h8m82-13h8m-38 9h8m14 45h8m-56-39h8m72 15h8m-47-56h8m56 44h8m-182 17h8m96 0h8m-39 37h8m33-25h8m-95-88h8m106 33h8m-148 19h8m137 15h8m-31 9h8m-160 15h8m135-60h8m-160-14h8m155 78h8m-149-46h8m91-36h8m-21 37h8m-96 13h8m-23-20h8m145 1h8m-72 57h8m95-55h8m-82 36h8m174-2h8m-176-15h8m96 71h8m-100-97h8m-25 102h8m21-92h8m-92 18h8m-1 15h8m142 21h8m-128-11h8m-71-27h8m101 0h8m-96 40h8m52 9h8m61-54h8m2 46h8m27-17h8m-51-8h8m-41-35h8m-15-4h8m-24 44h8m-30-84h8m143 60h8m-161 24h8m106-55h8m-125 86h8m79 1h8m-272-71h8m187 25h8m-58-1h8m135-11h8m-12 2h8m-147 25h8m28 31h8m57-41h8m-48 0h8m-21 1h8m49-21h8m-157 34h8m183-29h8m-84-13h8m-225 43h8m121-66h8m46 36h8m146 3h8m-157 6h8m-105-36h8m179 15h8m-71 21h8m-34 19h8m61-18h8m-101-3h8m10-16h8m65 22h8m-45-72h8m27 89h8m-95 8h8m126-26h8m-211-24h8m-5 59h8m115-52h8m-61 53h8m25-42h8m-18-13h8m-21 14h8m-67-12h8m82 14h8m57 17h8m-148-20h8m170-5h8m-29 11h8m-165 11h8m99-10h8m-131 14h8m55 1h8m-71-8h8m28 11h8m-94-18h8m103 29h8m-66-19h8m2 12h8m-78-27h8m123-32h8m113 26h8m-156 12h8m6 9h8m-72-11h8m35 39h8m-33-71h8m-54-12h8m36 40h8m16-12h8m46 18h8m-50 16h8m32 53h8m58-104h8m-32 7h8m-96 26h8m-96-37h8m95 19h8m10 52h8m51-35h8m-64 1h8m164 29h8m-210-72h8" stroke="#000" stroke-width="8" stroke-opacity="0.7" fill="none"/>
<path transform="scale(0.1)" d="M772 5473h8m-28 13h8m29-6h8m-160-56h8m59-5h8m31 12h8m87-83h8m-178 59h8m152 32h8m-331 0h8m291-22h8m37 60h8m-207-9h8m65 14h8m24-38h8m26-11h8m98-22h8m-124 47h8m-61-72h8m-3 34h8m50 50h8m52 6h8m-71-30h8m-104-34h8m20 61h8m-64-45h8m-16 23h8m35-33h8m-13 102h8m149-20h8m-242-73h8m139-20h8m-151 48h8m223 13h8m-64 26h8m101-54h8m-94-38h8m-188 65h8m116-8h8m-89-63h8m7 48h8m-67 2h8m74-30h8m41 42h8m8 29h8m-55-68h8m21 9h8m-26 48h8m-29-36h8m-14-1h8m39 91h8m-47-172h8m104 64h8m-44-5h8m-158 37h8m98 58h8m24-69h8m-76-2h8m-2 16h8m7-17h8m75 20h8m-54 81h8m-97-113h8m49 15h8m141-3h8m-265-60h8m183 88h8m-113-19h8m92-13h8m-73 20h8m-29-38h8m-167 81h8m105-67h8m95 45h8m-84-30h8m25 8h8m-5-64h8m-122 15h8m114 7h8m40 28h8m-236 13h8m137 47h8m-295 21h8m110-57h8m281-24h8m41 70h8m61-70h8m-368 53h8m128-61h8m-36 15h8m152-14h8m-94-11h8m-33 40h8m49-47h8m-128 33h8m157 10h8m-155 69h8m149-154h8m-109 78h8m-1 20h8m-167-28h8m-52 47h8m-12-12h8m228-14h8m-312-17h8m201-4h8m-126-22h8m188 32h8m-192-35h8m138-3h8m-43-15h8m164 82h8m-46-59h8m-4-12h8m-165 69h8m185-54h8m-157 35h8m13-19h8m30 17h8m-28-5h8m-196-75h8m225 119h8m-264-3h8m222-102h8m-65 89h8m7-42h8m-141 20h8m233 29h8m-140-3h8m106-7h8m-186 47h8m-8-33h8m78-66h8m100-30h8m-271 90h8m71-96h8m3 48h8m19-1h8m-30-12h8m171 65h8m-52-35h8m-87-15h8m87 35h8m11-48h8m-193 68h8m-19 31h8m150-87h8m155-10h8m-517 75h8m185-123h8m153 17h8m-188 18h8m181-32h8m-78 62h8m-176 20h8m82-16h8m87-5h8m-151 41h8m162-3h8m-40 8h8m-80-46h8m71 1h8m-91 57h8m56-42h8m-145 41h8m264-80h8m-199 26h8m154-30h8m-142 14h8m16 86h8m-37-123h8m37 82h8m-142-63h8m-118 55h8m234-51h8m-38 32h8m-172-38h8m43 16h8m188 16h8m40 26h8m-127 35h8m-22-120h8m-221 90h8m122-23h8m137 4h8m-33 18h8m-150-6h8m191-26h8m-110 16h8m13-11h8" stroke="#000" stroke-width="8" stroke-opacity="0.28" fill="none"/>
<path transform="scale(0.1)" d="M537 5459h8m82 13h8m229 21h8m-350-56h8m311-38h8m-256 61h8m37-38h8m97-9h8m122 12h8m-144-8h8m-5 41h8m73-14h8m-32 12h8m51 5h8m-223-31h8m248 27h8m-1 13h8m-107 15h8m-275-41h8m124-11h8m155-16h8m-237 13h8m98 10h8m-72 6h8m-73-39h8m154 23h8m-90 5h8m175-10h8m-301 0h8m316 23h8m-216-32h8m133 35h8m-213-38h8m-62 32h8m-21-33h8m78 57h8m-27-11h8m158 15h8m-14-54h8m106-12h8m-122 0h8m-31 27h8m-126 32h8m-101-9h8m226-1h8m-188-47h8m324 57h8m-135-8h8m-267-32h8m154-49h8m-145 43h8m-46 16h8m150 43h8m205-34h8m-327-7h8m336 41h8m-225-1h8m-66-29h8m243 6h8m-254 16h8m-73-49h8m297 28h8m-5-21h8m-65-13h8m-13 36h8m-129 15h8m146 19h8m-185-27h8m21 9h8m-136-33h8m141-32h8m65 21h8m-190 26h8m-58-25h8m-32 62h8m151-17h8m-154-35h8m118 48h8m67-27h8m-228 25h8" stroke="#000" stroke-width="8" stroke-opacity="0.3" fill="none"/>
<path transform="scale(0.1)" d="M956 5418h8m15 47h8m193 81h8m-127-56h8m-89 33h8m71 12h8m3-49h8m209-11h8m-209-65h8m195 71h8m-311 7h8m285-109h8m-28-8h8m-293 184h8m251-175h8m5 144h8m-11-35h8m41 40h8m-204-56h8m8 2h8" stroke="#000" stroke-width="8" stroke-opacity="0.13" fill="none"/>
<path transform="scale(0.1)" d="M960 5447h8m-169-38h8m25 56h8m-18-54h8m-44 29h8m-12 39h8m-28-36h8m68-7h8m-144-27h8m22 67h8m94-13h8m-150-14h8m195 9h8m-137-40h8m24 14h8m70 23h8m-99 22h8m2-23h8m-57-26h8m66 14h8m6 38h8m-115-36h8m96 15h8m13 3h8m-43-21h8m-89 18h8m103-50h8m23 28h8m-132 21h8m-97 19h8m68 12h8m38-45h8m79 18h8m-15-14h8m-43-14h8m-97 5h8m87 12h8m-60 5h8m-77-15h8m-55 86h8m176-76h8m-184 26h8m184-33h8m-92-42h8m-64 48h8m6 12h8m-9 24h8m61-33h8m33-25h8m-123 67h8m19-23h8m-30-21h8m112-6h8m-19 1h8m-130 16h8m26-47h8m26 43h8m-140-11h8m77 22h8m37-6h8m-113-28h8m104 52h8m-20-14h8m-51-38h8m99-9h8m-140 16h8m84 20h8m-52 24h8m80-56h8m-134 9h8m86 26h8m-7-13h8m27-2h8m24-4h8m-219 7h8m92 44h8m-77-15h8m129-38h8m20 36h8m-119 21h8m26-36h8m64-7h8m-83-15h8m-30 15h8m-110 8h8m56 23h8m104-60h8m-174-8h8m111 21h8m-11 21h8m-27-56h8m49 40h8m-113-9h8m135-15h8m-129 37h8m91 19h8m-118-54h8m50 34h8m-48-7h8m128 12h8m-192-5h8m19-17h8m135 29h8m-53-9h8m-66-31h8m-24-23h8m-76 34h8m61 19h8m35 11h8m48-35h8m-26 5h8m25-36h8m-78 36h8m-81 18h8m15-18h8m120 5h8m-105-16h8m80-3h8m-209 39h8m64-48h8m-27 39h8m65 24h8m-81-38h8m-45 3h8m76-12h8m-158-3h8m108 11h8m60-20h8m-113 30h8m65-12h8m-65-11h8m30 26h8m33 21h8m7-6h8m-12-25h8m-88 10h8m145-32h8m-88 23h8m-73 25h8m127-5h8m-125 20h8m77 1h8m-74-25h8m-32 29h8m-34-35h8m-3 29h8m25-32h8m101-30h8m-85 37h8m-27-19h8m27 9h8m-57 16h8m-72 10h8m-24-3h8m190-3h8m-127-53h8m124 57h8m-99-20h8m25-14h8m-86-14h8m10 48h8m4-46h8m-13 11h8m97 43h8m-122-83h8m61 10h8m-58 66h8m25-34h8m-156 17h8m177-21h8m-129 34h8m47-36h8m-45 6h8m-16 19h8m-71-29h8m-98-3h8m238 44h8m-83 27h8m-121-12h8m165-52h8m54 0h8m-87-8h8m-155 32h8m75 20h8m45-29h8m-31 2h8m70-80h8m-148 91h8m13-37h8m-134 30h8m243 1h8m-43-4h8m-81 19h8m-102 24h8m172-101h8m-166 26h8m6 76h8m-55-25h8m25-31h8m26 9h8m-18 7h8m146 17h8m-37-31h8m-52 10h8m-55-30h8m32 65h8m-98-19h8m111-28h8m-103-16h8m24 30h8m52 18h8m-91 39h8m-44-8h8m157-63h8m-200 9h8m22-15h8m2 34h8m21-31h8m35 30h8m-224 5h8m182-7h8m124-41h8m-20 52h8m-31-31h8m-77-21h8m14 27h8m-62 8h8m-86 2h8m135 13h8m43 4h8m-61 29h8m-34-56h8m56 28h8m-51-89h8m54 104h8m-119-40h8m-103 36h8m151-44h8m21 17h8m-125 8h8m62-33h8m26-1h8m-254-43h8m243 53h8m-77 2h8m-74 38h8m-39-19h8m339-21h8m-270-38h8m68 45h8m-105-5h8m17 29h8m60-39h8m-122-12h8m54 21h8m-14 50h8m37-67h8m21 50h8m-83-31h8m101-51h8m-137 71h8m0 41h8m23-47h8m-34-35h8m67 16h8m-267-2h8m74 86h8m-40-54h8m243-84h8m-46 79h8m-116-3h8m67-40h8m-160 18h8m96 8h8m121 36h8m-70-51h8m-87 40h8m107-44h8m-83-6h8m9 21h8m-11 23h8m27-18h8m31-15h8m-95 49h8m14-3h8m-46-70h8m20 9h8m-85 10h8m122 10h8m-29 11h8m-35-5h8m-32 5h8m-54 12h8m-30-41h8m-21-21h8m18 58h8m115 17h8m-44-24h8m-141-7h8m26 21h8m155-29h8m14-25h8m-65 25h8m-116 23h8m73 4h8m-86-24h8m197 14h8m-134 28h8m-11-42h8m-11-4h8m-81 46h8m35-30h8m-168-22h8m124 11h8m-45 44h8m118-30h8m33 34h8m-85-25h8m-101-4h8m-12 19h8m121-47h8m-77 44h8m-9-28h8m-67 0h8m87 10h8m-12-20h8m34-18h8m-131 12h8m58 30h8m-106 0h8m108-11h8m-23 16h8m-36-37h8m82 6h8m-159 57h8m190-72h8m-87 58h8m2-38h8m-28 20h8m-78-3h8m1-12h8m101 3h8m-76 24h8m13-41h8m-55-4h8m79 39h8m-23-29h8m-146 12h8m157-14h8m-24-32h8m-42 42h8m-35-7h8m55-25h8m-73 42h8m-78 39h8m65-58h8m2 44h8m52-46h8m-162 30h8m47-20h8m2 24h8m83-20h8m1-13h8m-74-24h8m57 57h8m-80-55h8m-7 21h8m-174 65h8m88-41h8m-24-3h8m103-5h8m-34 4h8m-91-9h8m72 12h8m-21-11h8m28-6h8m-74 22h8m-19 5h8m128-14h8m-112 20h8m84 17h8m-143 3h8m36-41h8m-16-28h8m-51 56h8m110-31h8m-153 24h8m102-33h8m-174 38h8m189-58h8m-52 33h8m67-40h8m-135 33h8m39-46h8m-96 85h8m50-11h8m29 8h8m-12-59h8m46 33h8m-27 23h8m24-37h8m-124 19h8m49-17h8m-91 2h8m55 37h8m-191-41h8m178 9h8m3 12h8m-45-10h8m-3 18h8m-103-62h8m70 70h8m-7-55h8m51 20h8m8-4h8m-70 23h8m12-17h8m27-7h8m-94 31h8m127 25h8m-56-62h8m-68 5h8m40-18h8m59-3h8m0 17h8m-190 38h8m107-35h8m-82-4h8m13 16h8m41-19h8m15 82h8m-66-25h8m-50-33h8m35-43h8m-65 29h8m186-18h8m-239 13h8m141-39h8m-40 41h8m-15-1h8m-82 2h8m30-17h8m5 38h8m-24-28h8m11-34h8m18 28h8m-44 45h8m54 6h8m9-56h8m-95 27h8m81 13h8m-54 11h8m-53-31h8m64 14h8m36-19h8m-109-27h8m-110 69h8m172-32h8m8 10h8m-156-7h8m60-19h8m34 7h8m-205 30h8m210-50h8m-9 67h8m-1 17h8m34-110h8m-182 85h8m130-40h8m-231 27h8m123-16h8m68 22h8m-108-14h8m-84 37h8m140-35h8m-20-41h8m-69 33h8m60 1h8m38-16h8m-3-16h8m-45 77h8m-126-42h8m57-2h8m-148-30h8m80 46h8m77-20h8m20 27h8m-47 16h8m-11-55h8m-144 6h8m42 42h8m1-3h8m30-20h8m-8 10h8m103-24h8m-150 8h8m14-51h8m4 67h8m-11 1h8m-5-40h8m-114 14h8m217 8h8m-42 12h8m-11-16h8m-46-9h8m18 19h8m-66-4h8m-123-20h8m140 8h8m-15-1h8m-101 29h8m-75-43h8m229 0h8m-158 17h8m49 7h8m-39 57h8m155-69h8m-229 41h8m170-16h8m-258 25h8m234-2h8m-109-22h8m-133-30h8m155 6h8m-15 44h8m-115 21h8m129-28h8m-34 28h8m26-42h8m-142-29h8m38 20h8m-23 5h8m70 11h8m-54 1h8m-44-39h8m162 39h8m-144-33h8m107 13h8m-26 10h8m-117 7h8m-86 0h8m134-33h8m25 8h8m29 23h8m-65-29h8m-6-17h8m-84-29h8m-12 61h8m268-36h8m-153 29h8m-183-16h8m108 8h8m3 1h8m-164 39h8m95-48h8m52-10h8m70 26h8m-10 17h8m-148-34h8m-4 34h8m-19-11h8m41 8h8m34-57h8m-139 53h8m52-12h8m-36 12h8m-23-20h8m12 13h8m151-6h8m-26 33h8m-230-16h8m131-10h8m1 31h8m-90-45h8m83-24h8m-68 12h8m-17 11h8m39 16h8m9 16h8m-56-34h8m2-8h8m-76 49h8m61 1h8m44-47h8m-50 39h8m-28-21h8m-98-3h8m174-1h8m-171-9h8m121-27h8m-81 11h8m75 11h8m10 24h8m-104 8h8m-199 21h8m60-43h8m68 14h8m-6-34h8m79 7h8m19 18h8m-62 51h8m96-34h8m-119-22h8m66-9h8m-44-31h8m-166 89h8m196-18h8m-99 30h8m68-45h8m-27-32h8m-64-14h8m-14 33h8m89 4h8m-125-29h8m2 51h8m90 2h8m-5-47h8m38 15h8m-161-19h8m-58 60h8m161-54h8m-194 3h8m71-24h8m6 22h8m128-24h8m-124 73h8m-95-6h8m73-48h8m88 3h8m-228 31h8m27 2h8m155-36h8m-69 61h8m-89-13h8m51 30h8m6-116h8m-93 33h8m36 53h8m134-19h8m-89-8h8m48-24h8m-88 44h8m-46-23h8m56 42h8m-95-1h8m82-10h8m-59-63h8m-4 52h8m-4 34h8m-56 5h8m154-23h8m-210 8h8m111-52h8m-110 59h8m145 2h8m-89-31h8m21 1h8m11-17h8m-15 8h8m-21-11h8m6 18h8m-10-15h8m-67-30h8m5 21h8m-3 25h8m-42-3h8m6 29h8m122-19h8m-201 18h8m210-43h8m-162 35h8m70-47h8m-51 3h8m-19 38h8m43-18h8m71-29h8m-134 48h8m-1 12h8m-44-15h8m112-2h8" stroke="#000" stroke-width="8" stroke-opacity="0.7" fill="none"/>
<path transform="scale(0.1)" d="M785 5405h8m-131 9h8m115-16h8m-165 34h8m49-11h8m58-12h8m-88 34h8m145-33h8m-106 61h8m20-20h8m-205-32h8m220 26h8m-51-34h8m-195 2h8m194 50h8m0-80h8m-103 63h8m-42 44h8m-37-126h8m122 140h8m-8-131h8m-30-9h8m9 32h8m9 17h8m-166-39h8m163 51h8m48 31h8m-172-48h8m21 42h8m56 34h8m-55-55h8m-9 24h8m-233-6h8m330-14h8m-284-12h8m302 21h8m-220 10h8m44-61h8m-48 50h8m60-1h8m-101 1h8m88 40h8m46-18h8m97-70h8m-387 86h8m222-69h8m53-4h8m19 58h8m-159-43h8m69-42h8m154 71h8m-144-5h8m-150-57h8m37 68h8m59-44h8m-104 47h8m144-66h8m-168 8h8m124-30h8m-175 36h8m51 56h8m92-25h8m23-25h8m-149 60h8m-57-36h8m178 17h8m-149-13h8m119-13h8m74 7h8m-67 9h8m-204 21h8m241-16h8m-19 9h8m-162-61h8m7-24h8m160 67h8m-109-5h8m2 9h8m53-44h8m-58 35h8m69-2h8m-120-5h8m-10-3h8m-46 15h8m129-25h8m-226 15h8m181 22h8m-142 25h8m-122-34h8m248 13h8m-58-8h8m-21 34h8m-62 13h8m19-84h8m-64 41h8m171-12h8m-5 39h8m-136-123h8m-3 55h8m17-34h8m48 96h8m-69-34h8m-70 12h8m12-8h8m39-4h8m-46 4h8m-30-25h8m138-50h8m-81 73h8m37-12h8m-171-16h8m148-1h8m-81 59h8m-34-63h8m-46-10h8m-4 53h8m7 24h8m45-84h8m-26 9h8m43 42h8m-29 6h8m-38 26h8m-72-45h8m-10-6h8m98-11h8m-178 53h8m277-53h8m-13-7h8m-284 18h8m236 7h8m-18 13h8m-6-32h8m-49 73h8m80 5h8m-230-93h8m24 39h8m88-36h8m-58 23h8m-142-29h8m196 29h8m10 17h8m-120-3h8m46-47h8m44-20h8m-285 5h8m132 94h8m-36-43h8m57 7h8m-107 43h8m-11-75h8m127 43h8m138-33h8m-285 26h8m249-63h8m-67 45h8m-4 10h8m21 6h8m-165-48h8m131 37h8m-246 34h8m57-30h8m94 29h8m32-6h8m-203-12h8m-55-19h8m201 14h8m-19-31h8m29 49h8m-78-11h8m-119 27h8m212 32h8m-40-43h8m-63-8h8m-1 8h8m107 17h8m-157-51h8m-259-31h8m150-3h8m-152 73h8m220-16h8m119 2h8m-268-68h8m211 34h8m-98-31h8m99 13h8m-56 18h8m-132-4h8m135 70h8m-64-88h8m77 20h8m-107 21h8m158 21h8m-165-47h8m56-27h8m-46 38h8m-86 25h8m64-45h8m-60 63h8m84-61h8m-155 11h8m1 6h8m158 73h8m-39-35h8m-5-13h8m-8-42h8m35-3h8m-59 13h8m32 70h8m-161-9h8m109-35h8m-122-27h8m-53-32h8m84 40h8m71 30h8m-65 1h8m152-5h8m-108-33h8m-31 37h8m-36-21h8m-140 32h8m118-19h8m-10 16h8m148-14h8m-238-24h8m52 50h8m-62-68h8m71 53h8m-178-34h8m175 2h8m-33 20h8m7-25h8m-32-12h8m43-6h8m-53 35h8m92 9h8m47-57h8m-131 51h8m-153 25h8m146-64h8m-197 8h8" stroke="#000" stroke-width="8" stroke-opacity="0.4" fill="none"/>
<path transform="scale(0.1)" d="M1782 5451h8m397-41h8m-430 15h8m345 63h8m-452-28h8m211-46h8m15 1h8m78 87h8m-152-24h8m-118-98h8m120 89h8m-269-31h8m-15 66h8m498-43h8m-131-56h8m158 24h8m-226 38h8m-328-14h8m70 18h8m201-56h8m-190 90h8m-26 7h8m-34-83h8m42-34h8m-192 48h8m373 34h8m-195-17h8m314-27h8m56 6h8m-291-52h8m175 48h8m1-3h8m-154-13h8m-67 60h8m225-70h8m-108 6h8m-142 60h8m-60 0h8m73-26h8m143-2h8m-48 9h8m-215 8h8m60-56h8m47 70h8m-98 52h8m41-68h8m-153-18h8m22 56h8m168-31h8m-19-55h8m-94 31h8m390-41h8m-382 84h8m127-101h8m-70 107h8m-133-71h8m180 29h8m58-33h8m-182 42h8m73 27h8m367-41h8m-611-42h8m103 32h8m118 9h8m-96 75h8m-144-89h8m45 2h8m32-17h8m-13 29h8m46 26h8m235-79h8m-221 107h8m-105 0h8m162-28h8m-15-7h8m-280 88h8m59-145h8m-85 25h8m227 96h8m69-140h8m-178 71h8m225-31h8m-300-16h8m33-3h8m34 28h8m33 17h8m229-3h8m-452 27h8m259-35h8m-85 2h8m169 14h8m-413-28h8m19-30h8m455 63h8m-86-113h8m-31 107h8m-198 39h8m176-111h8m-178-31h8m-181 65h8m146 38h8m-31-50h8m-127 87h8m65-20h8m-31-64h8m190 60h8m60-92h8m17 38h8m-10 28h8m-352 62h8m254-35h8m31 26h8m-78-115h8m-215 199h8m162-127h8m-163 60h8m265-57h8m-385 48h8m310-115h8m-165 12h8m-149 35h8m131-12h8m42 24h8m148-25h8m-15-34h8m65 52h8m-89-61h8m-200 38h8m-3 41h8m85-54h8m-87 40h8m-215 38h8m378 2h8m-112-8h8m289-31h8m-409-50h8m241 3h8m-151 7h8m47 11h8m-74 20h8m156-42h8m-102 26h8m-162 71h8m47-66h8m-31-60h8m45 64h8m16 5h8m-113-3h8m-27 102h8m81-54h8m-289 46h8m335-112h8m-10 56h8m-244-22h8m162-39h8m62-49h8m86 113h8m-86 78h8m65-57h8m-184-135h8m150 84h8m-34-37h8m-140 12h8m27 13h8m-285 72h8m41-20h8m366-83h8m-1 56h8m-306-1h8m-118 82h8m417-109h8m-139-27h8m245 24h8m-115-75h8m116 38h8m-198 43h8m-232-8h8m26-14h8m226 19h8m-415 3h8m311-31h8m-164 35h8m265-3h8m-303 28h8m-41-82h8m266 39h8m7-42h8m-129 69h8m-152-17h8m198 53h8m-192 15h8m168-48h8m-96-26h8m97-49h8m-280 56h8m36-14h8m398 14h8m-251 73h8m-86 18h8m-128-57h8m53-11h8m113-16h8m-239 29h8m178-30h8m-38 80h8m31-67h8m185-40h8m-270 76h8m29 33h8m65-50h8m-147-11h8m-191 4h8" stroke="#000" stroke-width="8" stroke-opacity="0.28" fill="none"/>
<path transform="scale(0.1)" d="M1759 5494h8m-51-31h8m273 23h8m-386-79h8m291 53h8m-134 2h8m55-53h8m185 7h8m-119 2h8m-5 54h8m-133-23h8m85-28h8m-130 42h8m6-40h8m193 23h8m-136-6h8m84-23h8m-102 53h8m-48-26h8m110-69h8m-215 62h8m243 50h8m-114-111h8m-194 93h8m202-20h8m73-43h8m-309 36h8m57-33h8m81-12h8m-161 57h8m218-4h8m59-61h8m-182 37h8m-223 17h8m136-47h8m189 78h8m-66-54h8m-57 34h8m124 7h8m90-47h8m-245 38h8m-119-6h8m235 8h8m-298-25h8m-20 42h8m254-8h8m-220 25h8m258-14h8m-263-72h8m90 23h8m-62 30h8m-91 17h8m25-50h8m178 21h8m-222 8h8m238-12h8m-114 33h8m-116-59h8m275 44h8m-300-38h8m336 36h8m-194-40h8m90 19h8m103 35h8m-263-55h8m102 30h8m-317 17h8m333-22h8m-342-5h8m84 8h8m254-26h8m-63 48h8m-185-1h8m-120 30h8m-3-43h8m324 24h8m-266-47h8m-18 29h8m-129-41h8m271 34h8" stroke="#000" stroke-width="8" stroke-opacity="0.3" fill="none"/>
<path transform="scale(0.1)" d="M2354 5451h8m-49-20h8m-147-48h8m-39 78h8m-72 76h8m-69 7h8m182-47h8m82-26h8m-60 71h8m18-114h8m-147 1h8m161 124h8m-268-35h8m59 36h8m-38-51h8m43-128h8m218 108h8m-143-42h8m98-17h8m35 77h8" stroke="#000" stroke-width="8" stroke-opacity="0.13" fill="none"/>
<path transform="scale(0.1)" d="M1997 5468h8m-114-13h8m83 5h8m-100 17h8m-39-53h8m156 36h8m-153-11h8m-3-6h8m90 2h8m-144-6h8m-4 14h8m45 3h8m18-25h8m60 42h8m-97-22h8m-45-30h8m-55 44h8m66-2h8m-21-51h8m116 39h8m-220-6h8m-20 17h8m-16-11h8m119 8h8m44-8h8m81-70h8m-257 76h8m131 5h8m-68 8h8m167 4h8m-109-18h8m85 21h8m-129-6h8m76-40h8m-64-3h8m-83 57h8m114-22h8m-109-60h8m-158 26h8m162 50h8m-97-22h8m126-57h8m74 53h8m-104 20h8m12-10h8m-149-11h8m27-6h8m7-10h8m191-10h8m-193 31h8m50 57h8m-173 10h8m92-78h8m39-38h8m-27 38h8m-20-4h8m49-2h8m-6-38h8m-138 49h8m-19-15h8m141 11h8m9-43h8m-175 51h8m149-42h8m-170 19h8m89-1h8m105-3h8m-236 12h8m120-7h8m-25 0h8m-80 1h8m141-4h8m-142 13h8m17 58h8m-44-24h8m111-47h8m0-21h8m59 64h8m-136-24h8m-53 12h8m175 12h8m-178-73h8m96 29h8m66 17h8m-71 36h8m-215-29h8m53 1h8m12-4h8m120-7h8m-136 12h8m113-25h8m-51-2h8m-12 9h8m-22 28h8m-65 17h8m158-36h8m-107-6h8m103 35h8m-199-8h8m-70 8h8m235-36h8m-211 3h8m94 19h8m-47-15h8m11 34h8m-25-54h8m-67 36h8m-17-8h8m102-34h8m-80 22h8m183-29h8m-137 26h8m96-4h8m-152 86h8m88-104h8m-116 51h8m-37-28h8m48 19h8m-5-19h8m212-24h8m-315 76h8m45-11h8m96-82h8m-76 46h8m16-7h8m41-35h8m-78 50h8m-53 12h8m-60-10h8m95 6h8m42 32h8m-38-58h8m71 42h8m-133 31h8m40-138h8m-92 76h8m-92 46h8m188-37h8m-92-21h8m83 50h8m-109-9h8m-85-63h8m46 62h8m39-29h8m-39 12h8m22-39h8m61 43h8m-54-8h8m29-31h8m-56 18h8m-48 49h8m-31 5h8m-109-76h8m215 42h8m32-24h8m-174 3h8m-4 20h8m1 34h8m85-31h8m-29-39h8m-33 28h8m7 10h8m-135 24h8m112-37h8m-12 5h8m45 0h8m-102 16h8m3-68h8m55 84h8m186-39h8m-268 6h8m199-41h8m-240 49h8m72 41h8m-90-64h8m173-37h8m-103 60h8m-3-11h8m57-6h8m12-40h8m-160 60h8m64 2h8m-73-129h8m129 112h8m-266 30h8m329-62h8m-200-23h8m-151 67h8m181 45h8m-99-43h8m63 47h8m-3-52h8m66-18h8m-238-3h8m171 49h8m48-76h8m-201 29h8m154-3h8m-1 18h8m-116-1h8m-119-35h8m156 0h8m-53 80h8m151-52h8m-150 5h8m65-13h8m-35 18h8m-22-27h8m-119 56h8m33-9h8m56-27h8m-21 26h8m-12-29h8m62-10h8m-64 40h8m44-31h8m-59-17h8m18 63h8m-81-44h8m-85 21h8m179 19h8m-10-74h8m-24 26h8m-121 40h8m141-41h8m-88 0h8m-2 7h8m-74 0h8m6-1h8m-18 20h8m70-13h8m-89 48h8m42-40h8m-47 38h8m-68-38h8m100 37h8m-5-50h8m-10 37h8m-249-16h8m309 22h8m-94-60h8m-82 13h8m220 11h8m-159-28h8m52 61h8m-59-41h8m-200 29h8m270-1h8m-193-2h8m166-45h8m-105-11h8m-66-6h8m-133 27h8m149-4h8m-51 1h8m76 29h8m-100-43h8m135-15h8m-104 53h8m1 43h8m181-83h8m-102 27h8m-121 8h8m73 26h8m-164 2h8m58-39h8m39 34h8m-54-20h8m-27 21h8m123 20h8m-112-102h8m-23 22h8m8 1h8m-12 3h8m108 30h8m-47 2h8m-147 51h8m215-21h8m-30-29h8m-116-5h8m-63 24h8m72-11h8m-56-21h8m79 26h8m-53-29h8m95 5h8m-236 11h8m71-16h8m63-6h8m-68 23h8m-3-6h8m-67-26h8m237 64h8m-173 10h8m61-5h8m-124-7h8m15-35h8m21-24h8m127-9h8m-31-18h8m50 34h8m-54-34h8m-8 48h8m-141 12h8m-47-20h8m149-8h8m-166 21h8m91 11h8m-99-19h8m-40 56h8m76-73h8m-83 11h8m39 1h8m84 2h8m-91 16h8m86 4h8m-122-18h8m56 48h8m-118-86h8m177 47h8m-271 8h8m171-47h8m14-3h8m-254 54h8m69 23h8m0-20h8m104-19h8m-22-5h8m-14-5h8m66-1h8m124 20h8m-265 25h8m99-19h8m-35-32h8m76 29h8m-259 26h8m28-78h8m37 54h8m-10-22h8m97 12h8m-66-34h8m-128 12h8m92 20h8m-77-8h8m59-2h8m36-13h8m-53 37h8m150 9h8m70-58h8m-143 39h8m-169-10h8m225 6h8m46 20h8m-188-13h8m36-12h8m47-28h8m-76 61h8m76 9h8m-68-90h8m-96 70h8m1-20h8m9-30h8m-38 80h8m146-39h8m-83 45h8m-52-73h8m71 4h8m-67-24h8m70 37h8m34-48h8m-119 41h8m-65 42h8m-55-14h8m223-1h8m-118-16h8m-84 21h8m30-25h8m-90-26h8m188 35h8m-90-10h8m-62-16h8m-95-4h8m276 46h8m-168-66h8m-190 31h8m123 24h8m35 4h8m5-10h8m-107-41h8m170 59h8m-54-29h8m-52-33h8m-59 69h8m-97-26h8m92-51h8m11-22h8m-81 69h8m107-19h8m32 22h8m-107 2h8m-4-25h8m24 30h8m123-12h8m-28-32h8m-247 60h8m82-20h8m230-22h8m-233 26h8m154-39h8m-106 5h8m52 15h8m-135-15h8m30 63h8m26-36h8m-51 15h8m-10 28h8m108-15h8m-132 24h8m104-83h8m-154 73h8m11-55h8m74 1h8m-24 12h8m27-5h8m-80 1h8m-13 9h8m-41 34h8m-100-93h8m84 14h8m106-1h8m-92 46h8m13-6h8m73 3h8m-174 48h8m88-54h8m-81-34h8m126 42h8m-208 47h8m79-1h8m-23-53h8m6 6h8m-25 5h8m182-3h8m-173-11h8m-2-9h8m-106 59h8m1-1h8m34-42h8m-45-14h8m127-8h8m-94-10h8m2-2h8m17 24h8m-68-9h8m-34 28h8m36-24h8m60-14h8m-31 15h8m-69-52h8m186 65h8m-104-11h8m18 41h8m56-51h8m-198 18h8m137-28h8m-59 82h8m-7-48h8m-148 32h8m45-43h8m57 20h8m-14-40h8m116 3h8m-157 16h8m40-18h8m-49 44h8m-85 7h8m67 5h8m23-56h8m120 2h8m-46 16h8m-145 25h8m-38-49h8m61 23h8m-48 36h8m225-37h8m-133 1h8m-79-23h8m-45 23h8m-47 29h8m68 5h8m-204-61h8m164 45h8m-14-19h8m144-23h8m-258 86h8m197-42h8m-107-41h8m78-3h8m-123 38h8m78-48h8m27 31h8m126 12h8m-270-34h8m46 36h8m-6 7h8m-46-27h8m31 25h8m2 7h8m-37-5h8m-116-23h8m148 32h8m-143-24h8m99 8h8m76-8h8m-185 8h8m78-57h8m22 78h8m-28-14h8m-41-7h8m30 11h8m42-30h8m-138 14h8m58 13h8m56-73h8m-107 43h8m-54 6h8m144 0h8m-14-6h8m12-8h8m-81 31h8m-56 17h8m158-18h8m-28 16h8m-43-11h8m-107 30h8m40 0h8m-88-49h8m-21-8h8m80 1h8m10 5h8m12 27h8m-44-3h8m141-16h8m-242-11h8m169-3h8m-140 13h8m96 6h8m-155-77h8m237 72h8m-67 10h8m-243-20h8m219 44h8m-95-12h8m47-5h8m-81-56h8m-15 63h8m-104-12h8m62-2h8m23-67h8m-134 26h8m47 29h8m67-31h8m29 68h8m-80-60h8m137 41h8m-156-2h8m83 60h8m42-75h8m-168 46h8m139-59h8m-108-13h8m-61 42h8m183 15h8m-8-48h8m-156 49h8m98-17h8m-15-15h8m-86 9h8m163-11h8m-187-10h8m-49 22h8m46 5h8m-20-30h8m-36-48h8m9 85h8m-92-31h8m144 25h8m-162-29h8m184 22h8m-40-14h8m-92 2h8m-7 7h8m-28 12h8m40-58h8m131 71h8m-118 0h8m-67-15h8m157-60h8m-171 74h8m-5-23h8m187 33h8m-124-49h8m33 5h8m-51 33h8m-19-82h8m6 46h8m-2 5h8m101-62h8m-267 50h8m-100 36h8m154-6h8m-99 39h8m118-25h8m-115-55h8m89 51h8m74-15h8m-133 0h8m-27-32h8m114 73h8m-127 3h8m42-41h8m-15-29h8m-97-4h8m165-8h8m-163 61h8m143-77h8m-45 78h8m-122-29h8m49 11h8m86 6h8m-94 47h8m182-53h8m-257-11h8m162 5h8m-229 5h8m100-8h8m90-3h8m-235-17h8m162 25h8m-117-38h8m-22 66h8m36-42h8m5-21h8m-1 48h8m-16 1h8m-29-14h8m-147-36h8m300-11h8m54 46h8m-134 52h8m-69-50h8m-62 4h8m90 3h8m-9-39h8m-98 57h8m46-48h8m65 13h8m-44-20h8m-36-9h8m7 11h8m-75-1h8m45 11h8m5 51h8m-73-30h8m39-25h8m73 22h8m1-27h8m-257 58h8m50-12h8m180-40h8m-52 11h8m-7 3h8m-152-21h8m106-10h8m33 25h8m-21-20h8m-97 28h8m5 22h8m60-31h8m-17 21h8m80 27h8m-289-43h8m125 42h8m132-67h8m-194 1h8m91 30h8m95-14h8m-200-25h8m100 68h8m116-18h8m-260-36h8m-63 24h8m230-10h8m-130-24h8m28 40h8m-1-45h8m83-15h8m-123 90h8m89-60h8m-26-2h8m-68 17h8m75-17h8m-63 78h8m-41-43h8m236-2h8m-401 22h8m60 29h8m-4-116h8m43 77h8m38-18h8m-39-1h8m188 18h8m-226-2h8m-56-60h8m81 47h8m-44-9h8m-11 34h8m98-90h8m-52 74h8m55-16h8m-179 23h8m123-14h8m-58-63h8m-54 76h8m-84-16h8m108-26h8m-90 51h8m138-34h8m-26 46h8m-8-16h8m171-67h8m-125 56h8m-267-7h8m197-11h8m-38-2h8m-7 31h8m-66-45h8m105 27h8m-304-37h8m111 43h8m143-50h8m-42 1h8m51 30h8m-111-23h8m-18 59h8m93-63h8m-53 74h8m-158-13h8m201-30h8m-167 22h8" stroke="#000" stroke-width="8" stroke-opacity="0.68" fill="none"/>
<path transform="scale(0.1)" d="M1819 5438h8m224 0h8m-209 44h8m-125 25h8m97-67h8m-86-22h8m21-13h8m-64-18h8m-2 56h8m140-50h8m-103 75h8m79-31h8m-124-16h8m16 72h8m-50-106h8m183 88h8m30-27h8m-195 5h8m98-9h8m-260-37h8m11 58h8m208 19h8m-275-106h8m481 70h8m-200-7h8m71-6h8m-205 23h8m-145-20h8m42-7h8m-6 53h8m178-72h8m-212 19h8m17-1h8m250-12h8m-310 9h8m55 64h8m209-74h8m115 110h8m-458-135h8m95 29h8m91-19h8m-36 84h8m-64-27h8m-87-51h8m224 29h8m-156-3h8m-23 97h8m68-82h8m146 4h8m-147 9h8m255-10h8m-326-8h8m94-29h8m-309 32h8m155 4h8m61-52h8m-82 48h8m-17-45h8m17-14h8m-54 53h8m40 20h8m59 14h8m25-50h8m-167-30h8m87 19h8m-73 21h8m180 5h8m83 19h8m-177-21h8m16 41h8m-83-56h8m75 36h8m-84 6h8m-124-8h8m267 5h8m103-54h8m-186 65h8m-77-46h8m44 11h8m125-28h8m-244 46h8m125-27h8m-70-8h8m-266 46h8m192-48h8m93 37h8m-31-6h8m-60 12h8m-132-16h8m157-42h8m-16 45h8m32 7h8m130 51h8m-201-1h8m108-32h8m-75 3h8m243-118h8m-256 68h8m228-19h8m-409 56h8m-32-2h8m179 1h8m-76 1h8m151-7h8m-62-16h8m-6-16h8m-185 43h8m75-23h8m89 35h8m-163-50h8m56 6h8m124-18h8m-146 49h8m23-50h8m100-51h8m-92 52h8m-219 4h8m167 22h8m-19-11h8m27 54h8m207-32h8m-134 22h8m-118 14h8m-97-11h8m158-4h8m-80-47h8m115 31h8m-117-18h8m67 29h8m-207-45h8m61 41h8m18-39h8m-105 42h8m126 16h8m-93 0h8m-7-54h8m-45 57h8m59-101h8m-178 63h8m271-53h8m-62 48h8m10-40h8m67 38h8m-116-22h8m-71 66h8m171 30h8m-197-44h8m52 6h8m-264-19h8m170-18h8m49-5h8m66-31h8m-22 12h8m40 53h8m-176-40h8m-8 27h8m77-43h8m-119 106h8m35-31h8m42-48h8m-234 65h8m36-45h8m212 20h8m-133-42h8m154-10h8m-145 63h8m-68-23h8m173 3h8m-104 6h8m61-29h8m-123-20h8m-23 28h8m44-71h8m-58 61h8m58 35h8m-99-45h8m141 70h8m39-74h8m-42-23h8m-199 54h8m266-25h8m-335 26h8m207-42h8m-20 40h8m65-15h8m-166 5h8m11 23h8m174-57h8m-11 20h8m-244 42h8m73 4h8m-63-17h8m202-17h8m-204-20h8m70 3h8m13-41h8m-177-18h8m233 102h8m-181-6h8m-94-75h8m188 37h8m-26 13h8m-86-21h8m45 36h8m184-30h8m-117-33h8m-83 32h8m-49 29h8m233-45h8m-257 55h8m-175 10h8m341-15h8m-197-1h8m-192-22h8m77 21h8m-4-42h8m-100-53h8m150 54h8m10 71h8m237-14h8m-197-69h8m-63 27h8m38-16h8m31-16h8m80 29h8m27 37h8m-367-25h8m45-10h8m152-63h8m205 144h8m-273-111h8m166 39h8m-189 26h8m-9-21h8m26 22h8m173-104h8m-213 47h8m52 7h8m21-22h8m56-8h8m-102 81h8m84-71h8m80 78h8m-107-6h8m-136-42h8m18-34h8m38 26h8m-68-4h8m-102 2h8m13-4h8m33 28h8m-163-12h8m529 8h8m-234 1h8m-165 41h8m-27 26h8m209-66h8m-299-3h8m35-2h8m219 36h8m-131-8h8m86-19h8m-81-9h8m-20 24h8m-79 15h8m116-48h8m-35 28h8m-9-74h8m-80 38h8m171 38h8m-132-68h8m50 2h8m-203 58h8m-61-73h8m255 54h8m-161 79h8m-29-57h8m125 47h8m99-7h8m-186-76h8m-10 18h8m74 19h8m3 24h8m-61 11h8m-214-21h8m276-15h8m-178-46h8m307 70h8m-314-54h8m92 52h8m-38 11h8m20-91h8m246 114h8m-312-73h8m133 42h8m-120-5h8m-47 30h8m115-22h8m-55 15h8m-66-26h8m-95-54h8m146 20h8m321 29h8m-398 9h8m76-27h8m-141-28h8m438-18h8m-547 44h8m84 97h8m-150-104h8m275-12h8m-67 36h8m22 5h8m-56-20h8m165-71h8m-28 44h8m-31 2h8m-237 0h8m104 13h8m78-29h8m70 109h8m-147-45h8m132-13h8m-314-42h8m36-13h8m-38 74h8m38-34h8m-25 20h8m-115-10h8m328-5h8m-91-86h8m-159 112h8m-145 28h8m348-56h8m-389-8h8m122 13h8m-26-16h8m50-52h8m124 49h8m37 11h8m-69 36h8m-172-68h8m265 22h8m-20 11h8m-53 15h8m168 49h8m-389-43h8m25 1h8m-10-62h8m10 93h8m132-110h8m-56 102h8m-76-16h8m165-26h8m-146-38h8m-61 53h8m-15-33h8m-83 60h8m111-142h8m-79 100h8m75-89h8m46 89h8m1-13h8m-109 38h8m252-66h8m-345 5h8m197-38h8m-83 56h8m21 21h8m-115-14h8m-19-24h8m149 24h8m-270 26h8m198-8h8m-185-75h8m-49 48h8m203-13h8m-79-62h8m269 111h8m-417-9h8m203-45h8m-13 52h8m-1-9h8m-79-24h8m-134 26h8m251-18h8m-6-15h8m-48 57h8m-20-86h8m94 115h8m-32-55h8m-40-22h8m-154 28h8m174-45h8m-217 17h8m132 80h8m-162-51h8m85-21h8m97 0h8m-129 36h8m131 0h8m-166-41h8m229 50h8m-209-40h8m297-1h8m-217 27h8m-91-50h8m-128-27h8m70 47h8m256 34h8m-364-39h8m-43 39h8m198 11h8m98-52h8m-189 12h8m-61-5h8" stroke="#000" stroke-width="8" stroke-opacity="0.45" fill="none"/>
<path transform="scale(0.1)" d="M3087 5496h8m-30-20h8m-48-8h8m144-45h8m-133 28h8m-22 16h8m-146-105h8m100 45h8m158 29h8m-88 43h8m-83 26h8m-35 13h8m-121-89h8m20 31h8m219-35h8m-139-4h8m1 17h8m147 10h8m-226 38h8m-20-88h8m242 39h8m-114-28h8m-290 107h8m197 1h8m-112-78h8m27-11h8m30 49h8m-189 23h8m107-81h8m322 4h8m-269 40h8m-46-49h8m184 88h8m-312-40h8m139-6h8m186-58h8m-169 100h8m30-100h8m-79 27h8m66 1h8m39 15h8m-124-44h8m29 24h8m14 51h8m-288-10h8m356-12h8m112 26h8m-138-13h8m-83 25h8m-88-33h8m85-41h8m204 87h8m-76-125h8m-289 27h8m279-6h8m-288 149h8m-5-88h8m58 35h8m87-106h8m-117 23h8m153 46h8m-99-25h8m157 14h8m-389 39h8m185-30h8m63-4h8m105-1h8m-477 8h8m232 8h8m-231 37h8m299-89h8m-133 52h8m107 18h8m78-46h8m-26 5h8m-142 81h8m96-33h8m315 28h8m-471 8h8m124-91h8m-145-7h8m164 7h8m-217 55h8m165-173h8m-270 146h8m210 33h8m289-60h8m-478 36h8m63-25h8m183-66h8m-263 114h8m-170-39h8m81 25h8m230-30h8m112 68h8m-140-50h8m-12-1h8m122-27h8m-154-20h8m173 37h8m12 25h8m-243-29h8m193-94h8m-79 57h8m-109 109h8m0-96h8m136 21h8m-312-64h8m-51 53h8m347-29h8m98 58h8m-225 5h8m90-9h8m-353 36h8m29-59h8m97 78h8m12-75h8m61 41h8m-88 49h8m39-103h8m-22 35h8m96-24h8m51 6h8m-32 8h8m58-18h8m-213 14h8m-42 29h8m-196-68h8m19 21h8m314-8h8m-52-31h8m-62 68h8m-56-28h8m-128-9h8m-135-12h8m202 7h8m37 48h8m-312-49h8m502 56h8m-268 3h8m136-20h8m101-81h8m19 33h8m-240 81h8m155-62h8m-16-15h8m-119 8h8m29 40h8m-169-76h8m146 101h8m-129-24h8m46-51h8m38 60h8m95-132h8m-160 64h8m-8 59h8m-26 46h8m398-124h8m-420 13h8m111 45h8m-265 20h8m193-43h8m-172 7h8m80 85h8m158-103h8m119-33h8m-209 56h8m53 62h8m-66-20h8m-90-24h8m58-51h8m111 40h8m-103 118h8m-89-82h8m-19 17h8m111-107h8m-111 50h8m156-14h8m-309 103h8m272-92h8m-214 20h8m88-21h8m274-105h8m-141 159h8m-217-105h8m12 49h8m157-47h8m0 37h8m-134 12h8m93-7h8m-157 83h8m186-78h8m-213 43h8m132-43h8m-109 1h8m-17 94h8m-90-40h8m205-73h8m4 42h8" stroke="#000" stroke-width="8" stroke-opacity="0.28" fill="none"/>
<path transform="scale(0.1)" d="M2795 5417h8m81 0h8m134 18h8m-44-32h8m-41-36h8m134 108h8m-304-31h8m336-22h8m-274 13h8m-24 27h8m-99-48h8m155 27h8m-48-17h8m-23 53h8m214-110h8m-144 31h8m-100 84h8m17-78h8m-134 12h8m106-13h8m-79-33h8m29 67h8m-43 23h8m72-11h8m-142-46h8m164 21h8m191 66h8m-73-56h8m-47-22h8m82 55h8m-39-36h8m-7-48h8m70 31h8m-175 53h8m4-32h8m126 2h8m-356 22h8m376-43h8m-25-22h8m-191 45h8m113-18h8m-40 18h8m-117-21h8m-198-1h8m217-20h8m-134 51h8m80 50h8m-180-96h8m163 73h8m191-15h8m-54-40h8m-55-11h8m-310 47h8m249-27h8m-225 2h8m315-5h8m-7 72h8m-25-107h8m-206 62h8m-109 44h8m331-52h8m-362 60h8m272-65h8m-238 5h8m-74 19h8m259-46h8m-8 23h8m85 17h8m-58-38h8m29 34h8m-83 19h8m-185-68h8m252 32h8m-128 15h8m-241-33h8m96 52h8m-139 7h8m140-55h8m261 25h8m-308-27h8" stroke="#000" stroke-width="8" stroke-opacity="0.3" fill="none"/>
<path transform="scale(0.1)" d="M3185 5484h8m78 19h8m132-3h8m116-93h8m-236 107h8m-154-48h8m62-89h8m-24 123h8m43 31h8m241-65h8m-31-32h8m-177-56h8m235 58h8m-104-27h8m24-29h8m60 138h8m-20-33h8m-357 5h8m214-36h8m95-49h8" stroke="#000" stroke-width="8" stroke-opacity="0.13" fill="none"/>
<path transform="scale(0.1)" d="M3063 5460h8m-55-31h8m64 17h8m-16 15h8m-156-38h8m150 35h8m-75-26h8m-113 10h8m56 29h8m100-60h8m11 21h8m-87 12h8m94 26h8m-41-26h8m-183 28h8m23-45h8m100-16h8m-100 38h8m15 41h8m60-29h8m-53-21h8m-39-3h8m-59 51h8m251-31h8m-270-37h8m64-17h8m112 90h8m-101-39h8m-72 0h8m-22 9h8m165-20h8m-37 0h8m-214 13h8m32-50h8m147 33h8m66-8h8m-170 47h8m106-8h8m-203-24h8m-14 7h8m24 3h8m127 40h8m-31-21h8m29-45h8m-194 62h8m249-72h8m-163 59h8m224-38h8m-192-21h8m-164 26h8m127-1h8m-68 34h8m174-4h8m-113-69h8m72 26h8m-162 47h8m-6-14h8m62-3h8m-14 3h8m-84 7h8m103 7h8m39-44h8m-126-39h8m-16 67h8m-9-27h8m69-30h8m-56 45h8m34-22h8m44 14h8m-119-43h8m-2 63h8m-11-14h8m128-1h8m-131-16h8m6-3h8m-34 45h8m83-13h8m-46-20h8m-129-17h8m155 34h8m-51-23h8m55 30h8m-62-35h8m-52 24h8m-80 8h8m143-30h8m13 25h8m-172-38h8m57 62h8m31-44h8m-54 2h8m32 4h8m-67-1h8m-28-8h8m134 15h8m-231-8h8m171-2h8m-117 17h8m54-12h8m-62-12h8m57 36h8m-66 31h8m57-66h8m-135 43h8m16-40h8m64 7h8m49-23h8m-119 18h8m204-15h8m-184 25h8m80-10h8m-203 71h8m51-77h8m-7 36h8m-20 6h8m-43-61h8m79-3h8m-36 64h8m178-60h8m-136 28h8m15-58h8m-186 48h8m266 5h8m-2 34h8m-209 33h8m-9-65h8m18 49h8m157-44h8m-219 6h8m16-1h8m-51 2h8m133-39h8m37 33h8m-148-19h8m155 28h8m-80 62h8m-89-94h8m102 66h8m43-70h8m-6 19h8m-64 36h8m52-16h8m-107 22h8m16 3h8m102-46h8m-153 2h8m-60 31h8m-39-1h8m47 26h8m-117-88h8m68 73h8m-25-12h8m65-23h8m-100-8h8m88-4h8m1-1h8m56 55h8m8-39h8m33-9h8m-147 15h8m-93 17h8m157-4h8m-37-17h8m-73-2h8m87-19h8m81 14h8m-130 4h8m-69-9h8m41 5h8m-92 43h8m213-23h8m-253 0h8m8 22h8m146-35h8m-99 31h8m-88-25h8m159 27h8m7-23h8m-221-9h8m165-31h8m20 31h8m57-3h8m-114-25h8m14 20h8m-58-6h8m40 18h8m67-42h8m-83 35h8m-107 53h8m32-25h8m146-33h8m-251 51h8m39-49h8m-12 30h8m143-21h8m-177-9h8m29 20h8m21 45h8m36-81h8m-4-1h8m-139 70h8m-11-57h8m-29 14h8m188-19h8m-115-1h8m26 28h8m-23-36h8m-122 5h8m-19 20h8m33 18h8m227 9h8m-188-26h8m61 19h8m-123 17h8m266-36h8m-198 19h8m-137-19h8m73-38h8m57 55h8m41-50h8m-109 47h8m68-38h8m-37-7h8m-12 26h8m-58-26h8m55 30h8m46-9h8m-93 3h8m-30 44h8m228-29h8m-169-18h8m-9 26h8m-169-2h8m185-28h8m-214-14h8m205 4h8m-70 69h8m-72-43h8m-23 13h8m58 25h8m-54-57h8m-106 49h8m199-100h8m-203 48h8m93-34h8m-28 54h8m146-7h8m-243-6h8m184-8h8m-44 90h8m-267-49h8m105-3h8m45-37h8m-35 4h8m89 19h8m18-14h8m29 1h8m-143 5h8m85-41h8m-63 55h8m48-7h8m-51 11h8m-4 3h8m-30 29h8m53-58h8m-38 16h8m-89 33h8m-94-38h8m228 25h8m-28-39h8m-72 4h8m86-20h8m-100 28h8m-10 54h8m-31-4h8m119-50h8m33 9h8m-160 23h8m-43-53h8m121 10h8m-20 6h8m-30-41h8m-163 35h8m123-3h8m-16 8h8m-44 5h8m46-54h8m-51 69h8m33-25h8m-38 25h8m-28 4h8m142-27h8m-138 56h8m37-89h8m19 39h8m-151 11h8m52 30h8m-62-35h8m46 13h8m-84-5h8m149 38h8m-77-55h8m-102-9h8m121 3h8m-118 28h8m-40 27h8m128-101h8m-35 28h8m-63 70h8m98-51h8m-27-7h8m-29 8h8m55-14h8m-63-1h8m66 24h8m-78-17h8m-5 61h8m-252-91h8m183 65h8m160-40h8m-191 69h8m21-68h8m-29 38h8m-109 34h8m171-36h8m88-35h8m-24 12h8m-151 17h8m-56 34h8m16-34h8m73 8h8m-79-40h8m82 25h8m-44 31h8m-124-32h8m-2-5h8m142-6h8m-5 38h8m-72-12h8m102-9h8m-125-22h8m-27-24h8m15 68h8m34-39h8m-220 43h8m174-18h8m-8-27h8m-83-9h8m-7 50h8m145-83h8m-136 1h8m10 96h8m81-64h8m-169 33h8m271 8h8m-248 38h8m-4-78h8m-68 24h8m56 24h8m-35-22h8m28-21h8m-54 46h8m-109-61h8m264 53h8m-41-24h8m-15 1h8m-18-16h8m-3 10h8m-104 38h8m261-34h8m-269 35h8m-55-11h8m235-37h8m-191 13h8m26 6h8m-88-8h8m51 42h8m44-66h8m-16 72h8m-128-54h8m141-12h8m-122 27h8m-69-28h8m181 63h8m-51 2h8m-50-3h8m-49 11h8m107-19h8m-89-73h8m-37 64h8m84-39h8m-26 40h8m-122-22h8m177-14h8m-229-1h8m59 34h8m81 9h8m-45-53h8m60 33h8m-24 3h8m-231-3h8m270-16h8m-143 41h8m30 1h8m-66-11h8m-32 1h8m121-6h8m-22-32h8m-24 13h8m-76 6h8m158-32h8m-95 47h8m9 26h8m-45 6h8m5-57h8m56-9h8m-17-8h8m-1 36h8m-84-14h8m-4 30h8m-109-51h8m67 27h8m-37-17h8m-27 23h8m54-16h8m-5-40h8m-63 69h8m-83-15h8m100-3h8m11-7h8m14-23h8m-97 29h8m-39 20h8m-47 24h8m127-43h8m-52-16h8m83 38h8m-161-27h8m198-11h8m-122 12h8m-8 15h8m16-46h8m35 30h8m-1-4h8m-206 1h8m90 47h8m64-85h8m4 38h8m-35 7h8m-91 5h8m92 26h8m-58-86h8m8 43h8m83-18h8m-108-8h8m35 17h8m68 21h8m-43-15h8m-174 64h8m2-86h8m-76 49h8m221-13h8m-100 1h8m-35 14h8m25-23h8m-89 22h8m121-25h8m-117 0h8m126-18h8m-55 15h8m-31 30h8m37-32h8m-67 33h8m7-24h8m85 0h8m29 30h8m-95-56h8m56 24h8m-229 35h8m120-14h8m-20-4h8m-40 26h8m65-49h8m96 9h8m-111 46h8m34-74h8m14 41h8m-12 1h8m-102-1h8m-58 5h8m121-38h8m-27 25h8m-107-1h8m147 4h8m-190 4h8m-35 43h8m77-25h8m-100 32h8m77-31h8m-2-15h8m-46 10h8m41 12h8m-109-47h8m-84-13h8m221-10h8m3 53h8m-15-27h8m-101 6h8m56 7h8m-65 19h8m103-34h8m-184-1h8m101 2h8m-62 33h8m78-28h8m-54 22h8m-145 17h8m98-37h8m-57-11h8m98-15h8m22 15h8m-161-4h8m114 23h8m-116-31h8m32 34h8m40-17h8m71 25h8m-65-42h8m7 28h8m-91 19h8m14-57h8m51 44h8m-43-20h8m-9-9h8m9-16h8m87 33h8m-30-14h8m-4 5h8m-82 31h8m-99-87h8m-32 96h8m91 29h8m-95-53h8m-79-4h8m114 0h8m180 15h8m-169 47h8m-3-81h8m-26-53h8m13 81h8m-118-4h8m109-8h8m31-4h8m-50-45h8m-2 60h8m-28-24h8m44 22h8m-146-12h8m-71-7h8m101-28h8m30 77h8m37-39h8m-108 16h8m62 26h8m-26-25h8m49-9h8m-99-58h8m76 80h8m1-7h8m-86-45h8m1-10h8m-29 48h8m-27-13h8m0 39h8m-45-65h8m126 23h8m-30 19h8m-47-3h8m7-42h8m-14-4h8m101 17h8m-50 66h8m-101-67h8m67 5h8m-177 41h8m76-14h8m-28 23h8m70-54h8m-72 3h8m-24 38h8m-5-26h8m-60 8h8m-1-25h8m17 4h8m91-5h8m-15 4h8m27-4h8m60 6h8m-64 3h8m-206 45h8m80 12h8m146-59h8m-104 51h8m6-27h8m-23-66h8m-122 67h8m121-48h8m-46 64h8m-72-36h8m95 45h8m90-8h8m-150-40h8m-89-7h8m79 45h8m-67-44h8m-118 25h8m134 19h8m55-31h8m-105 26h8m56 26h8m-13-38h8m-31 10h8m-6-32h8m-5-51h8m-1 69h8m2-4h8m40 10h8m-82-8h8m-34-15h8m89-4h8m-92 21h8m195-35h8m-182-2h8m157 31h8m-135-1h8m-3 15h8m34-30h8m-42 12h8m-50-17h8m-23 14h8m-48 32h8m-10 21h8m121-55h8m-245 30h8m292-44h8m-66-15h8m-98 27h8m142 0h8m2-3h8m-64-9h8m-265 38h8m23 21h8m184-50h8m-142 30h8m109-2h8m-68 13h8m50-11h8m-60 11h8m15-24h8m-134-26h8m113-2h8m-69 19h8m132-20h8m-134 12h8m75 9h8m2 4h8m-62-7h8m-57 21h8m64 35h8m-31-70h8m59 7h8m-134-8h8m-23 56h8m128-13h8m-44-51h8m63 40h8m2-46h8m-241 55h8m146-17h8m-15 2h8m-16-44h8m57 44h8m66-4h8m-162 35h8m-6-29h8m49-7h8m-2-16h8m-70 33h8m64 3h8m29-3h8m-147 11h8m122-33h8m-159-22h8m145 28h8m-166 42h8m-5-5h8m-49-45h8m73 62h8m10-17h8m-16-13h8m-27-43h8m3 40h8m-26 7h8m1 30h8m27-65h8m-59 6h8m46 33h8m-98 4h8m-28-6h8m144-41h8m-122 3h8m58 18h8m-88 9h8m-44 13h8m0-40h8m26-23h8m154 57h8m-156-22h8m61-4h8m-52 29h8m25-60h8m-103 39h8m160-17h8m-72 23h8m-57-9h8m86 12h8m-183-38h8m53 17h8m70-14h8m84 42h8m-160 13h8m161-38h8m-53 17h8m-161-14h8m94-15h8m40 46h8m-164-27h8m175 25h8m-230 37h8m203-97h8m-23 43h8m29-24h8m-67 21h8m-53-64h8m-141 78h8m236-48h8m-88 32h8m7 3h8m-112 15h8m-131-14h8" stroke="#000" stroke-width="8" stroke-opacity="0.7" fill="none"/>
<path transform="scale(0.1)" d="M2967 5435h8m-61 60h8m-115-61h8m71 30h8m2-20h8m7-21h8m34 14h8m-1-5h8m64 18h8m72-9h8m-271 29h8m96-33h8m17 16h8m-68 40h8m73-34h8m-264 68h8m247-78h8m-84 6h8m-155 8h8m134 17h8m183-12h8m-186-23h8m182-5h8m5-6h8m-175 12h8m-60-45h8m79 8h8m59 2h8m22 76h8m-135-34h8m-114 23h8m202-37h8m-301 16h8m132-34h8m17-33h8m31 50h8m-105-8h8m58-3h8m58-23h8m-83 58h8m-86 6h8m135-7h8m-63 16h8m-108-56h8m15 41h8m220-19h8m-188-12h8m54 15h8m-97-29h8m20 18h8m2 9h8m-48-51h8m103 96h8m19-15h8m-30-6h8m-115 28h8m-29-31h8m-128-2h8m263 30h8m-130-62h8m-88-25h8m-2 67h8m163-35h8m-103 37h8m83-11h8m-58-39h8m59 18h8m-68-30h8m-283 34h8m363-7h8m-241 29h8m239 32h8m-129-48h8m-89-16h8m15 12h8m-35-6h8m97-11h8m5 20h8m-171-40h8m-53 9h8m268 32h8m-88 20h8m-158-12h8m198-24h8m8 41h8m-71-23h8m-5 41h8m-101-36h8m-220-15h8m316-35h8m-143 73h8m239-9h8m-221 12h8m79-57h8m-126-15h8m-69 72h8m74-41h8m226-71h8m-194 90h8m-185-56h8m259 79h8m6-10h8m-186-90h8m74 68h8m-18-10h8m-77 18h8m69-53h8m-158-7h8m166 69h8m49-85h8m-174 55h8m128 16h8m1 9h8m-26-12h8m71 58h8m-138-32h8m-76-40h8m131 0h8m-32-17h8m-248 27h8m191 57h8m-82-42h8m26-23h8m34-33h8m121-38h8m-108 71h8m-106-20h8m2 33h8m61-44h8m9 55h8m200-29h8m-337-11h8m27 27h8m129-23h8m-126 13h8m40-21h8m-170 36h8m-9-64h8m200 47h8m-161 20h8m152 9h8m-120-10h8m63 22h8m71-31h8m-186 69h8m-7-91h8m165-45h8m-109-4h8m-23 8h8m85 55h8m-176-50h8m77 7h8m-118 64h8m-14-73h8m170 55h8m41 23h8m-99 9h8m-156-27h8m111-49h8m33 12h8m-40 72h8m99 5h8m-186-60h8m94 38h8m-68-3h8m16-33h8m-31 42h8m66-58h8m-160 44h8m73 1h8m50-23h8m38-12h8m11 63h8m-87-70h8m77-3h8m4-15h8m-133 35h8m179 1h8m-47-18h8m-171 57h8m7-30h8m-39 14h8m24-58h8m34 31h8m-15 56h8m-68-15h8m71-17h8m56 20h8m-35-12h8m-30-12h8m-96 3h8m-6 2h8m168-26h8m-153 64h8m-79 20h8m140-67h8m58-6h8m-288 71h8m272-56h8m-242 4h8m156-3h8m-78-11h8m-69-13h8m-38 34h8m-15-68h8m-28 76h8m70 13h8m115-52h8m-121-4h8m187 70h8m-202-64h8m-48-11h8m53 44h8m140-60h8m-221-30h8m57 62h8m83-15h8m-143-8h8m82 1h8m-68 4h8m-11 9h8m-2-59h8m-19 91h8m82-33h8m-215-1h8m18 2h8m63 34h8m-102-16h8m43 57h8m-31-130h8m88 89h8m-148 4h8m116-116h8m-40 104h8m141-21h8m-241 0h8m-13 3h8m-2 12h8m32-23h8m10-10h8m125 50h8m-133-28h8m45 25h8m-2 54h8m53-120h8m-181 14h8m43 5h8m62 18h8m114 53h8m-188-36h8m-14 19h8m122 24h8m-65-116h8m-15 49h8m153-10h8m-234 33h8m124-44h8m94 80h8m-216-64h8m234-8h8m-145-8h8m-43-8h8m92 38h8m-116-17h8m-249 27h8m237-24h8m-46 29h8m-122-8h8m184 27h8m-120-11h8m-37-38h8m264 53h8m-100-54h8m26-10h8m14 53h8m-279-64h8m271 17h8m-264-25h8m-9 1h8m115 53h8" stroke="#000" stroke-width="8" stroke-opacity="0.4" fill="none"/>
<path transform="scale(0.1)" d="M4205 5453h8m307 6h8m-36-7h8m-142-8h8m-125 40h8m66-24h8m-33 23h8m152-51h8m-366 59h8m193-57h8m23 8h8m33 15h8m28-2h8m-137 21h8m114 0h8m-229-24h8m265-39h8m-101-17h8m-53 105h8m142 1h8m-233-21h8m-122 25h8m245-83h8m-53 37h8m-53 49h8m-53-30h8m119-76h8m50 49h8m-222 20h8m-62 37h8m242-9h8m-224-23h8m273-24h8m12 13h8m-253-28h8m338-26h8m-320-5h8m21 60h8m-8 16h8m56-21h8m39-3h8m-72-32h8m-132 15h8m47 63h8m-156 0h8m49-42h8m138 12h8m-35-42h8m-76 1h8m92 31h8m-125 2h8m77 1h8m13 67h8m94-80h8m-6-9h8m-239 96h8m52-104h8m-167 44h8m434-73h8m-494 81h8m246 44h8m-203-114h8m196 79h8m0-88h8m37-16h8m-147 68h8m149-20h8m-175 16h8m-41-22h8m17 56h8m-14-65h8m291 23h8m-91 86h8m-58-133h8m-314 96h8m219-36h8m71-67h8m-285 91h8m320-14h8m-251 33h8m117-26h8m17-46h8m-48 21h8m-1-26h8m60 59h8m65-74h8m34-18h8m-25 19h8m-143 96h8m-277-73h8m109 67h8m67-14h8m118-62h8m60 16h8m-201-30h8m-33 67h8m83-10h8m-1-43h8m54 23h8m1-6h8m-122 34h8m-276 42h8m238-22h8m-316 4h8m327-24h8m333-37h8m-177 50h8m-119-38h8m211-50h8m-397 49h8m167-6h8m0-56h8m-151 42h8m14 56h8m149 23h8m-63-14h8m-115-52h8m53 54h8m82-42h8m-115-14h8m-62 70h8m123-33h8m-69 8h8m21-15h8m-161 36h8m119-61h8m-46 5h8m-137 8h8m354 0h8m-176 9h8m7 15h8m59-54h8m55-7h8m-51 15h8m-209 30h8m98-24h8m-98 69h8m30-47h8m52-103h8m97 52h8m-272 67h8m210-34h8m-54 3h8m-177 15h8m98-35h8m155 30h8m-156 27h8m43-6h8m59 32h8m-121-88h8m-12 9h8m145 13h8m-25 7h8m154-21h8m-271-5h8m-254 44h8m42 59h8m221-62h8m-190 25h8m-59 13h8m304-11h8m-347-18h8m-7 15h8m198-93h8m120 24h8m-51 28h8m-240 44h8m213-77h8m-222 9h8m151-5h8m-416 14h8m211 4h8m191 3h8m-67 29h8m62 24h8m-525 29h8m617-120h8m-65 41h8m135-40h8" stroke="#000" stroke-width="8" stroke-opacity="0.28" fill="none"/>
<path transform="scale(0.1)" d="M4048 5406h8m143 43h8m-54-2h8m26-39h8m-153 29h8m189-31h8m-190 56h8m25-22h8m10 19h8m37 23h8m9-19h8m-143-17h8m-50 8h8m198-19h8m-191 10h8m-8 45h8m-77-58h8m-11 11h8m22 9h8m55 3h8m-63 9h8m199-47h8m-128 16h8m168 11h8m-299 9h8m147 8h8m129-5h8m-48-9h8m-154-24h8m142-6h8m27-1h8m-271 50h8m99 18h8m-152-59h8m37-14h8m65 25h8m-128 15h8m205-19h8m22 8h8m-92 22h8m-135-8h8m181-20h8m34-21h8m-90 29h8m-180 30h8m7-68h8m190 79h8m-2-33h8m-149 33h8m53-54h8m28-3h8m104-14h8m-48 39h8m-9-2h8m-37-9h8m-32 8h8m-64 8h8m144-30h8m-274 42h8m169-62h8m-31 28h8m-192 20h8m255-15h8m-106 10h8m81-42h8m-36 31h8m-205 6h8m79-34h8m150 49h8m5-44h8m-149 10h8m-101-12h8m101 37h8m20-24h8m61 34h8m-49 6h8m-220-30h8m101 22h8m143 30h8m-238-84h8m-16-1h8m196 85h8m-205-65h8m24 93h8m169-50h8m-227-78h8m215 79h8m-203-25h8m218 6h8m-17 18h8" stroke="#000" stroke-width="8" stroke-opacity="0.3" fill="none"/>
<path transform="scale(0.1)" d="M4255 5422h8m140-43h8m195 157h8m-120-4h8m-202-54h8m310 0h8m-396-10h8m44 10h8m263 3h8m-20 75h8m-222-17h8m96-71h8" stroke="#000" stroke-width="8" stroke-opacity="0.13" fill="none"/>
<path transform="scale(0.1)" d="M4239 5499h8m15-83h8m26 16h8m136 6h8m-68 30h8m-75 36h8m-8-24h8m-123-1h8m104-17h8m56-44h8m-103 34h8m60 31h8m49-22h8m-126-10h8m-92 20h8m90-22h8m-14-28h8m192 20h8m-201 8h8m-11-13h8m72 16h8m-129 8h8m20 8h8m5-4h8m-10 3h8m30-12h8m-24-10h8m-179 29h8m230-19h8m-114 31h8m69-27h8m-51-12h8m31 29h8m39-23h8m-110 28h8m-23 31h8m47-35h8m-45-42h8m122-4h8m-143 44h8m-37-46h8m171 11h8m-190 31h8m92-25h8m-104 1h8m81 10h8m55-13h8m-22-2h8m-129 33h8m56-31h8m37 5h8m-78 39h8m111-19h8m-30-16h8m2-6h8m-123 20h8m18-3h8m-122-23h8m15 9h8m97 32h8m-102-37h8m50 53h8m-87-15h8m17-18h8m-45-6h8m99 4h8m-79 21h8m52-13h8m25 17h8m-75-13h8m16-27h8m152 12h8m-129 15h8m63-25h8m-16-17h8m-51 7h8m-29 31h8m-160-18h8m143 45h8m-112-13h8m-37-54h8m81 8h8m78 18h8m-48-26h8m3 23h8m-2 23h8m-9-6h8m-138-26h8m-7 40h8m74-2h8m55-43h8m-80 36h8m-60-23h8m5-17h8m1 55h8m-20 0h8m-42-43h8m175-53h8m-99 88h8m-139-24h8m122 10h8m12-39h8m18 38h8m-137 24h8m-68-16h8m282-10h8m-258 11h8m-15 15h8m100-43h8m56-6h8m-18-30h8m-132 44h8m51-2h8m-63-14h8m47 43h8m-57-24h8m220 52h8m-104-44h8m-107-23h8m-3 17h8m100 7h8m-153 21h8m23 6h8m-26-41h8m29 29h8m107-34h8m-170 37h8m-52-20h8m1 1h8m28 5h8m-64-17h8m4 14h8m20 6h8m82-57h8m-23 30h8m-51 5h8m46 28h8m-33-17h8m-19-3h8m-63-11h8m112 16h8m-68-11h8m-18 29h8m-21-27h8m28 2h8m-23 16h8m-88 4h8m32-48h8m-46 42h8m-129 5h8m101-50h8m264-9h8m-307 74h8m107-24h8m51-23h8m-71 37h8m-8-59h8m-66 74h8m9-45h8m-4 45h8m-43-39h8m63-8h8m48 13h8m11-14h8m51 23h8m-87 2h8m178-42h8m-224 23h8m-97 12h8m-29 40h8m109-49h8m35 19h8m-3-23h8m-73-13h8m82-25h8m-94 49h8m-39 8h8m8-7h8m12 21h8m28-15h8m-135 36h8m1-28h8m145-47h8m-111 54h8m96-58h8m-43 24h8m-34-23h8m59 43h8m-102 19h8m43-66h8m4 9h8m9 3h8m-151-14h8m61 33h8m100-13h8m-66-20h8m36-24h8m6 16h8m-154 52h8m28-43h8m99 24h8m-72 11h8m-107 19h8m84-25h8m-10 6h8m-71 34h8m-3-47h8m85 6h8m-20 29h8m-140-43h8m8 39h8m29-75h8m16 20h8m-14 1h8m-59 35h8m74-3h8m-178-36h8m83 84h8m53 1h8m-11-19h8m-19-31h8m26 12h8m-23-25h8m-42 6h8m126-16h8m-125 34h8m181-35h8m-309 28h8m176 34h8m-163-33h8m-37 23h8m42-9h8m-146-7h8m161-14h8m24 32h8m-76-31h8m33 23h8m55-30h8m-85 8h8m106 31h8m-132-60h8m177 6h8m-140 14h8m-99 31h8m135-37h8m-40 20h8m-129 23h8m237 7h8m-178-7h8m58-58h8m149 56h8m-250-18h8m-13-21h8m78 19h8m-211-9h8m238-8h8m-147 1h8m155-6h8m-25-42h8m-167 97h8m-25-26h8m176 1h8m-185 6h8m80-18h8m27 29h8m20-4h8m-70-31h8m-65 31h8m105-36h8m-34-1h8m39 17h8m-160 5h8m175-21h8m-85-35h8m-65 31h8m60 15h8m-57 18h8m-133 9h8m74-33h8m65 16h8m-16-38h8m-8 38h8m-76 37h8m-32-44h8m34-21h8m39 42h8m-31-24h8m24 0h8m-79 18h8m-3-20h8m-8 23h8m12-33h8m-31 1h8m33 19h8m-36 6h8m119-16h8m-153 23h8m-25-15h8m87-21h8m82 17h8m-141-34h8m-79 41h8m133 9h8m-137 3h8m63 6h8m-25-29h8m-73 6h8m133-18h8m-42 3h8m-41 18h8m24 15h8m-113-13h8m57 29h8m34-28h8m14-57h8m-183 75h8m153-39h8m-115 22h8m-85-12h8m200-13h8m17 55h8m-160-9h8m119-42h8m-61-4h8m44 3h8m70-12h8m-52 31h8m-83 19h8m-106-51h8m26 41h8m19-14h8m-29-2h8m64 17h8m6-36h8m80-9h8m-55 20h8m-183 2h8m260-19h8m-182 45h8m-41-44h8m-100 64h8m128-9h8m143-50h8m-170 35h8m29-40h8m-16 18h8m36-8h8m-134 3h8m-11 39h8m95-22h8m16 12h8m-129-45h8m71 25h8m34-11h8m-55-20h8m-59 62h8m170-37h8m-53 10h8m-65 30h8m-68-40h8m-83 54h8m43-80h8m33 67h8m-81-6h8m131-56h8m-171 12h8m206 66h8m-160-56h8m-32 42h8m26-21h8m48-11h8m30-9h8m-163-11h8m117-9h8m-87 14h8m-68 44h8m0-64h8m162 4h8m-189 49h8m43-16h8m39-13h8m96-20h8m-270 6h8m157 7h8m-7-9h8m-138 26h8m78-18h8m-1-13h8m61 58h8m-78-71h8m-18 65h8m43-32h8m54-9h8m-181 1h8m91-2h8m-27 12h8m1-37h8m68 62h8m-119-9h8m-72 1h8m83-8h8m-82 32h8m199-43h8m-25 19h8m-187-16h8m74 46h8m-130-43h8m95-18h8m-28 11h8m165 20h8m-107 23h8m-29-25h8m59 33h8m-123-60h8m70 0h8m-105 14h8m2 39h8m169-66h8m-348 51h8m236-47h8m-103 38h8m112-34h8m-123 96h8m54-54h8m-119-20h8m170 15h8m-142-8h8m-60-8h8m-133 36h8m88-53h8m181 50h8m-152 7h8m-17-52h8m91 13h8m-25-38h8m18 53h8m-40-3h8m147-15h8m-226 2h8m27 7h8m21-16h8m52 5h8m59-16h8m-113 10h8m48-6h8m-40-39h8m181 23h8m-268 60h8m141-1h8m-114-35h8m13 12h8m27 24h8m27-68h8m-143 57h8m26-50h8m-62 52h8m-137-3h8m342-28h8m-151 10h8m-19 49h8m-72-97h8m36 24h8m39 33h8m54-5h8m-77-16h8m-17 25h8m-97 0h8m25-1h8m40 19h8m-149-32h8m93 15h8m33 12h8m103-42h8m-246 61h8m15-49h8m146-32h8m-242 33h8m334-3h8m-153 33h8m40-35h8m-30 9h8m-173 15h8m158 0h8m-123-26h8m47 14h8m7-19h8m10 30h8m34 5h8m-69-65h8m76 48h8m-68-4h8m-68 26h8m61-39h8m-70 23h8m79-36h8m-90 53h8m-2 33h8m83-54h8m-207 47h8m157-14h8m-82-35h8m80 0h8m-14 3h8m-119 29h8m90-47h8m78 24h8m-156-23h8m78 27h8m110-26h8m-323-10h8m116 19h8m144 6h8m-155-2h8m-5 9h8m-69 51h8m-138-69h8m245-9h8m-16 0h8m40 13h8m-60-6h8m-122 16h8m-75-8h8m148-12h8m85 52h8m-83 20h8m-4-61h8m80-2h8m-174-25h8m18 26h8m76 19h8m-108 1h8m-32-12h8m19 44h8m72 18h8m-117-61h8m21-22h8m41 33h8m-91 13h8m11-40h8m48 13h8m-3 25h8m-83-9h8m5-29h8m102 30h8m-111-30h8m28 50h8m-18-34h8m-50-39h8m92 15h8m-76 43h8m-110 32h8m231-54h8m-144-2h8m25 55h8m-4-82h8m-56 57h8m-61-53h8m3-6h8m17 13h8m88 35h8m-81-7h8m48-15h8m-209 32h8m86-34h8m75 43h8m-99-24h8m126-2h8m-79-35h8m-12 28h8m-61-21h8m55 37h8m-106-44h8m168 38h8m-51 11h8m-53-7h8m-62 21h8m101-4h8m-103-33h8m125-16h8m-32 3h8m-107 19h8m28-8h8m133-13h8m-86 51h8m14-39h8m-116-2h8m88 35h8m-160-46h8m133 12h8m15 12h8m-92 10h8m35-47h8m-66 2h8m-1 3h8m30 5h8m10 44h8m-31-27h8m15 8h8m-115-17h8m-40 10h8m130 14h8m-211 11h8m44-19h8m16 26h8m138-47h8m-14 1h8m163-12h8m-247 17h8m-8 31h8m2-52h8m-93 50h8m156-65h8m-143 14h8m4 38h8m62 0h8m-59-5h8m60-48h8m16 70h8m-6-2h8m-68-39h8m-64 54h8m49-48h8m-84 21h8m-40-16h8m-12-5h8m174-27h8m-176 42h8m175 6h8m-97-16h8m-26 24h8m21 3h8m103 5h8m-224 8h8m124-33h8m-74 10h8m-50-5h8m-83-9h8m71-15h8m-2 64h8m57-63h8m55 27h8m-39 23h8m-57-24h8m130-29h8m-171 35h8m41 22h8m-39-53h8m63-5h8m-20 10h8m-41 31h8m37-3h8m-34-29h8m-74 20h8m108 9h8m-114-37h8m-16 24h8m90 4h8m-94 13h8m29-4h8m168-62h8m-125 41h8m-108-3h8m-7 18h8m100-5h8m-53-8h8m-98 15h8m108 34h8m-169 6h8m196-37h8m-12-20h8m22 42h8m-221-41h8m126-37h8m91 26h8m-118-7h8m-54-27h8m101 18h8m-201 32h8m86-9h8m31 15h8m-71 11h8m29-4h8m49-44h8m-11 42h8m-69 25h8m-92-34h8m-31 3h8m36 11h8m20 1h8m-26-12h8m245-13h8m-223-11h8m-5-19h8m48 21h8m-144 16h8m44 3h8m74-18h8m-101 0h8m115 14h8m-123 17h8m52-23h8m77-10h8m-32 12h8m-76-7h8m-6 23h8m32-27h8m-91-24h8m-49 87h8m136-44h8m3 11h8m-70-19h8m-44 4h8m-71 11h8m28-2h8m11-8h8m33-19h8m36 28h8m-64-7h8m19 40h8m-131-51h8m91 1h8m66 1h8m-140-30h8m-91 31h8m169-41h8m52 25h8m-60 22h8m-94 7h8m70 14h8m-197-2h8m144 4h8m-66-5h8m118-72h8m-152 65h8m201-56h8m22 46h8m-39 16h8m-75 8h8m-130-12h8m22-9h8m78-39h8m-45 50h8m-80-5h8m19-13h8m-51-19h8m76-9h8m-38 22h8m89 21h8m-49-16h8m-85-12h8" stroke="#000" stroke-width="8" stroke-opacity="0.72" fill="none"/>
<path transform="scale(0.1)" d="M4453 5431h8m15 19h8m-55 18h8m-43-19h8m13-43h8m-28 21h8m35 0h8m-107 15h8m136-3h8m-80 6h8m122-42h8m-267 59h8m69 2h8m-55-27h8m80-32h8m17 11h8m-69 2h8m40-1h8m-17-42h8m-53 66h8m32-24h8m-66 47h8m35-5h8m-18-7h8m-27-45h8m-21 44h8m75-18h8m-37-25h8m108 7h8m-244 29h8m106-44h8m13 39h8m14-27h8m-11 61h8m103-71h8m-191 29h8m-56 27h8m119-35h8m-91 17h8m46-31h8m-33 9h8m142 16h8m-199-6h8m156 15h8m-88-36h8m-14 39h8m-17-17h8m-67 47h8m47-43h8m-2-3h8m-40-5h8m-56 29h8m35-2h8m11 2h8m-10-24h8m-80 21h8m83-25h8m40-56h8m-72 68h8m78-54h8m-69 44h8m-54-3h8m-40 10h8m-18 12h8m15-32h8m30 19h8m-52 46h8m39-11h8m111-25h8m-227 41h8m117-48h8m-6 34h8m-6-45h8m-5 20h8m-30-2h8m-29-3h8m-7-24h8m-41 34h8m12 31h8m30-44h8m-12-14h8m0 10h8m-63 1h8m-34 13h8m181-64h8m-94 57h8m9-30h8m-44 14h8m21-6h8m0-36h8m30 60h8m-90 26h8m14-59h8m28 64h8m-161-18h8m79-34h8m17 10h8m-81 22h8m5-26h8m98-4h8m-58-27h8m-26 51h8m-43-23h8m29-28h8m184-15h8m-201 20h8m-62 63h8m-43 23h8m136-97h8m-38 22h8m-95 6h8m128-34h8m-13 8h8m-123 46h8m-13-29h8m70 31h8m-26 38h8m5-77h8m32 13h8m-109 12h8m33-55h8m-98 35h8m125 52h8m8-45h8m-223 91h8m75-55h8m86-6h8m-120 34h8m79-58h8m34 32h8m-35 6h8m17-43h8m-52 19h8m53-43h8m-73 79h8m-33-52h8m-29 28h8m-60-1h8m88-21h8m9 27h8m-26-13h8m-48 32h8m18-32h8m80 3h8m-65-35h8m53-8h8m-68-47h8m-34 112h8m146-42h8m-203-6h8m-50 19h8m57 4h8m37-33h8m37 43h8m-36 17h8m-64-20h8m107-28h8m-71 3h8m-24-21h8m-49 6h8m124-15h8m-30 20h8m-124 58h8m102-70h8m-57 37h8m-30 41h8m75-22h8m-117 8h8m34-13h8m41-88h8m-58 57h8m-96 38h8m32-16h8m48 4h8m-62 19h8m32-21h8m23-44h8m-78 30h8m-51 0h8m96 21h8m65-34h8m-107 45h8m19-33h8m-8-27h8m-15 22h8m-104 5h8m89-35h8m-4-5h8m-72 74h8m56-44h8m-84 1h8m-22 14h8m8 9h8m106-31h8m-21 0h8m-52 5h8m86 7h8m-154 10h8m99 23h8m-101-38h8m-113-17h8m171-1h8m-31 38h8m-110 20h8m55-7h8m43-11h8m-52 34h8m46-66h8m-134 70h8m204-74h8m-146 25h8m-33 47h8m3-5h8m-32-63h8m-50 68h8m20-10h8m57-64h8m31 2h8m-123 40h8m85-22h8m-48 38h8m147-35h8m-115-31h8m-7-32h8m-22 46h8m6 25h8m-49 9h8m-35 31h8m133-37h8m-22 1h8m-39-45h8m-119 85h8m40-65h8m47 46h8m-47-6h8m-119 18h8m95-21h8m-86 16h8m1-20h8m82-49h8m-212 102h8m241-70h8m-135 33h8m19-27h8m17 22h8m-30-31h8m-3-17h8m-25 59h8m38-42h8m-82 10h8m51-11h8m9 42h8m-30-22h8m73-39h8m-91 8h8m-30 9h8m154-24h8m-56-19h8m-52 37h8m-58 13h8m92-46h8m-73 35h8m-39-4h8m-2 22h8m63 16h8m-44 14h8m-76-48h8m-93 42h8m165-27h8m-53-10h8m31-36h8m-39 26h8m34-16h8m-36 3h8m-33 35h8m-18-2h8m-113 7h8m26 47h8m193-91h8m-169 84h8m-8-46h8m154-28h8m-115 13h8m-139 36h8m-45-8h8m39-19h8m69-12h8m74 18h8m-31 8h8m-64 15h8m60-66h8m-125 92h8m48-37h8m71-52h8m92-9h8m-208 53h8m-28 13h8m54-67h8m-3 11h8m34 38h8" stroke="#000" stroke-width="8" stroke-opacity="0.5" fill="none"/>
<line x1="30.50" y1="356.00" x2="30.50" y2="531.60" stroke="#111" stroke-width="1.6"/>
<polygon points="30.5,349.0 26.0,356.8 35.0,356.8" fill="#000"/>
<line x1="76.20" y1="576.80" x2="461.00" y2="576.80" stroke="#111" stroke-width="1.6"/>
<polygon points="469.0,576.8 460.2,572.6 460.2,581.0" fill="#000"/>
<text x="41.00" y="581.20" font-size="10.8" text-anchor="start" font-weight="bold" fill="#000" textLength="29.6" lengthAdjust="spacingAndGlyphs">TRAIL</text>
<text transform="translate(34.60,551.00) rotate(-90)" font-size="10.8" text-anchor="middle" font-weight="bold" fill="#000" >SSC</text>
</svg>
</body></html>
